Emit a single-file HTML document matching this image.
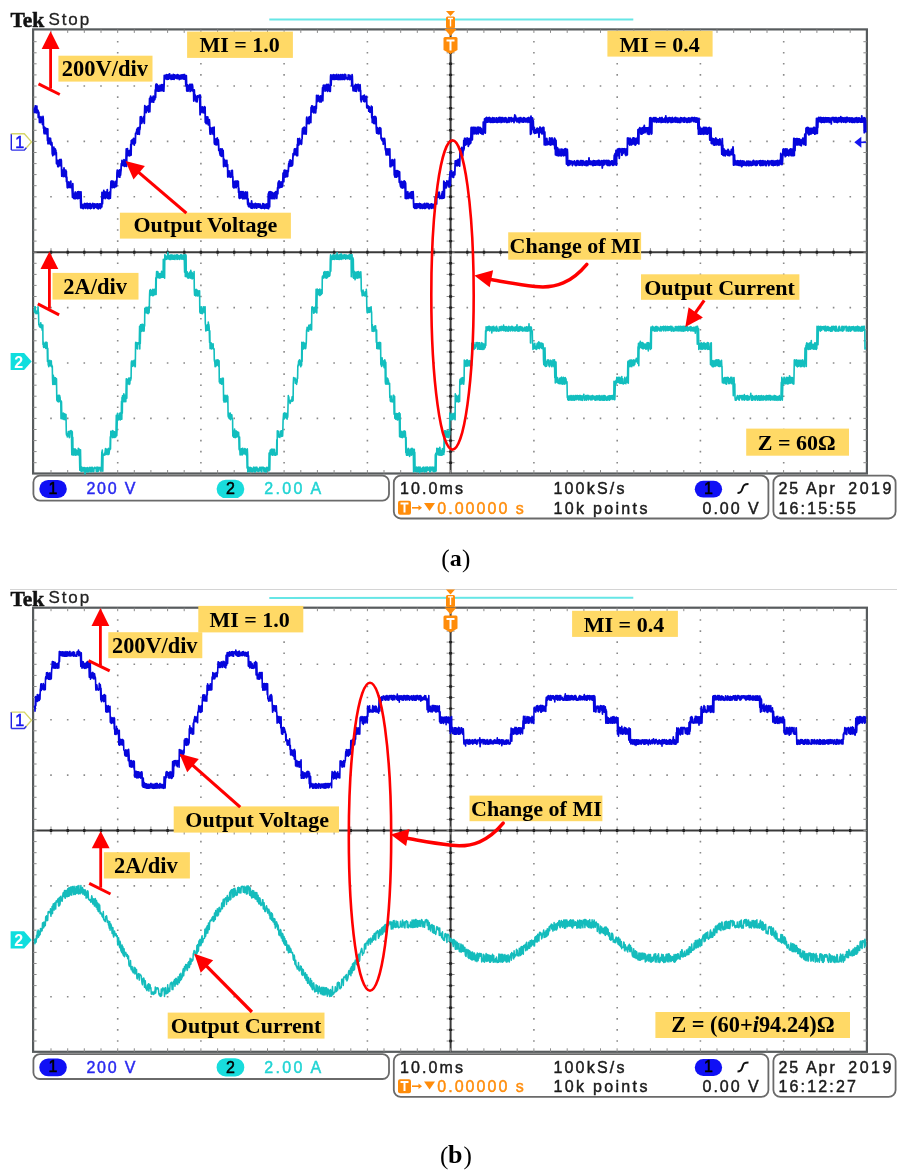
<!DOCTYPE html>
<html><head><meta charset="utf-8"><style>
html,body{margin:0;padding:0;background:#fff;width:903px;height:1173px;overflow:hidden;position:relative}
</style></head><body>
<svg width="903" height="1173" viewBox="0 0 903 1173" style="position:absolute;left:0;top:0;filter:blur(0.35px)">
<rect width="903" height="1173" fill="#fff"/>
<rect x="33.1" y="29.4" width="833.8" height="444.1" fill="none" stroke="#575b5d" stroke-width="2.2"/>
<path d="M116.9 40.9h1.6v1.6h-1.6zM116.9 52h1.6v1.6h-1.6zM116.9 63h1.6v1.6h-1.6zM116.9 74.1h1.6v1.6h-1.6zM116.9 85.2h1.6v1.6h-1.6zM116.9 96.3h1.6v1.6h-1.6zM116.9 107.4h1.6v1.6h-1.6zM116.9 118.4h1.6v1.6h-1.6zM116.9 129.5h1.6v1.6h-1.6zM116.9 140.6h1.6v1.6h-1.6zM116.9 151.7h1.6v1.6h-1.6zM116.9 162.8h1.6v1.6h-1.6zM116.9 173.8h1.6v1.6h-1.6zM116.9 184.9h1.6v1.6h-1.6zM116.9 196h1.6v1.6h-1.6zM116.9 207.1h1.6v1.6h-1.6zM116.9 218.2h1.6v1.6h-1.6zM116.9 229.2h1.6v1.6h-1.6zM116.9 240.3h1.6v1.6h-1.6zM116.9 251.4h1.6v1.6h-1.6zM116.9 262.5h1.6v1.6h-1.6zM116.9 273.6h1.6v1.6h-1.6zM116.9 284.6h1.6v1.6h-1.6zM116.9 295.7h1.6v1.6h-1.6zM116.9 306.8h1.6v1.6h-1.6zM116.9 317.9h1.6v1.6h-1.6zM116.9 329h1.6v1.6h-1.6zM116.9 340h1.6v1.6h-1.6zM116.9 351.1h1.6v1.6h-1.6zM116.9 362.2h1.6v1.6h-1.6zM116.9 373.3h1.6v1.6h-1.6zM116.9 384.4h1.6v1.6h-1.6zM116.9 395.4h1.6v1.6h-1.6zM116.9 406.5h1.6v1.6h-1.6zM116.9 417.6h1.6v1.6h-1.6zM116.9 428.7h1.6v1.6h-1.6zM116.9 439.8h1.6v1.6h-1.6zM116.9 450.8h1.6v1.6h-1.6zM116.9 461.9h1.6v1.6h-1.6zM200.1 40.9h1.6v1.6h-1.6zM200.1 52h1.6v1.6h-1.6zM200.1 63h1.6v1.6h-1.6zM200.1 74.1h1.6v1.6h-1.6zM200.1 85.2h1.6v1.6h-1.6zM200.1 96.3h1.6v1.6h-1.6zM200.1 107.4h1.6v1.6h-1.6zM200.1 118.4h1.6v1.6h-1.6zM200.1 129.5h1.6v1.6h-1.6zM200.1 140.6h1.6v1.6h-1.6zM200.1 151.7h1.6v1.6h-1.6zM200.1 162.8h1.6v1.6h-1.6zM200.1 173.8h1.6v1.6h-1.6zM200.1 184.9h1.6v1.6h-1.6zM200.1 196h1.6v1.6h-1.6zM200.1 207.1h1.6v1.6h-1.6zM200.1 218.2h1.6v1.6h-1.6zM200.1 229.2h1.6v1.6h-1.6zM200.1 240.3h1.6v1.6h-1.6zM200.1 251.4h1.6v1.6h-1.6zM200.1 262.5h1.6v1.6h-1.6zM200.1 273.6h1.6v1.6h-1.6zM200.1 284.6h1.6v1.6h-1.6zM200.1 295.7h1.6v1.6h-1.6zM200.1 306.8h1.6v1.6h-1.6zM200.1 317.9h1.6v1.6h-1.6zM200.1 329h1.6v1.6h-1.6zM200.1 340h1.6v1.6h-1.6zM200.1 351.1h1.6v1.6h-1.6zM200.1 362.2h1.6v1.6h-1.6zM200.1 373.3h1.6v1.6h-1.6zM200.1 384.4h1.6v1.6h-1.6zM200.1 395.4h1.6v1.6h-1.6zM200.1 406.5h1.6v1.6h-1.6zM200.1 417.6h1.6v1.6h-1.6zM200.1 428.7h1.6v1.6h-1.6zM200.1 439.8h1.6v1.6h-1.6zM200.1 450.8h1.6v1.6h-1.6zM200.1 461.9h1.6v1.6h-1.6zM283.3 40.9h1.6v1.6h-1.6zM283.3 52h1.6v1.6h-1.6zM283.3 63h1.6v1.6h-1.6zM283.3 74.1h1.6v1.6h-1.6zM283.3 85.2h1.6v1.6h-1.6zM283.3 96.3h1.6v1.6h-1.6zM283.3 107.4h1.6v1.6h-1.6zM283.3 118.4h1.6v1.6h-1.6zM283.3 129.5h1.6v1.6h-1.6zM283.3 140.6h1.6v1.6h-1.6zM283.3 151.7h1.6v1.6h-1.6zM283.3 162.8h1.6v1.6h-1.6zM283.3 173.8h1.6v1.6h-1.6zM283.3 184.9h1.6v1.6h-1.6zM283.3 196h1.6v1.6h-1.6zM283.3 207.1h1.6v1.6h-1.6zM283.3 218.2h1.6v1.6h-1.6zM283.3 229.2h1.6v1.6h-1.6zM283.3 240.3h1.6v1.6h-1.6zM283.3 251.4h1.6v1.6h-1.6zM283.3 262.5h1.6v1.6h-1.6zM283.3 273.6h1.6v1.6h-1.6zM283.3 284.6h1.6v1.6h-1.6zM283.3 295.7h1.6v1.6h-1.6zM283.3 306.8h1.6v1.6h-1.6zM283.3 317.9h1.6v1.6h-1.6zM283.3 329h1.6v1.6h-1.6zM283.3 340h1.6v1.6h-1.6zM283.3 351.1h1.6v1.6h-1.6zM283.3 362.2h1.6v1.6h-1.6zM283.3 373.3h1.6v1.6h-1.6zM283.3 384.4h1.6v1.6h-1.6zM283.3 395.4h1.6v1.6h-1.6zM283.3 406.5h1.6v1.6h-1.6zM283.3 417.6h1.6v1.6h-1.6zM283.3 428.7h1.6v1.6h-1.6zM283.3 439.8h1.6v1.6h-1.6zM283.3 450.8h1.6v1.6h-1.6zM283.3 461.9h1.6v1.6h-1.6zM366.6 40.9h1.6v1.6h-1.6zM366.6 52h1.6v1.6h-1.6zM366.6 63h1.6v1.6h-1.6zM366.6 74.1h1.6v1.6h-1.6zM366.6 85.2h1.6v1.6h-1.6zM366.6 96.3h1.6v1.6h-1.6zM366.6 107.4h1.6v1.6h-1.6zM366.6 118.4h1.6v1.6h-1.6zM366.6 129.5h1.6v1.6h-1.6zM366.6 140.6h1.6v1.6h-1.6zM366.6 151.7h1.6v1.6h-1.6zM366.6 162.8h1.6v1.6h-1.6zM366.6 173.8h1.6v1.6h-1.6zM366.6 184.9h1.6v1.6h-1.6zM366.6 196h1.6v1.6h-1.6zM366.6 207.1h1.6v1.6h-1.6zM366.6 218.2h1.6v1.6h-1.6zM366.6 229.2h1.6v1.6h-1.6zM366.6 240.3h1.6v1.6h-1.6zM366.6 251.4h1.6v1.6h-1.6zM366.6 262.5h1.6v1.6h-1.6zM366.6 273.6h1.6v1.6h-1.6zM366.6 284.6h1.6v1.6h-1.6zM366.6 295.7h1.6v1.6h-1.6zM366.6 306.8h1.6v1.6h-1.6zM366.6 317.9h1.6v1.6h-1.6zM366.6 329h1.6v1.6h-1.6zM366.6 340h1.6v1.6h-1.6zM366.6 351.1h1.6v1.6h-1.6zM366.6 362.2h1.6v1.6h-1.6zM366.6 373.3h1.6v1.6h-1.6zM366.6 384.4h1.6v1.6h-1.6zM366.6 395.4h1.6v1.6h-1.6zM366.6 406.5h1.6v1.6h-1.6zM366.6 417.6h1.6v1.6h-1.6zM366.6 428.7h1.6v1.6h-1.6zM366.6 439.8h1.6v1.6h-1.6zM366.6 450.8h1.6v1.6h-1.6zM366.6 461.9h1.6v1.6h-1.6zM533.1 40.9h1.6v1.6h-1.6zM533.1 52h1.6v1.6h-1.6zM533.1 63h1.6v1.6h-1.6zM533.1 74.1h1.6v1.6h-1.6zM533.1 85.2h1.6v1.6h-1.6zM533.1 96.3h1.6v1.6h-1.6zM533.1 107.4h1.6v1.6h-1.6zM533.1 118.4h1.6v1.6h-1.6zM533.1 129.5h1.6v1.6h-1.6zM533.1 140.6h1.6v1.6h-1.6zM533.1 151.7h1.6v1.6h-1.6zM533.1 162.8h1.6v1.6h-1.6zM533.1 173.8h1.6v1.6h-1.6zM533.1 184.9h1.6v1.6h-1.6zM533.1 196h1.6v1.6h-1.6zM533.1 207.1h1.6v1.6h-1.6zM533.1 218.2h1.6v1.6h-1.6zM533.1 229.2h1.6v1.6h-1.6zM533.1 240.3h1.6v1.6h-1.6zM533.1 251.4h1.6v1.6h-1.6zM533.1 262.5h1.6v1.6h-1.6zM533.1 273.6h1.6v1.6h-1.6zM533.1 284.6h1.6v1.6h-1.6zM533.1 295.7h1.6v1.6h-1.6zM533.1 306.8h1.6v1.6h-1.6zM533.1 317.9h1.6v1.6h-1.6zM533.1 329h1.6v1.6h-1.6zM533.1 340h1.6v1.6h-1.6zM533.1 351.1h1.6v1.6h-1.6zM533.1 362.2h1.6v1.6h-1.6zM533.1 373.3h1.6v1.6h-1.6zM533.1 384.4h1.6v1.6h-1.6zM533.1 395.4h1.6v1.6h-1.6zM533.1 406.5h1.6v1.6h-1.6zM533.1 417.6h1.6v1.6h-1.6zM533.1 428.7h1.6v1.6h-1.6zM533.1 439.8h1.6v1.6h-1.6zM533.1 450.8h1.6v1.6h-1.6zM533.1 461.9h1.6v1.6h-1.6zM616.4 40.9h1.6v1.6h-1.6zM616.4 52h1.6v1.6h-1.6zM616.4 63h1.6v1.6h-1.6zM616.4 74.1h1.6v1.6h-1.6zM616.4 85.2h1.6v1.6h-1.6zM616.4 96.3h1.6v1.6h-1.6zM616.4 107.4h1.6v1.6h-1.6zM616.4 118.4h1.6v1.6h-1.6zM616.4 129.5h1.6v1.6h-1.6zM616.4 140.6h1.6v1.6h-1.6zM616.4 151.7h1.6v1.6h-1.6zM616.4 162.8h1.6v1.6h-1.6zM616.4 173.8h1.6v1.6h-1.6zM616.4 184.9h1.6v1.6h-1.6zM616.4 196h1.6v1.6h-1.6zM616.4 207.1h1.6v1.6h-1.6zM616.4 218.2h1.6v1.6h-1.6zM616.4 229.2h1.6v1.6h-1.6zM616.4 240.3h1.6v1.6h-1.6zM616.4 251.4h1.6v1.6h-1.6zM616.4 262.5h1.6v1.6h-1.6zM616.4 273.6h1.6v1.6h-1.6zM616.4 284.6h1.6v1.6h-1.6zM616.4 295.7h1.6v1.6h-1.6zM616.4 306.8h1.6v1.6h-1.6zM616.4 317.9h1.6v1.6h-1.6zM616.4 329h1.6v1.6h-1.6zM616.4 340h1.6v1.6h-1.6zM616.4 351.1h1.6v1.6h-1.6zM616.4 362.2h1.6v1.6h-1.6zM616.4 373.3h1.6v1.6h-1.6zM616.4 384.4h1.6v1.6h-1.6zM616.4 395.4h1.6v1.6h-1.6zM616.4 406.5h1.6v1.6h-1.6zM616.4 417.6h1.6v1.6h-1.6zM616.4 428.7h1.6v1.6h-1.6zM616.4 439.8h1.6v1.6h-1.6zM616.4 450.8h1.6v1.6h-1.6zM616.4 461.9h1.6v1.6h-1.6zM699.6 40.9h1.6v1.6h-1.6zM699.6 52h1.6v1.6h-1.6zM699.6 63h1.6v1.6h-1.6zM699.6 74.1h1.6v1.6h-1.6zM699.6 85.2h1.6v1.6h-1.6zM699.6 96.3h1.6v1.6h-1.6zM699.6 107.4h1.6v1.6h-1.6zM699.6 118.4h1.6v1.6h-1.6zM699.6 129.5h1.6v1.6h-1.6zM699.6 140.6h1.6v1.6h-1.6zM699.6 151.7h1.6v1.6h-1.6zM699.6 162.8h1.6v1.6h-1.6zM699.6 173.8h1.6v1.6h-1.6zM699.6 184.9h1.6v1.6h-1.6zM699.6 196h1.6v1.6h-1.6zM699.6 207.1h1.6v1.6h-1.6zM699.6 218.2h1.6v1.6h-1.6zM699.6 229.2h1.6v1.6h-1.6zM699.6 240.3h1.6v1.6h-1.6zM699.6 251.4h1.6v1.6h-1.6zM699.6 262.5h1.6v1.6h-1.6zM699.6 273.6h1.6v1.6h-1.6zM699.6 284.6h1.6v1.6h-1.6zM699.6 295.7h1.6v1.6h-1.6zM699.6 306.8h1.6v1.6h-1.6zM699.6 317.9h1.6v1.6h-1.6zM699.6 329h1.6v1.6h-1.6zM699.6 340h1.6v1.6h-1.6zM699.6 351.1h1.6v1.6h-1.6zM699.6 362.2h1.6v1.6h-1.6zM699.6 373.3h1.6v1.6h-1.6zM699.6 384.4h1.6v1.6h-1.6zM699.6 395.4h1.6v1.6h-1.6zM699.6 406.5h1.6v1.6h-1.6zM699.6 417.6h1.6v1.6h-1.6zM699.6 428.7h1.6v1.6h-1.6zM699.6 439.8h1.6v1.6h-1.6zM699.6 450.8h1.6v1.6h-1.6zM699.6 461.9h1.6v1.6h-1.6zM782.9 40.9h1.6v1.6h-1.6zM782.9 52h1.6v1.6h-1.6zM782.9 63h1.6v1.6h-1.6zM782.9 74.1h1.6v1.6h-1.6zM782.9 85.2h1.6v1.6h-1.6zM782.9 96.3h1.6v1.6h-1.6zM782.9 107.4h1.6v1.6h-1.6zM782.9 118.4h1.6v1.6h-1.6zM782.9 129.5h1.6v1.6h-1.6zM782.9 140.6h1.6v1.6h-1.6zM782.9 151.7h1.6v1.6h-1.6zM782.9 162.8h1.6v1.6h-1.6zM782.9 173.8h1.6v1.6h-1.6zM782.9 184.9h1.6v1.6h-1.6zM782.9 196h1.6v1.6h-1.6zM782.9 207.1h1.6v1.6h-1.6zM782.9 218.2h1.6v1.6h-1.6zM782.9 229.2h1.6v1.6h-1.6zM782.9 240.3h1.6v1.6h-1.6zM782.9 251.4h1.6v1.6h-1.6zM782.9 262.5h1.6v1.6h-1.6zM782.9 273.6h1.6v1.6h-1.6zM782.9 284.6h1.6v1.6h-1.6zM782.9 295.7h1.6v1.6h-1.6zM782.9 306.8h1.6v1.6h-1.6zM782.9 317.9h1.6v1.6h-1.6zM782.9 329h1.6v1.6h-1.6zM782.9 340h1.6v1.6h-1.6zM782.9 351.1h1.6v1.6h-1.6zM782.9 362.2h1.6v1.6h-1.6zM782.9 373.3h1.6v1.6h-1.6zM782.9 384.4h1.6v1.6h-1.6zM782.9 395.4h1.6v1.6h-1.6zM782.9 406.5h1.6v1.6h-1.6zM782.9 417.6h1.6v1.6h-1.6zM782.9 428.7h1.6v1.6h-1.6zM782.9 439.8h1.6v1.6h-1.6zM782.9 450.8h1.6v1.6h-1.6zM782.9 461.9h1.6v1.6h-1.6zM50.2 85.2h1.6v1.6h-1.6zM66.9 85.2h1.6v1.6h-1.6zM83.5 85.2h1.6v1.6h-1.6zM100.2 85.2h1.6v1.6h-1.6zM116.9 85.2h1.6v1.6h-1.6zM133.5 85.2h1.6v1.6h-1.6zM150.1 85.2h1.6v1.6h-1.6zM166.8 85.2h1.6v1.6h-1.6zM183.4 85.2h1.6v1.6h-1.6zM200.1 85.2h1.6v1.6h-1.6zM216.8 85.2h1.6v1.6h-1.6zM233.4 85.2h1.6v1.6h-1.6zM250 85.2h1.6v1.6h-1.6zM266.7 85.2h1.6v1.6h-1.6zM283.3 85.2h1.6v1.6h-1.6zM300 85.2h1.6v1.6h-1.6zM316.6 85.2h1.6v1.6h-1.6zM333.3 85.2h1.6v1.6h-1.6zM349.9 85.2h1.6v1.6h-1.6zM366.6 85.2h1.6v1.6h-1.6zM383.2 85.2h1.6v1.6h-1.6zM399.9 85.2h1.6v1.6h-1.6zM416.5 85.2h1.6v1.6h-1.6zM433.2 85.2h1.6v1.6h-1.6zM449.8 85.2h1.6v1.6h-1.6zM466.5 85.2h1.6v1.6h-1.6zM483.1 85.2h1.6v1.6h-1.6zM499.8 85.2h1.6v1.6h-1.6zM516.5 85.2h1.6v1.6h-1.6zM533.1 85.2h1.6v1.6h-1.6zM549.8 85.2h1.6v1.6h-1.6zM566.4 85.2h1.6v1.6h-1.6zM583.1 85.2h1.6v1.6h-1.6zM599.7 85.2h1.6v1.6h-1.6zM616.4 85.2h1.6v1.6h-1.6zM633 85.2h1.6v1.6h-1.6zM649.6 85.2h1.6v1.6h-1.6zM666.3 85.2h1.6v1.6h-1.6zM683 85.2h1.6v1.6h-1.6zM699.6 85.2h1.6v1.6h-1.6zM716.2 85.2h1.6v1.6h-1.6zM732.9 85.2h1.6v1.6h-1.6zM749.6 85.2h1.6v1.6h-1.6zM766.2 85.2h1.6v1.6h-1.6zM782.9 85.2h1.6v1.6h-1.6zM799.5 85.2h1.6v1.6h-1.6zM816.1 85.2h1.6v1.6h-1.6zM832.8 85.2h1.6v1.6h-1.6zM849.5 85.2h1.6v1.6h-1.6zM50.2 140.6h1.6v1.6h-1.6zM66.9 140.6h1.6v1.6h-1.6zM83.5 140.6h1.6v1.6h-1.6zM100.2 140.6h1.6v1.6h-1.6zM116.9 140.6h1.6v1.6h-1.6zM133.5 140.6h1.6v1.6h-1.6zM150.1 140.6h1.6v1.6h-1.6zM166.8 140.6h1.6v1.6h-1.6zM183.4 140.6h1.6v1.6h-1.6zM200.1 140.6h1.6v1.6h-1.6zM216.8 140.6h1.6v1.6h-1.6zM233.4 140.6h1.6v1.6h-1.6zM250 140.6h1.6v1.6h-1.6zM266.7 140.6h1.6v1.6h-1.6zM283.3 140.6h1.6v1.6h-1.6zM300 140.6h1.6v1.6h-1.6zM316.6 140.6h1.6v1.6h-1.6zM333.3 140.6h1.6v1.6h-1.6zM349.9 140.6h1.6v1.6h-1.6zM366.6 140.6h1.6v1.6h-1.6zM383.2 140.6h1.6v1.6h-1.6zM399.9 140.6h1.6v1.6h-1.6zM416.5 140.6h1.6v1.6h-1.6zM433.2 140.6h1.6v1.6h-1.6zM449.8 140.6h1.6v1.6h-1.6zM466.5 140.6h1.6v1.6h-1.6zM483.1 140.6h1.6v1.6h-1.6zM499.8 140.6h1.6v1.6h-1.6zM516.5 140.6h1.6v1.6h-1.6zM533.1 140.6h1.6v1.6h-1.6zM549.8 140.6h1.6v1.6h-1.6zM566.4 140.6h1.6v1.6h-1.6zM583.1 140.6h1.6v1.6h-1.6zM599.7 140.6h1.6v1.6h-1.6zM616.4 140.6h1.6v1.6h-1.6zM633 140.6h1.6v1.6h-1.6zM649.6 140.6h1.6v1.6h-1.6zM666.3 140.6h1.6v1.6h-1.6zM683 140.6h1.6v1.6h-1.6zM699.6 140.6h1.6v1.6h-1.6zM716.2 140.6h1.6v1.6h-1.6zM732.9 140.6h1.6v1.6h-1.6zM749.6 140.6h1.6v1.6h-1.6zM766.2 140.6h1.6v1.6h-1.6zM782.9 140.6h1.6v1.6h-1.6zM799.5 140.6h1.6v1.6h-1.6zM816.1 140.6h1.6v1.6h-1.6zM832.8 140.6h1.6v1.6h-1.6zM849.5 140.6h1.6v1.6h-1.6zM50.2 196h1.6v1.6h-1.6zM66.9 196h1.6v1.6h-1.6zM83.5 196h1.6v1.6h-1.6zM100.2 196h1.6v1.6h-1.6zM116.9 196h1.6v1.6h-1.6zM133.5 196h1.6v1.6h-1.6zM150.1 196h1.6v1.6h-1.6zM166.8 196h1.6v1.6h-1.6zM183.4 196h1.6v1.6h-1.6zM200.1 196h1.6v1.6h-1.6zM216.8 196h1.6v1.6h-1.6zM233.4 196h1.6v1.6h-1.6zM250 196h1.6v1.6h-1.6zM266.7 196h1.6v1.6h-1.6zM283.3 196h1.6v1.6h-1.6zM300 196h1.6v1.6h-1.6zM316.6 196h1.6v1.6h-1.6zM333.3 196h1.6v1.6h-1.6zM349.9 196h1.6v1.6h-1.6zM366.6 196h1.6v1.6h-1.6zM383.2 196h1.6v1.6h-1.6zM399.9 196h1.6v1.6h-1.6zM416.5 196h1.6v1.6h-1.6zM433.2 196h1.6v1.6h-1.6zM449.8 196h1.6v1.6h-1.6zM466.5 196h1.6v1.6h-1.6zM483.1 196h1.6v1.6h-1.6zM499.8 196h1.6v1.6h-1.6zM516.5 196h1.6v1.6h-1.6zM533.1 196h1.6v1.6h-1.6zM549.8 196h1.6v1.6h-1.6zM566.4 196h1.6v1.6h-1.6zM583.1 196h1.6v1.6h-1.6zM599.7 196h1.6v1.6h-1.6zM616.4 196h1.6v1.6h-1.6zM633 196h1.6v1.6h-1.6zM649.6 196h1.6v1.6h-1.6zM666.3 196h1.6v1.6h-1.6zM683 196h1.6v1.6h-1.6zM699.6 196h1.6v1.6h-1.6zM716.2 196h1.6v1.6h-1.6zM732.9 196h1.6v1.6h-1.6zM749.6 196h1.6v1.6h-1.6zM766.2 196h1.6v1.6h-1.6zM782.9 196h1.6v1.6h-1.6zM799.5 196h1.6v1.6h-1.6zM816.1 196h1.6v1.6h-1.6zM832.8 196h1.6v1.6h-1.6zM849.5 196h1.6v1.6h-1.6zM50.2 306.8h1.6v1.6h-1.6zM66.9 306.8h1.6v1.6h-1.6zM83.5 306.8h1.6v1.6h-1.6zM100.2 306.8h1.6v1.6h-1.6zM116.9 306.8h1.6v1.6h-1.6zM133.5 306.8h1.6v1.6h-1.6zM150.1 306.8h1.6v1.6h-1.6zM166.8 306.8h1.6v1.6h-1.6zM183.4 306.8h1.6v1.6h-1.6zM200.1 306.8h1.6v1.6h-1.6zM216.8 306.8h1.6v1.6h-1.6zM233.4 306.8h1.6v1.6h-1.6zM250 306.8h1.6v1.6h-1.6zM266.7 306.8h1.6v1.6h-1.6zM283.3 306.8h1.6v1.6h-1.6zM300 306.8h1.6v1.6h-1.6zM316.6 306.8h1.6v1.6h-1.6zM333.3 306.8h1.6v1.6h-1.6zM349.9 306.8h1.6v1.6h-1.6zM366.6 306.8h1.6v1.6h-1.6zM383.2 306.8h1.6v1.6h-1.6zM399.9 306.8h1.6v1.6h-1.6zM416.5 306.8h1.6v1.6h-1.6zM433.2 306.8h1.6v1.6h-1.6zM449.8 306.8h1.6v1.6h-1.6zM466.5 306.8h1.6v1.6h-1.6zM483.1 306.8h1.6v1.6h-1.6zM499.8 306.8h1.6v1.6h-1.6zM516.5 306.8h1.6v1.6h-1.6zM533.1 306.8h1.6v1.6h-1.6zM549.8 306.8h1.6v1.6h-1.6zM566.4 306.8h1.6v1.6h-1.6zM583.1 306.8h1.6v1.6h-1.6zM599.7 306.8h1.6v1.6h-1.6zM616.4 306.8h1.6v1.6h-1.6zM633 306.8h1.6v1.6h-1.6zM649.6 306.8h1.6v1.6h-1.6zM666.3 306.8h1.6v1.6h-1.6zM683 306.8h1.6v1.6h-1.6zM699.6 306.8h1.6v1.6h-1.6zM716.2 306.8h1.6v1.6h-1.6zM732.9 306.8h1.6v1.6h-1.6zM749.6 306.8h1.6v1.6h-1.6zM766.2 306.8h1.6v1.6h-1.6zM782.9 306.8h1.6v1.6h-1.6zM799.5 306.8h1.6v1.6h-1.6zM816.1 306.8h1.6v1.6h-1.6zM832.8 306.8h1.6v1.6h-1.6zM849.5 306.8h1.6v1.6h-1.6zM50.2 362.2h1.6v1.6h-1.6zM66.9 362.2h1.6v1.6h-1.6zM83.5 362.2h1.6v1.6h-1.6zM100.2 362.2h1.6v1.6h-1.6zM116.9 362.2h1.6v1.6h-1.6zM133.5 362.2h1.6v1.6h-1.6zM150.1 362.2h1.6v1.6h-1.6zM166.8 362.2h1.6v1.6h-1.6zM183.4 362.2h1.6v1.6h-1.6zM200.1 362.2h1.6v1.6h-1.6zM216.8 362.2h1.6v1.6h-1.6zM233.4 362.2h1.6v1.6h-1.6zM250 362.2h1.6v1.6h-1.6zM266.7 362.2h1.6v1.6h-1.6zM283.3 362.2h1.6v1.6h-1.6zM300 362.2h1.6v1.6h-1.6zM316.6 362.2h1.6v1.6h-1.6zM333.3 362.2h1.6v1.6h-1.6zM349.9 362.2h1.6v1.6h-1.6zM366.6 362.2h1.6v1.6h-1.6zM383.2 362.2h1.6v1.6h-1.6zM399.9 362.2h1.6v1.6h-1.6zM416.5 362.2h1.6v1.6h-1.6zM433.2 362.2h1.6v1.6h-1.6zM449.8 362.2h1.6v1.6h-1.6zM466.5 362.2h1.6v1.6h-1.6zM483.1 362.2h1.6v1.6h-1.6zM499.8 362.2h1.6v1.6h-1.6zM516.5 362.2h1.6v1.6h-1.6zM533.1 362.2h1.6v1.6h-1.6zM549.8 362.2h1.6v1.6h-1.6zM566.4 362.2h1.6v1.6h-1.6zM583.1 362.2h1.6v1.6h-1.6zM599.7 362.2h1.6v1.6h-1.6zM616.4 362.2h1.6v1.6h-1.6zM633 362.2h1.6v1.6h-1.6zM649.6 362.2h1.6v1.6h-1.6zM666.3 362.2h1.6v1.6h-1.6zM683 362.2h1.6v1.6h-1.6zM699.6 362.2h1.6v1.6h-1.6zM716.2 362.2h1.6v1.6h-1.6zM732.9 362.2h1.6v1.6h-1.6zM749.6 362.2h1.6v1.6h-1.6zM766.2 362.2h1.6v1.6h-1.6zM782.9 362.2h1.6v1.6h-1.6zM799.5 362.2h1.6v1.6h-1.6zM816.1 362.2h1.6v1.6h-1.6zM832.8 362.2h1.6v1.6h-1.6zM849.5 362.2h1.6v1.6h-1.6zM50.2 417.6h1.6v1.6h-1.6zM66.9 417.6h1.6v1.6h-1.6zM83.5 417.6h1.6v1.6h-1.6zM100.2 417.6h1.6v1.6h-1.6zM116.9 417.6h1.6v1.6h-1.6zM133.5 417.6h1.6v1.6h-1.6zM150.1 417.6h1.6v1.6h-1.6zM166.8 417.6h1.6v1.6h-1.6zM183.4 417.6h1.6v1.6h-1.6zM200.1 417.6h1.6v1.6h-1.6zM216.8 417.6h1.6v1.6h-1.6zM233.4 417.6h1.6v1.6h-1.6zM250 417.6h1.6v1.6h-1.6zM266.7 417.6h1.6v1.6h-1.6zM283.3 417.6h1.6v1.6h-1.6zM300 417.6h1.6v1.6h-1.6zM316.6 417.6h1.6v1.6h-1.6zM333.3 417.6h1.6v1.6h-1.6zM349.9 417.6h1.6v1.6h-1.6zM366.6 417.6h1.6v1.6h-1.6zM383.2 417.6h1.6v1.6h-1.6zM399.9 417.6h1.6v1.6h-1.6zM416.5 417.6h1.6v1.6h-1.6zM433.2 417.6h1.6v1.6h-1.6zM449.8 417.6h1.6v1.6h-1.6zM466.5 417.6h1.6v1.6h-1.6zM483.1 417.6h1.6v1.6h-1.6zM499.8 417.6h1.6v1.6h-1.6zM516.5 417.6h1.6v1.6h-1.6zM533.1 417.6h1.6v1.6h-1.6zM549.8 417.6h1.6v1.6h-1.6zM566.4 417.6h1.6v1.6h-1.6zM583.1 417.6h1.6v1.6h-1.6zM599.7 417.6h1.6v1.6h-1.6zM616.4 417.6h1.6v1.6h-1.6zM633 417.6h1.6v1.6h-1.6zM649.6 417.6h1.6v1.6h-1.6zM666.3 417.6h1.6v1.6h-1.6zM683 417.6h1.6v1.6h-1.6zM699.6 417.6h1.6v1.6h-1.6zM716.2 417.6h1.6v1.6h-1.6zM732.9 417.6h1.6v1.6h-1.6zM749.6 417.6h1.6v1.6h-1.6zM766.2 417.6h1.6v1.6h-1.6zM782.9 417.6h1.6v1.6h-1.6zM799.5 417.6h1.6v1.6h-1.6zM816.1 417.6h1.6v1.6h-1.6zM832.8 417.6h1.6v1.6h-1.6zM849.5 417.6h1.6v1.6h-1.6z" fill="#8a8a8a"/>
<line x1="450.6" y1="29.4" x2="450.6" y2="473.5" stroke="#3a3a3a" stroke-width="2"/>
<line x1="33.1" y1="252.2" x2="866.9" y2="252.2" stroke="#3a3a3a" stroke-width="2"/>
<path d="M51 248.2v8M51 29.4v3.5M51 473.5v-3.5M67.7 248.2v8M67.7 29.4v3.5M67.7 473.5v-3.5M84.3 248.2v8M84.3 29.4v3.5M84.3 473.5v-3.5M101 248.2v8M101 29.4v3.5M101 473.5v-3.5M117.7 248.2v8M117.7 29.4v3.5M117.7 473.5v-3.5M134.3 248.2v8M134.3 29.4v3.5M134.3 473.5v-3.5M150.9 248.2v8M150.9 29.4v3.5M150.9 473.5v-3.5M167.6 248.2v8M167.6 29.4v3.5M167.6 473.5v-3.5M184.2 248.2v8M184.2 29.4v3.5M184.2 473.5v-3.5M200.9 248.2v8M200.9 29.4v3.5M200.9 473.5v-3.5M217.6 248.2v8M217.6 29.4v3.5M217.6 473.5v-3.5M234.2 248.2v8M234.2 29.4v3.5M234.2 473.5v-3.5M250.8 248.2v8M250.8 29.4v3.5M250.8 473.5v-3.5M267.5 248.2v8M267.5 29.4v3.5M267.5 473.5v-3.5M284.1 248.2v8M284.1 29.4v3.5M284.1 473.5v-3.5M300.8 248.2v8M300.8 29.4v3.5M300.8 473.5v-3.5M317.4 248.2v8M317.4 29.4v3.5M317.4 473.5v-3.5M334.1 248.2v8M334.1 29.4v3.5M334.1 473.5v-3.5M350.8 248.2v8M350.8 29.4v3.5M350.8 473.5v-3.5M367.4 248.2v8M367.4 29.4v3.5M367.4 473.5v-3.5M384 248.2v8M384 29.4v3.5M384 473.5v-3.5M400.7 248.2v8M400.7 29.4v3.5M400.7 473.5v-3.5M417.3 248.2v8M417.3 29.4v3.5M417.3 473.5v-3.5M434 248.2v8M434 29.4v3.5M434 473.5v-3.5M450.6 248.2v8M450.6 29.4v3.5M450.6 473.5v-3.5M467.3 248.2v8M467.3 29.4v3.5M467.3 473.5v-3.5M483.9 248.2v8M483.9 29.4v3.5M483.9 473.5v-3.5M500.6 248.2v8M500.6 29.4v3.5M500.6 473.5v-3.5M517.2 248.2v8M517.2 29.4v3.5M517.2 473.5v-3.5M533.9 248.2v8M533.9 29.4v3.5M533.9 473.5v-3.5M550.5 248.2v8M550.5 29.4v3.5M550.5 473.5v-3.5M567.2 248.2v8M567.2 29.4v3.5M567.2 473.5v-3.5M583.9 248.2v8M583.9 29.4v3.5M583.9 473.5v-3.5M600.5 248.2v8M600.5 29.4v3.5M600.5 473.5v-3.5M617.1 248.2v8M617.1 29.4v3.5M617.1 473.5v-3.5M633.8 248.2v8M633.8 29.4v3.5M633.8 473.5v-3.5M650.4 248.2v8M650.4 29.4v3.5M650.4 473.5v-3.5M667.1 248.2v8M667.1 29.4v3.5M667.1 473.5v-3.5M683.8 248.2v8M683.8 29.4v3.5M683.8 473.5v-3.5M700.4 248.2v8M700.4 29.4v3.5M700.4 473.5v-3.5M717 248.2v8M717 29.4v3.5M717 473.5v-3.5M733.7 248.2v8M733.7 29.4v3.5M733.7 473.5v-3.5M750.4 248.2v8M750.4 29.4v3.5M750.4 473.5v-3.5M767 248.2v8M767 29.4v3.5M767 473.5v-3.5M783.6 248.2v8M783.6 29.4v3.5M783.6 473.5v-3.5M800.3 248.2v8M800.3 29.4v3.5M800.3 473.5v-3.5M816.9 248.2v8M816.9 29.4v3.5M816.9 473.5v-3.5M833.6 248.2v8M833.6 29.4v3.5M833.6 473.5v-3.5M850.2 248.2v8M850.2 29.4v3.5M850.2 473.5v-3.5M446.6 41.7h8M33.1 41.7h3.5M866.9 41.7h-3.5M446.6 52.8h8M33.1 52.8h3.5M866.9 52.8h-3.5M446.6 63.8h8M33.1 63.8h3.5M866.9 63.8h-3.5M446.6 74.9h8M33.1 74.9h3.5M866.9 74.9h-3.5M446.6 86h8M33.1 86h3.5M866.9 86h-3.5M446.6 97.1h8M33.1 97.1h3.5M866.9 97.1h-3.5M446.6 108.2h8M33.1 108.2h3.5M866.9 108.2h-3.5M446.6 119.2h8M33.1 119.2h3.5M866.9 119.2h-3.5M446.6 130.3h8M33.1 130.3h3.5M866.9 130.3h-3.5M446.6 141.4h8M33.1 141.4h3.5M866.9 141.4h-3.5M446.6 152.5h8M33.1 152.5h3.5M866.9 152.5h-3.5M446.6 163.6h8M33.1 163.6h3.5M866.9 163.6h-3.5M446.6 174.6h8M33.1 174.6h3.5M866.9 174.6h-3.5M446.6 185.7h8M33.1 185.7h3.5M866.9 185.7h-3.5M446.6 196.8h8M33.1 196.8h3.5M866.9 196.8h-3.5M446.6 207.9h8M33.1 207.9h3.5M866.9 207.9h-3.5M446.6 219h8M33.1 219h3.5M866.9 219h-3.5M446.6 230h8M33.1 230h3.5M866.9 230h-3.5M446.6 241.1h8M33.1 241.1h3.5M866.9 241.1h-3.5M446.6 252.2h8M33.1 252.2h3.5M866.9 252.2h-3.5M446.6 263.3h8M33.1 263.3h3.5M866.9 263.3h-3.5M446.6 274.4h8M33.1 274.4h3.5M866.9 274.4h-3.5M446.6 285.4h8M33.1 285.4h3.5M866.9 285.4h-3.5M446.6 296.5h8M33.1 296.5h3.5M866.9 296.5h-3.5M446.6 307.6h8M33.1 307.6h3.5M866.9 307.6h-3.5M446.6 318.7h8M33.1 318.7h3.5M866.9 318.7h-3.5M446.6 329.8h8M33.1 329.8h3.5M866.9 329.8h-3.5M446.6 340.8h8M33.1 340.8h3.5M866.9 340.8h-3.5M446.6 351.9h8M33.1 351.9h3.5M866.9 351.9h-3.5M446.6 363h8M33.1 363h3.5M866.9 363h-3.5M446.6 374.1h8M33.1 374.1h3.5M866.9 374.1h-3.5M446.6 385.2h8M33.1 385.2h3.5M866.9 385.2h-3.5M446.6 396.2h8M33.1 396.2h3.5M866.9 396.2h-3.5M446.6 407.3h8M33.1 407.3h3.5M866.9 407.3h-3.5M446.6 418.4h8M33.1 418.4h3.5M866.9 418.4h-3.5M446.6 429.5h8M33.1 429.5h3.5M866.9 429.5h-3.5M446.6 440.6h8M33.1 440.6h3.5M866.9 440.6h-3.5M446.6 451.6h8M33.1 451.6h3.5M866.9 451.6h-3.5M446.6 462.7h8M33.1 462.7h3.5M866.9 462.7h-3.5" stroke="#8a8a8a" stroke-width="1" fill="none"/>
<path d="M49.8 250.7h2.4v3h-2.4zM66.5 250.7h2.4v3h-2.4zM83.1 250.7h2.4v3h-2.4zM99.8 250.7h2.4v3h-2.4zM116.5 250.7h2.4v3h-2.4zM133.1 250.7h2.4v3h-2.4zM149.8 250.7h2.4v3h-2.4zM166.4 250.7h2.4v3h-2.4zM183.1 250.7h2.4v3h-2.4zM199.7 250.7h2.4v3h-2.4zM216.4 250.7h2.4v3h-2.4zM233 250.7h2.4v3h-2.4zM249.7 250.7h2.4v3h-2.4zM266.3 250.7h2.4v3h-2.4zM282.9 250.7h2.4v3h-2.4zM299.6 250.7h2.4v3h-2.4zM316.2 250.7h2.4v3h-2.4zM332.9 250.7h2.4v3h-2.4zM349.6 250.7h2.4v3h-2.4zM366.2 250.7h2.4v3h-2.4zM382.8 250.7h2.4v3h-2.4zM399.5 250.7h2.4v3h-2.4zM416.1 250.7h2.4v3h-2.4zM432.8 250.7h2.4v3h-2.4zM449.4 250.7h2.4v3h-2.4zM466.1 250.7h2.4v3h-2.4zM482.8 250.7h2.4v3h-2.4zM499.4 250.7h2.4v3h-2.4zM516 250.7h2.4v3h-2.4zM532.7 250.7h2.4v3h-2.4zM549.3 250.7h2.4v3h-2.4zM566 250.7h2.4v3h-2.4zM582.6 250.7h2.4v3h-2.4zM599.3 250.7h2.4v3h-2.4zM615.9 250.7h2.4v3h-2.4zM632.6 250.7h2.4v3h-2.4zM649.2 250.7h2.4v3h-2.4zM665.9 250.7h2.4v3h-2.4zM682.5 250.7h2.4v3h-2.4zM699.2 250.7h2.4v3h-2.4zM715.8 250.7h2.4v3h-2.4zM732.5 250.7h2.4v3h-2.4zM749.1 250.7h2.4v3h-2.4zM765.8 250.7h2.4v3h-2.4zM782.4 250.7h2.4v3h-2.4zM799.1 250.7h2.4v3h-2.4zM815.7 250.7h2.4v3h-2.4zM832.4 250.7h2.4v3h-2.4zM849 250.7h2.4v3h-2.4zM449.1 40.5h3v2.4h-3zM449.1 51.6h3v2.4h-3zM449.1 62.6h3v2.4h-3zM449.1 73.7h3v2.4h-3zM449.1 84.8h3v2.4h-3zM449.1 95.9h3v2.4h-3zM449.1 107h3v2.4h-3zM449.1 118h3v2.4h-3zM449.1 129.1h3v2.4h-3zM449.1 140.2h3v2.4h-3zM449.1 151.3h3v2.4h-3zM449.1 162.4h3v2.4h-3zM449.1 173.4h3v2.4h-3zM449.1 184.5h3v2.4h-3zM449.1 195.6h3v2.4h-3zM449.1 206.7h3v2.4h-3zM449.1 217.8h3v2.4h-3zM449.1 228.8h3v2.4h-3zM449.1 239.9h3v2.4h-3zM449.1 251h3v2.4h-3zM449.1 262.1h3v2.4h-3zM449.1 273.2h3v2.4h-3zM449.1 284.2h3v2.4h-3zM449.1 295.3h3v2.4h-3zM449.1 306.4h3v2.4h-3zM449.1 317.5h3v2.4h-3zM449.1 328.6h3v2.4h-3zM449.1 339.6h3v2.4h-3zM449.1 350.7h3v2.4h-3zM449.1 361.8h3v2.4h-3zM449.1 372.9h3v2.4h-3zM449.1 384h3v2.4h-3zM449.1 395h3v2.4h-3zM449.1 406.1h3v2.4h-3zM449.1 417.2h3v2.4h-3zM449.1 428.3h3v2.4h-3zM449.1 439.4h3v2.4h-3zM449.1 450.4h3v2.4h-3zM449.1 461.5h3v2.4h-3z" fill="#222"/>
<text x="10.4" y="27.2" font-family="'Liberation Serif', serif" font-size="21.5" font-weight="bold" fill="#111" stroke="#111" stroke-width="0.5">Tek</text>
<text x="48.6" y="25" font-family="'Liberation Sans', sans-serif" font-size="17" font-weight="normal" fill="#222" textLength="40.5" lengthAdjust="spacing" stroke="#222" stroke-width="0.3">Stop</text>
<line x1="269.3" y1="19.5" x2="633.3" y2="19.4" stroke="#66e6e6" stroke-width="2"/>
<path d="M446 11h9l-4.5 5z" fill="#ff8c0a"/>
<rect x="446" y="16.5" width="9" height="12" rx="1.5" fill="#ff8c0a"/>
<path d="M448 18.5h5M450.5 18.5v8" stroke="#fff" stroke-width="1.4" fill="none"/>
<path d="M444.5 29h12l-6 7z" fill="#ff8c0a"/>
<path d="M443.5 38.5q0-1.5 1.5-1.5h11q1.5 0 1.5 1.5v11.5l-7 4l-7-4z" fill="#ff8c0a"/>
<path d="M446.5 40.5h8M450.5 40.5v10" stroke="#fff" stroke-width="2" fill="none"/>
<path d="M11.3 150.1V133.7" stroke="#2020e0" stroke-width="1.4" fill="none"/>
<path d="M11.3 133.7h13l7.2 8.2l-7.2 8.2" stroke="#d6d66a" stroke-width="1.4" fill="none"/>
<path d="M11.3 150.1h13l2-2.3" stroke="#3030e8" stroke-width="1.4" fill="none"/>
<text x="15.2" y="147.9" font-family="'Liberation Sans', sans-serif" font-size="16" font-weight="normal" fill="#1515f0" stroke="#1515f0" stroke-width="0.6">1</text>
<path d="M10.6 352.9h13.5l7.6 8.6l-7.6 8.6h-13.5z" fill="#10dede"/>
<text x="14.3" y="367.7" font-family="'Liberation Sans', sans-serif" font-size="16" font-weight="bold" fill="#fff">2</text>
<path d="M854.3 142.3l7-5.5v11z" fill="#1515f0"/>
<path d="M860 142.3h6" stroke="#1515f0" stroke-width="1.6"/>
<polyline points="34.3,107.4 34.5,112.4 34.8,111.6 35,111.1 35.3,105.8 35.5,105.8 35.8,112.3 36,111.9 36.3,112.8 36.5,107.7 36.8,106.1 37,111.8 37.3,112 37.5,112 37.8,111.6 38,110.3 38.3,117.4 38.5,117.5 38.8,112.1 39,116.8 39.3,117.7 39.5,122.4 39.8,117.8 40,117.4 40.3,117.5 40.5,122.5 40.8,120 41,116.7 41.3,120.6 41.5,117.6 41.8,121.2 42,118.5 42.3,122.9 42.5,124.5 42.8,121.2 43,116.5 43.3,119.5 43.5,128.3 43.8,127.2 44,132.5 44.3,133.7 44.5,127.2 44.8,128.7 45,133.5 45.3,128 45.5,132.2 45.8,128.5 46,133.5 46.3,132.7 46.5,131.4 46.8,128.7 47,134.2 47.3,133.9 47.5,140.5 47.8,128.9 48,143.7 48.3,142.8 48.5,139.2 48.8,138.2 49,142.5 49.3,143.7 49.5,139.1 49.8,141.9 50,138.2 50.3,142.9 50.5,138.4 50.8,144.7 51,144.5 51.3,144.8 51.5,143.5 51.8,142.7 52,144.4 52.3,153.9 52.5,148.7 52.8,155.7 53,153.8 53.3,154 53.5,148.4 53.8,147.2 54,154.7 54.3,153.2 54.5,148.7 54.8,149.2 55,148.8 55.3,149.1 55.5,150.7 55.8,150.4 56,154.9 56.3,152.6 56.5,163.6 56.8,162.1 57,161.7 57.3,164.5 57.5,160.4 57.8,166.5 58,165.5 58.3,165.1 58.5,166.5 58.8,164.4 59,165 59.3,160 59.5,159.6 59.8,161.6 60,160.5 60.3,165.6 60.5,160.4 60.8,161.1 61,159.5 61.3,160.6 61.5,166.5 61.8,176.1 62,172.5 62.3,170.8 62.5,170.2 62.8,170.9 63,172.3 63.3,176.5 63.5,171.1 63.8,171 64,168 64.3,172.8 64.5,176.3 64.8,172.5 65,175.8 65.3,170.9 65.5,170.2 65.8,170.2 66,177.2 66.3,171.3 66.5,181.5 66.8,177.1 67,182 67.3,187.4 67.5,187.7 67.8,182.4 68,185.9 68.3,187.1 68.5,185.5 68.8,181.9 69,187.4 69.3,182.7 69.5,187 69.8,187.4 70,186.6 70.3,186 70.5,187.5 70.8,181.2 71,186.5 71.3,186.1 71.5,187.2 71.8,186.9 72,186.7 72.3,192.2 72.5,197.3 72.8,183.7 73,192.3 73.3,197.4 73.5,194.1 73.8,198.4 74,197.7 74.3,197.3 74.5,194.5 74.8,198.6 75,193 75.3,192 75.5,192.5 75.8,198.7 76,194.5 76.3,193.7 76.5,198.2 76.8,197.3 77,193.5 77.3,193.1 77.5,191.8 77.8,198.7 78,193.4 78.3,191.9 78.5,191.8 78.8,191.7 79,198.2 79.3,195.8 79.5,196.3 79.8,197.3 80,191.9 80.3,192.7 80.5,198.8 80.8,207.8 81,191.8 81.3,204.9 81.5,207.5 81.8,207.6 82,204.2 82.3,208.2 82.5,207.7 82.8,208.3 83,205.1 83.3,208.2 83.5,208.5 83.8,207.7 84,205.6 84.3,203.6 84.5,203.7 84.8,204.9 85,203.7 85.3,204.2 85.5,208.1 85.8,208.3 86,207.9 86.3,203.7 86.5,205.8 86.8,206.7 87,206.5 87.3,203.5 87.5,203.7 87.8,208.5 88,207.8 88.3,208 88.5,204.2 88.8,207.3 89,207.6 89.3,203.6 89.5,207.3 89.8,208.2 90,207.5 90.3,203.7 90.5,208.5 90.8,208.2 91,207.2 91.3,208.1 91.5,206.5 91.8,204.4 92,204.4 92.3,204.2 92.5,203.8 92.8,203.5 93,203.8 93.3,206.9 93.5,208.4 93.8,205 94,204.2 94.3,208.3 94.5,203.8 94.8,205.8 95,206.6 95.3,204.8 95.5,207 95.8,204.2 96,207.3 96.3,207.2 96.5,207.1 96.8,207.8 97,204 97.3,208 97.5,203.9 97.8,204.1 98,204.2 98.3,208.9 98.5,204.7 98.8,208 99,207.5 99.3,203.9 99.5,204.6 99.8,206.4 100,205.2 100.3,208.5 100.5,204 100.8,207.9 101,204 101.3,204.9 101.5,204.7 101.8,206.9 102,192.3 102.3,204 102.5,203.6 102.8,192.7 103,198.6 103.3,198.5 103.5,193.4 103.8,190.5 104,192.8 104.3,197.1 104.5,196.1 104.8,192 105,197.9 105.3,198.5 105.5,194.1 105.8,192.1 106,197.1 106.3,192.4 106.5,197.6 106.8,194.4 107,192.6 107.3,189.6 107.5,193 107.8,198.2 108,197.4 108.3,192.9 108.5,198.7 108.8,197.6 109,192.8 109.3,198.7 109.5,194.5 109.8,192.6 110,191.7 110.3,198.2 110.5,193.7 110.8,186.2 111,181.5 111.3,182.7 111.5,182.3 111.8,185.3 112,181 112.3,186 112.5,187.7 112.8,187.2 113,182 113.3,187.2 113.5,181.4 113.8,186.3 114,183.1 114.3,183.5 114.5,187.5 114.8,186.8 115,183.1 115.3,186.7 115.5,181.5 115.8,185.8 116,186.7 116.3,182.4 116.5,186.1 116.8,181.7 117,172.9 117.3,170.2 117.5,176.6 117.8,175 118,176.7 118.3,176.8 118.5,176.7 118.8,170.9 119,170.4 119.3,176 119.5,170 119.8,177.2 120,170.4 120.3,171 120.5,175.3 120.8,171.6 121,170.4 121.3,163.7 121.5,164.1 121.8,165.3 122,160.3 122.3,165 122.5,163.9 122.8,165.3 123,162.3 123.3,165.1 123.5,165.7 123.8,165.1 124,159.6 124.3,160.2 124.5,166.3 124.8,163.7 125,166.1 125.3,162 125.5,165.3 125.8,164.7 126,159.9 126.3,149 126.5,166.3 126.8,155.5 127,155.4 127.3,153.8 127.5,148.7 127.8,153.8 128.1,155.7 128.3,151.8 128.6,151.9 128.8,151.6 129.1,154 129.3,150.7 129.6,155.8 129.8,150.3 130.1,155.5 130.3,153.8 130.6,155 130.8,144.3 131.1,155 131.3,140.6 131.6,143.2 131.8,144.5 132.1,142.3 132.3,139.7 132.6,141.9 132.8,139.9 133.1,140.2 133.3,143.2 133.6,138.4 133.8,143.5 134.1,144.7 134.3,145 134.6,139.7 134.8,138.4 135.1,141.6 135.3,143 135.6,133.4 135.8,134.2 136.1,133.1 136.3,132 136.6,133.1 136.8,129.5 137.1,129.1 137.3,131.8 137.6,128.1 137.8,134.1 138.1,129 138.3,132.8 138.6,127.6 138.8,129.9 139.1,127.5 139.3,134.3 139.6,127.5 139.8,129.9 140.1,127.3 140.3,116.9 140.6,122.1 140.8,123.3 141.1,116.7 141.3,117.2 141.6,123.4 141.8,123.1 142.1,122 142.3,121.3 142.6,118.5 142.8,119 143.1,121.5 143.3,121.4 143.6,116.7 143.8,117.5 144.1,117.1 144.3,123.3 144.6,111.4 144.8,105.7 145.1,108.4 145.3,111 145.6,109.3 145.8,110.6 146.1,112.6 146.3,106.7 146.6,107.4 146.8,108.7 147.1,110.3 147.3,108.2 147.6,110.7 147.8,107.6 148.1,105.9 148.3,110.2 148.6,112.1 148.8,111.3 149.1,109.7 149.3,111.1 149.6,98.4 149.8,111.6 150.1,101.2 150.3,99.9 150.6,96.2 150.8,97.8 151.1,97.8 151.3,101.9 151.6,100.8 151.8,100 152.1,101.8 152.3,101.8 152.6,97.1 152.8,101.2 153.1,101 153.3,96.1 153.6,102.1 153.8,96.4 154.1,100.2 154.3,100 154.6,96.6 154.8,99.7 155.1,95.7 155.3,89.9 155.6,97.4 155.8,85.3 156.1,84.2 156.3,91.2 156.6,89.3 156.8,84.2 157.1,90.1 157.3,84.6 157.6,90.3 157.8,91.1 158.1,85.7 158.3,86 158.6,90.7 158.8,88.6 159.1,91.2 159.3,89.7 159.6,89.8 159.8,89.3 160.1,85.1 160.3,90.8 160.6,89.8 160.8,86.3 161.1,86.9 161.3,85.7 161.6,90.5 161.8,84.6 162.1,85.7 162.3,87.4 162.6,90.5 162.8,86 163.1,84.7 163.3,88.8 163.6,84.6 163.8,91.2 164.1,84.2 164.3,75.3 164.6,77.1 164.8,77.5 165.1,78.9 165.3,75.7 165.6,78.7 165.8,75.9 166.1,77.5 166.3,74.7 166.6,78.5 166.8,79.1 167.1,79.4 167.3,75.9 167.6,74.9 167.8,76.4 168.1,76.5 168.3,74.7 168.6,79.2 168.8,77.9 169.1,75.5 169.3,75.3 169.6,73.8 169.8,77.8 170.1,75.2 170.3,78.2 170.6,78.7 170.8,77.8 171.1,76.2 171.3,79.4 171.6,75.1 171.8,77.1 172.1,79.2 172.3,75.7 172.6,78.4 172.8,79.2 173.1,78.7 173.3,74.5 173.6,74.7 173.8,77.9 174.1,79.3 174.3,78.9 174.6,74.8 174.8,78.3 175.1,75.1 175.3,77.8 175.6,75.9 175.8,76.1 176.1,76 176.3,75.2 176.6,78.3 176.8,76.3 177.1,75.3 177.3,78.7 177.6,74.6 177.8,78.5 178.1,74.8 178.3,77.7 178.6,75.7 178.8,77.8 179.1,75.3 179.3,79.5 179.6,79.1 179.8,76.1 180.1,79.1 180.3,75.7 180.6,78.5 180.8,78.6 181.1,75 181.3,76.4 181.6,75.9 181.8,78.8 182.1,75.1 182.3,75.1 182.6,78.7 182.8,75.4 183.1,74.8 183.3,75.2 183.6,75.7 183.8,79 184.1,74.7 184.3,75.2 184.6,74.6 184.8,79 185.1,75.6 185.3,79.1 185.6,79.4 185.8,84.4 186.1,86.3 186.3,75.6 186.6,85.3 186.8,90.9 187.1,89.8 187.3,85.1 187.6,85 187.8,86.2 188.1,91.2 188.3,88.5 188.6,88.5 188.8,89 189.1,86.2 189.3,85.4 189.6,89.2 189.8,84.4 190.1,91.4 190.3,91.1 190.6,88.8 190.8,84.3 191.1,84.4 191.3,84.4 191.6,84.5 191.8,90.4 192.1,90.8 192.3,84.3 192.6,86 192.8,88.4 193.1,90.2 193.3,91 193.6,91.1 193.8,101 194.1,95.2 194.3,90 194.6,97 194.8,99.5 195.1,94.9 195.3,96.1 195.6,96.6 195.8,99.8 196.1,101.6 196.3,99.7 196.6,101.3 196.8,97 197.1,101.8 197.3,95.8 197.6,97.6 197.8,95.9 198.1,96.1 198.3,96.4 198.6,96.1 198.8,96.8 199.1,96.1 199.3,95.2 199.6,100.1 199.8,100.8 200.1,114.7 200.3,95.1 200.6,107.4 200.8,112.7 201.1,111.2 201.3,107.4 201.6,110.7 201.8,111.8 202.1,107.8 202.3,106.8 202.6,108.4 202.8,107.1 203.1,112.6 203.3,107.5 203.6,111.6 203.8,110.8 204.1,112.8 204.3,112 204.6,106.6 204.8,112.1 205.1,107.3 205.3,122.3 205.6,119.4 205.8,122.4 206.1,123.5 206.3,116.8 206.6,123.5 206.8,118.1 207.1,123 207.3,123.4 207.6,116.9 207.8,117.1 208.1,123.2 208.3,124.9 208.6,123 208.8,123.3 209.1,123.1 209.3,119.6 209.6,123.1 209.8,129.4 210.1,134 210.3,133.5 210.6,127.6 210.8,134.2 211.1,128.2 211.3,132.6 211.6,132.2 211.8,132 212.1,128.3 212.3,130 212.6,127.7 212.8,133.1 213.1,134.3 213.3,128.1 213.6,128.6 213.8,128.7 214.1,127.2 214.3,142.6 214.6,144.2 214.8,143.9 215.1,139.5 215.3,139.3 215.6,144.7 215.8,144.6 216.1,138.8 216.3,143.7 216.6,144.9 216.8,144.5 217.1,138.2 217.3,137.9 217.6,142.6 217.8,140.3 218.1,144.8 218.3,139.8 218.6,144.6 218.8,150.4 219.1,150.1 219.3,149.2 219.6,149.9 219.8,153.1 220.1,154.4 220.3,155.4 220.6,148.8 220.8,155.6 221.1,149.5 221.3,149.1 221.6,156.3 221.8,155.2 222.1,148.8 222.3,155.8 222.6,155.4 222.8,154.7 223.1,150.4 223.3,154.8 223.6,166.6 223.8,166.5 224.1,159.6 224.3,159.5 224.6,163.7 224.8,161.9 225.1,160.4 225.3,163.6 225.6,166.2 225.8,164.9 226.1,166.4 226.3,160.8 226.6,160.9 226.8,160.3 227.1,166.4 227.3,166.4 227.6,164.7 227.8,176.9 228.1,176.7 228.3,171.3 228.6,173 228.8,173.9 229.1,171 229.3,176.4 229.6,176.7 229.8,172.9 230.1,175.3 230.3,177.1 230.6,177 230.8,177.2 231.1,175.9 231.3,170.6 231.6,172.1 231.8,170.8 232.1,175.6 232.3,170.4 232.6,177.3 232.8,176.6 233.1,187 233.3,182.3 233.6,186.1 233.8,187.8 234.1,187.7 234.3,187.6 234.6,181.4 234.8,183.5 235.1,187.2 235.3,185.3 235.6,181.2 235.8,182.8 236.1,187.7 236.3,187.2 236.6,181.4 236.8,184.2 237.1,181 237.3,181.4 237.6,183.5 237.8,186.2 238.1,181.7 238.3,181.5 238.6,192.6 238.8,188.1 239.1,197.6 239.3,191.8 239.6,198.4 239.8,197.3 240.1,191.7 240.3,198 240.6,197.9 240.8,193.3 241.1,191.9 241.3,197.8 241.6,193.2 241.8,191.7 242.1,193.8 242.3,194.7 242.6,195.9 242.8,198.8 243.1,191.7 243.3,195.9 243.6,192.8 243.8,198.2 244.1,198.5 244.3,196.9 244.6,193.7 244.8,198.7 245.1,192.1 245.3,192.1 245.6,192.8 245.8,192 246.1,197.7 246.3,198.6 246.6,193.3 246.8,194.1 247.1,198.3 247.3,192.1 247.6,203 247.8,204.7 248.1,198.8 248.3,205.1 248.6,206.5 248.8,204.8 249.1,205.8 249.3,203.5 249.6,203.5 249.8,203.5 250.1,207.1 250.3,205.1 250.6,207.5 250.8,205.4 251.1,207.4 251.3,208.2 251.6,201 251.8,203.8 252.1,203.5 252.3,208.3 252.6,204.1 252.8,205 253.1,206.7 253.3,204.9 253.6,204.3 253.8,204 254.1,208 254.3,205.3 254.6,207.9 254.8,204.9 255.1,207.5 255.3,203.5 255.6,204.9 255.8,203.7 256.1,204.7 256.3,207.9 256.6,205.1 256.8,208.2 257.1,203.9 257.3,206.6 257.6,205.4 257.8,204.8 258.1,207 258.3,204 258.6,205 258.8,205.2 259.1,204.1 259.3,207.4 259.6,207.4 259.8,204.1 260.1,204.4 260.3,204.3 260.6,207.2 260.8,208.1 261.1,207.5 261.3,208.1 261.6,208.3 261.8,207.5 262.1,205.8 262.3,208.2 262.6,204.8 262.8,203.6 263.1,207.6 263.3,205.5 263.6,208 263.8,203.9 264.1,207.7 264.3,207.1 264.6,208.5 264.8,206.6 265.1,207.8 265.3,207.3 265.6,204.4 265.8,205.1 266.1,208.2 266.3,207.3 266.6,207.3 266.8,203.9 267.1,204.2 267.3,204.5 267.6,208.3 267.8,204.7 268.1,208.5 268.3,194 268.6,208.6 268.8,192.9 269.1,192 269.3,194 269.6,206.8 269.8,192 270.1,191.7 270.3,198.1 270.6,198.4 270.8,191.8 271.1,194.2 271.3,198.5 271.6,196.7 271.8,192.1 272.1,192.7 272.3,197.4 272.6,198.5 272.8,195.2 273.1,193.6 273.3,198.5 273.6,197.5 273.8,197.7 274.1,193 274.3,192.9 274.6,193.1 274.8,198.7 275.1,192.3 275.3,194.3 275.6,191.9 275.8,191.7 276.1,196.9 276.3,193.1 276.6,191.7 276.8,198.4 277.1,191.9 277.3,193.2 277.6,187.7 277.8,193.6 278.1,182.8 278.3,187 278.6,181.6 278.8,182.7 279.1,181 279.3,182.6 279.6,187.8 279.8,185.8 280.1,182.5 280.3,186.8 280.6,187 280.8,187 281.1,181.9 281.3,182.1 281.6,187 281.8,185.4 282.1,186.9 282.3,186.7 282.6,185.8 282.8,181.3 283.1,173.1 283.3,175.3 283.6,177.3 283.8,181.7 284.1,170.4 284.3,177.1 284.6,170.2 284.8,172.3 285.1,176.5 285.3,177 285.6,176.9 285.8,170.3 286.1,174.6 286.3,174.6 286.6,176.5 286.8,171.2 287.1,170.7 287.3,176.6 287.6,176.5 287.8,172.4 288.1,171.3 288.3,171.5 288.6,165.5 288.8,163.6 289.1,165.1 289.3,161.3 289.6,165.6 289.8,166.4 290.1,159.8 290.3,165.5 290.6,160.1 290.8,165.5 291.1,160.7 291.3,166 291.6,165.3 291.8,164.4 292.1,165.4 292.3,165.6 292.6,164.4 292.8,159.6 293.1,153.7 293.3,156 293.6,155.3 293.8,154.8 294.1,153.5 294.3,149.8 294.6,148.8 294.8,149.2 295.1,154.2 295.3,154.5 295.6,154.4 295.8,153.5 296.1,148.7 296.3,152.7 296.6,155.7 296.8,149.7 297.1,155.6 297.3,144.4 297.6,155.6 297.8,138.7 298.1,144.4 298.3,143.8 298.6,139.4 298.8,145.1 299.1,144 299.3,139 299.6,138.5 299.8,142.6 300.1,142.6 300.3,141.3 300.6,140.5 300.8,143.8 301.1,143.5 301.3,144.3 301.6,143.7 301.8,139.6 302.1,138.4 302.3,131.5 302.6,128.4 302.8,131.6 303.1,133.7 303.3,128 303.6,128 303.8,127.5 304.1,133.9 304.3,127.2 304.6,133.6 304.8,131.9 305.1,128.4 305.3,132.6 305.6,127.7 305.8,133.3 306.1,134.1 306.3,131.7 306.6,118.6 306.8,117.1 307.1,121.6 307.3,122.8 307.6,121.4 307.8,123.5 308.1,123.1 308.3,123 308.6,122.8 308.8,117.6 309.1,123.6 309.3,116.6 309.6,119.1 309.8,121.9 310.1,116.9 310.3,116.6 310.6,120.8 310.8,122.7 311.1,107.5 311.3,112.7 311.6,107.4 311.8,105.8 312.1,107 312.3,111.3 312.6,106.1 312.8,111.5 313.1,107.5 313.3,111.9 313.6,112.7 313.8,112.5 314.1,110.9 314.3,106.9 314.6,111.1 314.8,112.6 315.1,111.7 315.3,106.5 315.6,112.8 315.8,111.1 316.1,105.8 316.3,108.4 316.6,95.3 316.8,96.6 317.1,100.1 317.3,101.7 317.6,99.1 317.8,101.3 318.1,95.4 318.3,100.3 318.6,99.1 318.8,97 319.1,100.8 319.3,96.8 319.6,101.8 319.8,100.3 320.1,101.3 320.3,95.8 320.6,96.2 320.8,100.6 321.1,102 321.3,99.8 321.6,101.1 321.8,99.5 322.1,95.3 322.3,95.2 322.6,87.7 322.8,100.7 323.1,89.9 323.3,85.5 323.6,89.7 323.8,85.1 324.1,85.4 324.3,85.8 324.6,89.7 324.8,85.4 325.1,91.1 325.3,87.1 325.6,86.2 325.8,88.7 326.1,84.8 326.3,90.4 326.6,88.4 326.8,84.4 327.1,86.4 327.3,85 327.6,91.3 327.8,89.1 328.1,88.2 328.3,84.4 328.6,90.4 328.8,85.2 329.1,86.1 329.3,89.1 329.6,90.5 329.8,91.3 330.1,87.2 330.3,91.3 330.6,76.6 330.8,74.9 331.1,85.2 331.3,79.3 331.6,76.9 331.8,75.4 332.1,75.4 332.3,79.4 332.6,77.5 332.8,76.2 333.1,78.1 333.3,74.6 333.6,79.3 333.8,78.3 334.1,74.8 334.3,78.2 334.6,79.1 334.8,79.4 335.1,77.5 335.3,75.1 335.6,79 335.8,78.2 336.1,79.2 336.3,78.8 336.6,74.6 336.8,74.5 337.1,79.1 337.3,79.3 337.6,78.6 337.8,76 338.1,79 338.3,78.5 338.6,79.5 338.8,74.7 339.1,75.7 339.3,79.2 339.6,79.3 339.8,78.2 340.1,79.5 340.3,79.4 340.6,75.3 340.8,74.6 341.1,77.9 341.3,75 341.6,75.1 341.8,79.4 342.1,78.6 342.3,78.4 342.6,74.6 342.8,79.3 343.1,74.9 343.3,79 343.6,76 343.8,76.5 344.1,79.5 344.3,74.8 344.6,74.5 344.8,79.4 345.1,75.2 345.3,78.6 345.6,74.6 345.8,75.8 346.1,78.4 346.3,78 346.6,77.6 346.8,78.2 347.1,78.2 347.3,79.4 347.6,77.8 347.8,79.3 348.1,78.1 348.3,74.8 348.6,75.4 348.8,78.5 349.1,75.3 349.3,78 349.6,79.5 349.8,75.1 350.1,76.6 350.3,75.8 350.6,79.3 350.8,78.3 351.1,78.9 351.3,79 351.6,76.4 351.8,85.8 352.1,74.7 352.3,76.4 352.6,85.1 352.8,84.8 353.1,90.6 353.3,90.7 353.6,86.9 353.8,89.3 354.1,88.4 354.3,90 354.6,90.4 354.8,85.3 355.1,91.1 355.3,89.5 355.6,84.4 355.8,84.8 356.1,89.8 356.3,91.3 356.6,89.1 356.8,86.9 357.1,86.5 357.3,84.6 357.6,85.7 357.8,84.7 358.1,85.4 358.3,84.3 358.6,90.8 358.8,90.6 359.1,88.9 359.3,86.5 359.6,90.9 359.8,85.1 360.1,84.8 360.3,90.2 360.6,90.6 360.8,100 361.1,99.6 361.3,101.8 361.6,96.5 361.8,97 362.1,97.6 362.3,99.3 362.6,96.1 362.8,96.6 363.1,97 363.3,95.8 363.6,96.4 363.8,101.3 364.1,96 364.3,95.1 364.6,101.2 364.8,101.7 365.1,96.5 365.3,99.2 365.6,101.2 365.8,101.4 366.1,100.2 366.3,101.5 366.6,96.4 366.8,107.5 367.1,106.7 367.3,107 367.6,107.9 367.8,105.7 368.1,107.1 368.3,106.2 368.6,106.3 368.8,111.2 369.1,106.6 369.3,108.1 369.6,108 369.8,112 370.1,108 370.3,112 370.6,112 370.8,110.7 371.1,111.6 371.3,106.2 371.6,111.5 371.8,117.7 372.1,107 372.3,122.4 372.6,119 372.8,121.6 373.1,120.5 373.3,116.8 373.6,123.3 373.8,117.3 374.1,118 374.3,117.2 374.6,116.5 374.8,123.5 375.1,123.2 375.3,117.9 375.6,116.7 375.8,122.5 376.1,117.8 376.3,128.1 376.6,132.5 376.8,133.1 377.1,129.4 377.3,127.7 377.6,133.3 377.8,133.6 378.1,132.5 378.3,133.9 378.6,128.3 378.8,128.8 379.1,129.3 379.3,133.7 379.6,133.7 379.8,127.6 380.1,131.9 380.3,128.6 380.6,131.5 380.8,128.5 381.1,138.8 381.3,138.9 381.6,138.9 381.8,139.3 382.1,140.5 382.3,138.3 382.6,140.7 382.8,141.1 383.1,138.7 383.3,144.3 383.6,139.4 383.8,141 384.1,140.6 384.3,138.3 384.6,138.8 384.8,140 385.1,144.1 385.3,148.9 385.6,150.4 385.8,150.3 386.1,154.2 386.3,154.9 386.6,151.6 386.8,149 387.1,154.8 387.3,153.4 387.6,149.4 387.8,151.3 388.1,149 388.3,149.1 388.6,154.8 388.8,154.4 389.1,154.7 389.3,150.2 389.6,155.3 389.8,148.9 390.1,166.5 390.3,165.4 390.6,165.8 390.8,166.6 391.1,165.7 391.3,165.6 391.6,160.5 391.8,161.6 392.1,159.7 392.3,165.7 392.6,160.7 392.8,160.2 393.1,164.6 393.3,161.5 393.6,164.2 393.8,164.5 394.1,165.2 394.3,175.1 394.6,159.5 394.8,176.8 395.1,177.1 395.3,175.4 395.6,171.1 395.8,175.4 396.1,172.4 396.3,170.6 396.6,177.1 396.8,171 397.1,172.3 397.3,171.2 397.6,170.8 397.8,171.1 398.1,176.1 398.3,175.7 398.6,176.1 398.8,171.4 399.1,176.5 399.3,182.3 399.6,172 399.8,182.2 400.1,182.9 400.3,184.8 400.6,186.6 400.8,185.2 401.1,187.5 401.3,186.9 401.6,181.3 401.8,181.8 402.1,185.6 402.3,188 402.6,186.1 402.8,186.5 403.1,182 403.3,183.3 403.6,187.6 403.8,183.2 404.1,181 404.3,182.2 404.6,187 404.8,188 405.1,181.7 405.3,198.3 405.6,182.9 405.8,191.8 406.1,193.8 406.3,198.5 406.6,191.8 406.8,192.1 407.1,196.1 407.3,198 407.6,192 407.8,191.7 408.1,198.5 408.3,196.5 408.6,193.3 408.8,197.1 409.1,197.3 409.3,197.1 409.6,197.7 409.8,196.9 410.1,197.5 410.3,192.4 410.6,193.4 410.8,195.7 411.1,198.2 411.3,193.4 411.6,192 411.8,198.4 412.1,193.6 412.3,191.9 412.6,194.5 412.8,192.8 413.1,191.7 413.3,194.6 413.6,203.9 413.8,207.4 414.1,205.1 414.3,207.5 414.6,204.2 414.8,208.3 415.1,207.8 415.3,207 415.6,204 415.8,207.8 416.1,208.4 416.3,206 416.6,204 416.8,208.1 417.1,203.8 417.3,207.9 417.6,204.9 417.8,206.6 418.1,204 418.3,204.8 418.6,204.1 418.8,204.5 419.1,207.7 419.3,204.4 419.6,203.5 419.8,207.8 420.1,204.1 420.3,208.4 420.6,203.9 420.8,207.9 421.1,204.1 421.3,205.7 421.6,207.9 421.8,207.9 422.1,208.1 422.3,208.4 422.6,205.2 422.8,205.5 423.1,204.1 423.3,207.5 423.6,208 423.8,205.2 424.1,207 424.3,208.4 424.6,203.7 424.8,203.5 425.1,205.2 425.3,208.4 425.6,204.3 425.8,204.9 426.1,207.1 426.3,207.5 426.6,204.9 426.8,203.5 427.1,207.7 427.3,203.7 427.6,203.8 427.8,205.4 428.1,203.7 428.3,206.7 428.6,204.2 428.8,208.5 429.1,208.1 429.3,208.5 429.6,207.9 429.8,208.5 430.1,205.3 430.3,204.4 430.6,204.9 430.8,204.2 431.1,207.1 431.3,203.8 431.6,203.8 431.8,208.3 432.1,206.5 432.3,205.4 432.6,207.7 432.8,204.4 433.1,206.5 433.3,204.9 433.6,205.7 433.8,208 434.1,207.4 434.3,208.5 434.6,203.6 434.8,204.9 435.1,204.7 435.3,196.9 435.6,197.6 435.8,196.1 436.1,194.7 436.3,198.3 436.6,203.9 436.8,194.9 437.1,195.1 437.3,191.7 437.6,197.4 437.8,194.2 438.1,196.3 438.3,192.8 438.6,197 438.8,196.2 439.1,192.1 439.3,192.6 439.6,196.8 439.8,198.6 440.1,196.7 440.3,197.8 440.6,196.5 440.8,198.1 441.1,198 441.3,197.8 441.6,198.4 441.8,194 442.1,198.4 442.3,191.7 442.6,198.3 442.8,198 443.1,192.6 443.3,196 443.6,198.2 443.8,181.2 444.1,181.6 444.3,197.6 444.6,182.9 444.8,182.7 445.1,187.2 445.3,188 445.6,183 445.8,183.9 446.1,187.8 446.3,187.6 446.6,186.6 446.8,181 447.1,181.3 447.3,184 447.6,181.3 447.8,181.5 448.1,182.9 448.3,181.4 448.6,185.9 448.8,185 449.1,187.2 449.3,181.5 449.6,177 449.8,182.3 450.1,171.8 450.3,185.4 450.6,174.4 450.8,171 451.1,172 451.3,175.6 451.6,170.9 451.8,176.3 452.1,176.6 452.3,174.9 452.6,175.1 452.8,172.6 453.1,177.3 453.3,176.8 453.6,177.2 453.8,172.2 454.1,171.8 454.3,172.3 454.6,171.7 454.8,174.8 455.1,164.8 455.3,160.8 455.6,161.5 455.8,161.9 456.1,163.7 456.3,160.6 456.6,165 456.8,160.6 457.1,165.9 457.3,161.5 457.6,164.7 457.8,161.6 458.1,159.5 458.3,161.1 458.6,165.1 458.8,159.7 459.1,161.2 459.3,160.4 459.6,166.1 459.8,161.5 460.1,150.2 460.3,150.9 460.6,148.8 460.8,155.6 461.1,149.4 461.3,154 461.6,149.2 461.8,147.4 462.1,149.4 462.3,154.1 462.6,148.9 462.8,155.7 463.1,149.3 463.3,149 463.6,150.6 463.8,140.3 464.1,149 464.3,143.2 464.6,138.4 464.8,144.5 465.1,138.3 465.3,145.1 465.6,145 465.8,140.6 466.1,144.7 466.3,142.3 466.6,139.1 466.8,143.6 467.1,138 467.3,143.6 467.6,144 467.8,143.2 468.1,139.1 468.3,146.3 468.6,144.7 468.8,142.3 469.1,138.5 469.3,143.5 469.6,144.3 469.8,139.8 470.1,142.4 470.3,140.3 470.6,140.7 470.8,143.1 471.1,128 471.3,127.4 471.6,128 471.8,138.1 472.1,130.6 472.3,139.8 472.6,131.7 472.8,127.5 473.1,129.2 473.3,132.4 473.6,127.3 473.8,127.4 474.1,133.8 474.3,132.6 474.6,133.7 474.8,131.9 475.1,127.4 475.3,129 475.6,128.4 475.8,132.7 476.1,133.6 476.3,129.4 476.6,133.9 476.8,132.1 477.1,127.3 477.3,129.7 477.6,128.6 477.8,129.2 478.1,127.2 478.3,133.8 478.6,128.5 478.8,127.3 479.1,132.2 479.3,127.7 479.6,128.5 479.8,132.4 480.1,127.5 480.3,128.2 480.6,129.6 480.8,133.1 481.1,128.5 481.3,128.6 481.6,133.8 481.8,133.8 482.1,133.3 482.3,131.6 482.6,132.3 482.8,133.3 483.1,134.3 483.3,122.2 483.6,122.1 483.8,128.4 484.1,132.6 484.3,127.6 484.6,118.8 484.8,118.9 485.1,122 485.3,133.1 485.6,118.2 485.8,118.2 486.1,121.3 486.3,122.4 486.6,117.5 486.8,121.6 487.1,121.2 487.3,118 487.6,122.2 487.8,119.1 488.1,121.2 488.3,118 488.6,121.9 488.8,117.6 489.1,118.2 489.3,118.5 489.6,117.5 489.8,117.9 490.1,122.1 490.3,118.2 490.6,122.3 490.8,118.7 491.1,122.3 491.3,119 491.6,121.5 491.8,118.4 492.1,121.6 492.3,122.3 492.6,117.7 492.8,121.6 493.1,118.6 493.3,120.4 493.6,121.1 493.8,122.3 494.1,117.9 494.3,122.2 494.6,121.4 494.8,120.3 495.1,119.7 495.3,121 495.6,121.9 495.8,120.6 496.1,118 496.3,122.1 496.6,121.6 496.8,118 497.1,122.4 497.3,121.5 497.6,122.4 497.8,120.8 498.1,118.8 498.3,118.6 498.6,118.6 498.8,117.7 499.1,122 499.3,121.8 499.6,119 499.8,117.5 500.1,118.9 500.3,121.7 500.6,118.2 500.8,117.8 501.1,122.5 501.3,120.9 501.6,118.7 501.8,117.7 502.1,122.2 502.3,118.3 502.6,121.2 502.8,117.7 503.1,119.8 503.3,121.1 503.6,118.4 503.8,121.7 504.1,122 504.3,122 504.6,121.5 504.8,118 505.1,119.1 505.3,118.2 505.6,117.7 505.8,117.7 506.1,118.1 506.3,122.3 506.6,121.8 506.8,120.9 507.1,120.5 507.3,122.3 507.6,122 507.8,121.3 508.1,118.6 508.3,121.4 508.6,117.6 508.8,121.6 509.1,122.2 509.3,121.7 509.6,118.1 509.8,118 510.1,117.6 510.3,118 510.6,119.2 510.8,118.5 511.1,118.2 511.3,121.8 511.6,117.7 511.8,121.1 512,120.7 512.3,121.1 512.5,121 512.8,118.8 513,119.1 513.3,118.4 513.5,120.8 513.8,119.3 514,122.5 514.3,120.7 514.5,118.2 514.8,114.8 515,118.6 515.3,117.7 515.5,115.9 515.8,118 516,120.8 516.3,119 516.5,118.2 516.8,118.2 517,121.9 517.3,121.2 517.5,121.7 517.8,119.2 518,118.7 518.3,120.9 518.5,118.2 518.8,121.9 519,122.5 519.3,121.3 519.5,118.1 519.8,122.5 520,117.6 520.3,120.7 520.5,118.5 520.8,117.6 521,118.1 521.3,121.1 521.5,118.6 521.8,121.9 522,119.7 522.3,121.8 522.5,118.5 522.8,122.2 523,120.8 523.3,121.3 523.5,120.3 523.8,117.6 524,122 524.3,119 524.5,118.1 524.8,118.8 525,118.3 525.3,119.7 525.5,121.4 525.8,120.9 526,122.1 526.3,118.7 526.5,120.5 526.8,121.1 527,119.1 527.3,118.2 527.5,119 527.8,118.2 528,122.4 528.3,118.4 528.5,117.6 528.8,117.5 529,118.1 529.3,118.3 529.5,120.9 529.8,122.3 530,119 530.3,122 530.5,134.3 530.8,117.7 531,116.1 531.3,133.5 531.5,118.7 531.8,122.2 532,120.1 532.3,128.6 532.5,118 532.8,129.3 533,121.7 533.3,120.9 533.5,128.8 533.8,132.3 534,132.3 534.3,127.3 534.5,133.4 534.8,132.7 535,132.6 535.3,129.9 535.5,133.1 535.8,132.6 536,133 536.3,132.8 536.5,129.9 536.8,128.4 537,129.8 537.3,128.1 537.5,128.3 537.8,129 538,132.5 538.3,133.1 538.5,129.1 538.8,132.7 539,137.2 539.3,129.4 539.5,131.5 539.8,127.2 540,127.2 540.3,127.3 540.5,128.7 540.8,132.6 541,127.9 541.3,129.2 541.5,129.5 541.8,133.2 542,133.9 542.3,129 542.5,128.8 542.8,127.7 543,127.5 543.3,133.7 543.5,127.4 543.8,127.5 544,132.4 544.3,144.8 544.5,144.7 544.8,132 545,139.6 545.3,144.2 545.5,144.5 545.8,145 546,138.9 546.3,144.5 546.5,138.5 546.8,138.4 547,139.8 547.3,143.9 547.5,144.6 547.8,142.5 548,143.9 548.3,143.9 548.5,144.3 548.8,142.1 549,141.1 549.3,143 549.5,138.3 549.8,137.9 550,143.5 550.3,145 550.5,144.9 550.8,138.8 551,142 551.3,138.3 551.5,144.6 551.8,143.8 552,137.9 552.3,141.8 552.5,144 552.8,143.9 553,144 553.3,140.3 553.5,144.6 553.8,140.6 554,139.8 554.3,138.9 554.5,138.2 554.8,148.7 555,138.8 555.3,143.9 555.5,154.8 555.8,150.1 556,140.5 556.3,154.6 556.5,153.5 556.8,155.4 557,154 557.3,154.4 557.5,147.7 557.8,154.2 558,155.7 558.3,155.8 558.5,154.5 558.8,150 559,149.2 559.3,155.4 559.5,153.1 559.8,155 560,155.6 560.3,155.6 560.5,155.6 560.8,154.2 561,149.1 561.3,154.1 561.5,155.8 561.8,154.7 562,149.1 562.3,153.4 562.5,151 562.8,149.8 563,153.6 563.3,155.2 563.5,155.7 563.8,155.1 564,150.1 564.3,149.3 564.5,155.2 564.8,148.9 565,155.4 565.3,152.9 565.5,150.9 565.8,148.7 566,149.6 566.3,154.7 566.5,164.1 566.8,155.6 567,153.2 567.3,149.5 567.5,152.6 567.8,165.4 568,161.3 568.3,164.9 568.5,161.1 568.8,161.7 569,165.3 569.3,160.7 569.5,160.7 569.8,164.1 570,164.7 570.3,161.9 570.5,162.5 570.8,161.8 571,161 571.3,161.1 571.5,162.3 571.8,163.8 572,161.4 572.3,165.2 572.5,165.5 572.8,161.7 573,164.4 573.3,162.2 573.5,163.6 573.8,161.5 574,163.2 574.3,161.4 574.5,160.9 574.8,162 575,164.7 575.3,165.2 575.5,162.1 575.8,162.4 576,165.5 576.3,165.2 576.5,165.1 576.8,161.3 577,160.6 577.3,160.9 577.5,164.2 577.8,164.7 578,160.7 578.3,163.5 578.5,164.6 578.8,164.3 579,165.1 579.3,162.1 579.5,164.2 579.8,165 580,161.2 580.3,165 580.5,160.7 580.8,162.1 581,164.8 581.3,164.9 581.5,160.6 581.8,164 582,164.3 582.3,165.4 582.5,164.6 582.8,163.4 583,160.7 583.3,164.2 583.5,164.6 583.8,164.8 584,164.7 584.3,165 584.5,164.6 584.8,164.2 585,161.3 585.3,161.4 585.5,163.9 585.8,161.1 586,165.4 586.3,160.9 586.5,164.9 586.8,165.5 587,161.8 587.3,163.9 587.5,161.2 587.8,165.4 588,164.7 588.3,164.4 588.5,161.2 588.8,160.6 589,157.9 589.3,161.8 589.5,164.3 589.8,163.4 590,161.2 590.3,161.1 590.5,161.4 590.8,164.7 591,161.1 591.3,163.8 591.5,164.7 591.8,164 592,164.4 592.3,161.5 592.5,161.2 592.8,165.3 593,165.5 593.3,161.4 593.5,160.7 593.8,165.2 594,163.6 594.3,165 594.5,160.8 594.8,165.1 595,160.8 595.3,164 595.5,164.4 595.8,165.1 596,161.3 596.3,164.4 596.5,162.9 596.8,161.2 597,161 597.3,164.8 597.5,161.4 597.8,164.8 598,164.8 598.3,160.3 598.5,161.1 598.8,162.4 599,160.5 599.3,165.3 599.5,160.6 599.8,164 600,165.2 600.3,165 600.5,162.8 600.8,161.4 601,161.2 601.3,162.4 601.5,164.7 601.8,160.6 602,163.3 602.3,168 602.5,165.1 602.8,163.7 603,160.8 603.3,165.3 603.5,161.9 603.8,160.5 604,164 604.3,164.6 604.5,161 604.8,160.7 605,161.8 605.3,160.6 605.5,160.8 605.8,162.3 606,160.8 606.3,164.5 606.5,164.1 606.8,160.5 607,161.3 607.3,161.2 607.5,165.3 607.8,163.5 608,161.6 608.3,160.5 608.5,160.8 608.8,165.4 609,160.7 609.3,161.4 609.5,164.2 609.8,164.8 610,165.5 610.3,161.8 610.5,161.6 610.8,162.9 611,161.7 611.3,164.3 611.5,161 611.8,164.5 612,161.6 612.3,160.9 612.5,162.2 612.8,165.3 613,161.5 613.3,165.3 613.5,161.5 613.8,161.5 614,162.2 614.3,155.2 614.5,155.5 614.8,164.7 615,153.8 615.3,153.4 615.5,164.4 615.8,161 616,150.5 616.3,165 616.5,165.1 616.8,153.3 617,154.9 617.3,154.5 617.5,149.1 617.8,155.6 618,154.8 618.3,150.2 618.5,149 618.8,155.3 619,148.7 619.3,158.3 619.5,151.8 619.8,149 620,148.7 620.3,151.9 620.5,149.1 620.8,149.9 621,149.6 621.3,151.1 621.5,150.4 621.8,155.1 622,148.7 622.3,154.7 622.5,149.7 622.8,150.4 623,148.8 623.3,149.6 623.5,153 623.8,148.8 624,149.8 624.3,148.8 624.5,148.7 624.8,150.4 625,149.3 625.3,154.5 625.5,149.2 625.8,150.2 626,155.5 626.3,150.2 626.5,149 626.8,150.8 627,154.9 627.3,154.8 627.5,138.1 627.8,138 628,143.9 628.3,138.4 628.5,138.6 628.8,143.2 629,138.2 629.3,143.4 629.5,143.5 629.8,145.1 630,143.5 630.3,139.6 630.5,138.5 630.8,142.8 631,143 631.3,144.5 631.5,144.9 631.8,141.3 632,140.4 632.3,139.6 632.5,144 632.8,138.2 633,139.5 633.3,140.2 633.5,138 633.8,143.8 634,137.9 634.3,139.8 634.5,142.8 634.8,139.1 635,144.7 635.3,145.1 635.5,144.9 635.8,139 636,138.3 636.3,138.8 636.5,143.8 636.8,138.4 637,143.4 637.3,142.8 637.5,139.4 637.8,139.1 638,129.6 638.3,133.1 638.5,129.3 638.8,143.9 639,129.7 639.3,128.6 639.5,128.6 639.8,127.7 640,128 640.3,132.4 640.5,128.6 640.8,133 641,134 641.3,133.8 641.5,128.1 641.8,134.1 642,130.3 642.3,133.7 642.5,132.9 642.8,127.7 643,127.8 643.3,127.5 643.5,133 643.8,127.4 644,129.2 644.3,125.4 644.5,129.3 644.8,132.1 645,132.7 645.3,129.7 645.5,129.5 645.8,127.9 646,130 646.3,127.8 646.5,129.6 646.8,131.8 647,131.9 647.3,127.9 647.5,133.6 647.8,133.6 648,133.9 648.3,134.2 648.5,127.6 648.8,128.2 649,127.9 649.3,134.3 649.5,130.6 649.8,117.9 650,131.9 650.3,132.1 650.5,128 650.8,117.7 651,122.3 651.3,134.1 651.5,122.4 651.8,133.5 652,121.7 652.3,118.3 652.5,121.6 652.8,121.1 653,121.2 653.3,118.7 653.5,118 653.8,117.6 654,121.7 654.3,121.8 654.5,118.5 654.8,117.8 655,120.6 655.3,118.1 655.5,118.6 655.8,117.6 656,121.3 656.3,122.3 656.5,121.7 656.8,122.1 657,118.7 657.3,121.9 657.5,119.8 657.8,120 658,118.9 658.3,121.2 658.5,121.6 658.8,121.3 659,122.2 659.3,118.3 659.5,121.5 659.8,117.6 660,118.8 660.3,118 660.5,118.8 660.8,120.3 661,122.5 661.3,121.6 661.5,121.7 661.8,117.8 662,117.5 662.3,118.9 662.5,122.1 662.8,118.6 663,121.3 663.3,121.2 663.5,121.9 663.8,122.1 664,120.9 664.3,121.5 664.5,119.6 664.8,118.2 665,118 665.3,122.3 665.5,121.5 665.8,115.8 666,121 666.3,118.4 666.5,117.9 666.8,118.6 667,118 667.3,122.5 667.5,121.7 667.8,121.9 668,119.6 668.3,122.3 668.5,118.1 668.8,117.9 669,117.8 669.3,121.5 669.5,121.6 669.8,117.6 670,119.1 670.3,120.8 670.5,121.8 670.8,118.1 671,122.4 671.3,122.1 671.5,121.5 671.8,122.3 672,117.9 672.3,117.5 672.5,118.3 672.8,122.1 673,119.8 673.3,121 673.5,121.9 673.8,119 674,118.4 674.3,118.8 674.5,120.5 674.8,118.3 675,117.6 675.3,122.1 675.5,117.6 675.8,121.6 676,117.7 676.3,118.8 676.5,121.7 676.8,118.3 677,122.2 677.3,118.5 677.5,122.3 677.8,119.3 678,118.2 678.3,121.9 678.5,122.2 678.8,122.2 679,121.4 679.3,122.5 679.5,119.1 679.8,120.6 680,118.3 680.3,122.3 680.5,117.7 680.8,122.4 681,118.3 681.3,119.2 681.5,117.8 681.8,118.6 682,120.9 682.3,118.9 682.5,119.3 682.8,120.5 683,118.2 683.3,122.1 683.5,120 683.8,119 684,117.8 684.3,118.1 684.5,117.6 684.8,122.1 685,119.8 685.3,118.6 685.5,118.5 685.8,118.9 686,118.3 686.3,119.6 686.5,118.6 686.8,122.4 687,121.7 687.3,122.4 687.5,120.9 687.8,119.2 688,118.4 688.3,117.9 688.5,121.9 688.8,121.5 689,118.1 689.3,122.3 689.5,118.2 689.8,120.9 690,119.1 690.3,121.9 690.5,118.7 690.8,121.9 691,121.8 691.3,117.7 691.5,117.7 691.8,117.8 692,117.9 692.3,117.7 692.5,120.7 692.8,117.6 693,118.7 693.3,119.7 693.5,121.7 693.8,117.8 694,119.1 694.3,117.7 694.5,121 694.8,117.7 695,119.6 695.3,122.2 695.5,121.8 695.8,119.8 696,121.7 696.3,117.8 696.5,121.3 696.8,122.1 697,118.3 697.3,121.9 697.5,118.2 697.8,119 698,129.1 698.3,119.2 698.5,134.2 698.8,133 699,118.3 699.3,131.7 699.5,129.8 699.8,129.3 700,127.2 700.3,134.2 700.5,128.6 700.8,132.3 701,134.2 701.3,132.8 701.5,132.3 701.8,128.4 702,131.3 702.3,129.9 702.5,133.5 702.8,133.8 703,133.4 703.3,134.2 703.5,127.5 703.8,133.5 704,133.6 704.3,132.7 704.5,133.9 704.8,127.4 705,127.4 705.3,133.8 705.5,127.9 705.8,131.7 706,127.6 706.3,132.8 706.5,127.6 706.8,134 707,133.9 707.3,133.3 707.5,134.1 707.8,132.5 708,128.4 708.3,128 708.5,131.3 708.8,133.1 709,130.2 709.3,127.4 709.5,127.7 709.8,140 710,131.4 710.3,130.6 710.5,132.4 710.8,132.8 711,128.2 711.3,143.3 711.5,142.9 711.8,143.6 712,139.8 712.3,139.7 712.5,138.5 712.8,139.8 713,142.8 713.3,138.8 713.5,144.7 713.8,141.6 714,145 714.3,140.1 714.5,139.1 714.8,145.1 715,141.2 715.3,140.8 715.5,144.6 715.8,138 716,139.6 716.3,138.8 716.5,144.8 716.8,142.7 717,139.3 717.3,139.6 717.5,143 717.8,139.9 718,143.2 718.3,144.8 718.5,139.8 718.8,144.5 719,145 719.3,140.8 719.5,144.9 719.8,138.8 720,142.7 720.3,139.9 720.5,144.3 720.8,144.2 721,145 721.3,143.4 721.5,143.1 721.8,154.2 722,149.9 722.3,138.6 722.5,144.9 722.8,145 723,155.2 723.3,155.1 723.5,148.8 723.8,155.5 724,149 724.3,153.3 724.5,150.5 724.8,155.3 725,153.1 725.3,155.8 725.5,154.9 725.8,150.3 726,154 726.3,153.9 726.5,154.2 726.8,152.6 727,151.1 727.3,153.8 727.5,153.6 727.8,155.4 728,149.4 728.3,149.8 728.5,154.2 728.8,153.5 729,155.6 729.3,155.6 729.5,151.4 729.8,155.6 730,154.7 730.3,154 730.5,154.1 730.8,153.2 731,154.1 731.3,150.1 731.5,149.3 731.8,154.2 732,154.7 732.3,149.1 732.5,149.4 732.8,151.4 733,146.8 733.3,150.5 733.5,165.1 733.8,165.2 734,162.6 734.3,155.7 734.5,155 734.8,163.9 735,164.7 735.3,163.4 735.5,160.7 735.8,163.5 736,164.7 736.3,164.9 736.5,164.6 736.8,161.2 737,161.4 737.3,161 737.5,160.7 737.8,165 738,164.5 738.3,165.2 738.5,163.7 738.8,160.9 739,161 739.3,165.1 739.5,165.4 739.8,162.3 740,161.4 740.3,161.5 740.5,160.7 740.8,165.5 741,161.3 741.3,162.3 741.5,161.4 741.8,166.6 742,165.3 742.3,160.8 742.5,162.1 742.8,161.9 743,165.4 743.3,161.1 743.5,164 743.8,165 744,161.2 744.3,161.8 744.5,161.5 744.8,164.3 745,165.3 745.3,162.3 745.5,165 745.8,164.4 746,163.5 746.3,165.1 746.5,165.5 746.8,161.1 747,161.1 747.3,161.7 747.5,164 747.8,161.4 748,164.1 748.3,165.5 748.5,165.5 748.8,161.1 749,165.5 749.3,165.5 749.5,165.2 749.8,164.2 750,161.8 750.3,161.5 750.5,162.1 750.8,163.9 751,165.5 751.3,164.5 751.5,165.4 751.8,165.1 752,165.1 752.3,161.4 752.5,161.1 752.8,165.1 753,160.9 753.3,164.8 753.5,160.5 753.8,160.8 754,162.3 754.3,162.2 754.5,164.7 754.8,164.4 755,161.3 755.3,164.3 755.5,165.4 755.8,165.4 756,161.2 756.3,161 756.5,165.3 756.8,163.4 757,164.3 757.3,165 757.5,161.2 757.8,161.5 758,162.4 758.3,162.1 758.5,163.1 758.8,161.1 759,161 759.3,160.9 759.5,161.2 759.8,165.1 760,161.4 760.3,162 760.5,160.6 760.8,165.5 761,160.9 761.3,161.9 761.5,161.5 761.8,160.9 762,161.1 762.3,165.4 762.5,161.1 762.8,164.6 763,160.6 763.3,161.6 763.5,164.8 763.8,165.2 764,162 764.3,161.8 764.5,164.1 764.8,164 765,160.9 765.3,161.5 765.5,164.5 765.8,165.5 766,163.4 766.3,165.5 766.5,164.9 766.8,161.9 767,161.5 767.3,162.9 767.5,161.6 767.8,160.7 768,161 768.3,163.8 768.5,163.6 768.8,165.5 769,165.1 769.3,161.2 769.5,164.6 769.8,164.6 770,161.5 770.3,161.7 770.5,161.1 770.8,161.3 771,160.8 771.3,160.9 771.5,160.8 771.8,165 772,164.8 772.3,165.1 772.5,161.5 772.8,162.9 773,160.6 773.3,165.5 773.5,165.4 773.8,165.4 774,164.6 774.3,165.1 774.5,161.3 774.8,165 775,160.9 775.3,165.2 775.5,161.8 775.8,164.5 776,161.7 776.3,161 776.5,161.6 776.8,162.2 777,163.7 777.3,165.5 777.5,160.5 777.8,162.1 778,164.3 778.3,161.5 778.5,161.7 778.8,163.9 779,165.3 779.3,160.5 779.5,163.4 779.8,161.4 780,161.5 780.3,160.9 780.5,163.7 780.8,153.3 781,164.3 781.3,163.9 781.5,161.7 781.8,155.2 782,164.6 782.3,162.9 782.5,161.4 782.8,155.1 783,149.3 783.3,154.4 783.5,148.8 783.8,149.5 784,154 784.3,149.9 784.5,155 784.8,149.2 785,149.3 785.3,156.6 785.5,149 785.8,151.7 786,152 786.3,155.5 786.5,155.3 786.8,154.2 787,148.9 787.3,154.2 787.5,150.5 787.8,155 788,151 788.3,152.7 788.5,151.6 788.8,155.8 789,154.4 789.3,149.6 789.5,150.7 789.8,154.6 790,153.4 790.3,150.9 790.5,149 790.8,155 791,155.5 791.3,153.5 791.5,149.1 791.8,149.2 792,155.6 792.3,155.5 792.5,154.5 792.8,155.6 793,153.3 793.3,148.7 793.5,149.6 793.8,138.5 794,155.5 794.3,155.4 794.5,138.6 794.8,143.5 795,150.6 795.3,138.9 795.5,141.1 795.8,143.9 796,139.1 796.3,138.6 796.5,138.9 796.8,144.9 797,142.7 797.3,144.8 797.5,138.7 797.8,144.9 798,144.1 798.3,144.3 798.5,138.9 798.8,140 799,144.3 799.3,144.9 799.5,138.8 799.8,143.6 800,143.7 800.3,145 800.5,142.9 800.8,144.8 801,139.8 801.3,145.8 801.5,142.5 801.8,144.1 802,140.6 802.3,143.6 802.5,139.7 802.8,138.2 803,139.9 803.3,141.9 803.5,138.4 803.8,143.1 804,144.5 804.3,143.8 804.5,144.5 804.8,134.2 805,143.8 805.3,142.6 805.5,138.5 805.8,145.1 806,128.5 806.3,128 806.5,129.5 806.8,128.3 807,132.4 807.3,127.3 807.5,127.8 807.8,127.7 808,133.6 808.3,134 808.5,127.6 808.8,128.2 809,134.9 809.3,133.5 809.5,133.1 809.8,133.9 810,128.7 810.3,132.4 810.5,133.8 810.8,128.4 811,134 811.3,128.4 811.5,133.6 811.8,128.6 812,132.4 812.3,128.5 812.5,129.8 812.8,132.2 813,129.3 813.3,133.2 813.5,128.3 813.8,127.3 814,127.9 814.3,130.2 814.5,127.7 814.8,134.1 815,132.2 815.3,133 815.5,133.8 815.8,131.5 816,127.8 816.3,128.6 816.5,118.4 816.8,133.4 817,130.5 817.3,133.4 817.5,122.2 817.8,127.4 818,121.5 818.3,117.7 818.5,118.6 818.8,118.3 819,117.5 819.3,118.4 819.5,121.7 819.8,118.4 820,121.4 820.3,117.5 820.5,120.7 820.8,117.8 821,122.1 821.3,117.6 821.5,122.5 821.8,121.9 822,122 822.3,118 822.5,120.8 822.8,122.2 823,122.2 823.3,118.9 823.5,117.7 823.8,122 824,121.6 824.3,122.4 824.5,121.3 824.8,117.9 825,118.4 825.3,122 825.5,117.7 825.8,117.9 826,118.7 826.3,119.7 826.5,117.9 826.8,122 827,121.7 827.3,117.8 827.5,119.2 827.8,121.8 828,118 828.3,118.3 828.5,120.8 828.8,117.8 829,118 829.3,122.4 829.5,122.2 829.8,118.1 830,120.6 830.3,121.3 830.5,122.2 830.8,118.2 831,118.3 831.3,123.9 831.5,118.4 831.8,120.8 832,117.7 832.3,118.1 832.5,118.9 832.8,118.3 833,117.5 833.3,117.6 833.5,117.9 833.8,121.2 834,117.6 834.3,122.1 834.5,118.8 834.8,119.3 835,118.3 835.3,121.9 835.5,117.7 835.8,117.8 836,122 836.3,117.6 836.5,117.9 836.8,121 837,122.4 837.3,120.4 837.5,122.5 837.8,121.8 838,118.5 838.3,117.8 838.5,121.5 838.8,121.8 839,117.9 839.3,121.7 839.5,119.9 839.8,118.5 840,117.6 840.3,117.7 840.5,120.8 840.8,116.7 841,121.8 841.3,122.2 841.5,121.6 841.8,118.6 842,117.9 842.3,117.6 842.5,121 842.8,121 843,121.5 843.3,117.8 843.5,122.1 843.8,119.2 844,121.9 844.3,121.8 844.5,118.4 844.8,121.6 845,117.6 845.3,118.1 845.5,122.2 845.8,122.4 846,117.9 846.3,117.7 846.5,117.5 846.8,118.5 847,121.9 847.3,117.5 847.5,118.3 847.8,121.2 848,121 848.3,120 848.5,118.3 848.8,119 849,118 849.3,118.4 849.5,122.2 849.8,118.8 850,118 850.3,121.1 850.5,118.2 850.8,119.5 851,121.7 851.3,122 851.5,119.1 851.8,117.8 852,122.3 852.3,122.2 852.5,122.3 852.8,118.1 853,118.6 853.3,122.1 853.5,118.7 853.8,118.6 854,122.3 854.3,121.8 854.5,121.1 854.8,122.4 855,118.3 855.3,117.9 855.5,118.2 855.8,118.9 856,118.4 856.3,121.8 856.5,121.9 856.8,117.7 857,121.4 857.3,122.4 857.5,121.4 857.8,121.9 858,120.6 858.3,118.1 858.5,122.1 858.8,117.8 859,118.2 859.3,118 859.5,118.3 859.8,121.2 860,121.5 860.3,122.1 860.5,121.8 860.8,122 861,121.9 861.3,118.2 861.5,122 861.8,115.8 862,120.2 862.3,122.2 862.5,118.5 862.8,118.4 863,118.5 863.3,121.9 863.5,118.4 863.8,120.4 864,117.6 864.3,132.7 864.5,132 864.8,118 865,118.2 865.3,122 865.5,118.9 865.8,132.4" fill="none" stroke="#0505dc" stroke-width="1.8" stroke-linejoin="round"/>
<polyline points="34.3,309.1 34.5,312 34.8,306.7 35,312.8 35.3,306.9 35.5,312.5 35.8,310.3 36,313.7 36.3,313.3 36.5,313.3 36.8,311.6 37,313 37.3,312.7 37.5,313.5 37.8,312.6 38,306.9 38.3,312.1 38.5,312.2 38.8,324.8 39,324.4 39.3,326.1 39.5,324.9 39.8,324.5 40,327.1 40.3,326.9 40.5,325.8 40.8,322.7 41,327.7 41.3,326 41.5,324.6 41.8,325.5 42,328.8 42.3,330.4 42.5,329.7 42.8,325 43,344.5 43.3,342.1 43.5,346.6 43.8,347.4 44,344.2 44.3,343.9 44.5,346.6 44.8,347.2 45,345.1 45.3,342.2 45.5,343.1 45.8,348.5 46,346.7 46.3,342.4 46.5,347.2 46.8,346.1 47,342.6 47.3,348.6 47.5,361.5 47.8,348.4 48,360.5 48.3,365.2 48.5,365.1 48.8,366.7 49,361.9 49.3,360.6 49.5,364.8 49.8,360.2 50,362 50.3,365.6 50.5,364.4 50.8,364.7 51,361.1 51.3,360.9 51.5,366.6 51.8,365.1 52,366.2 52.3,366.3 52.5,378.4 52.8,384.5 53,383.5 53.3,375.2 53.5,377.7 53.8,379.2 54,384.1 54.3,383.4 54.5,377.5 54.8,383.6 55,384.4 55.3,381.6 55.5,377.9 55.8,383.9 56,380.2 56.3,382.4 56.5,378.9 56.8,400.3 57,396.3 57.3,396.9 57.5,401.5 57.8,396.2 58,395.6 58.3,395.3 58.5,395.3 58.8,401.9 59,401.1 59.3,401.1 59.5,395.3 59.8,396.3 60,396.6 60.3,400.9 60.5,401.7 60.8,401.3 61,418.6 61.3,401 61.5,402.1 61.8,417.8 62,416.7 62.3,419 62.5,418.4 62.8,413.3 63,418.2 63.3,413.4 63.5,413.1 63.8,419.5 64,414.4 64.3,418.1 64.5,419.2 64.8,413.7 65,419.6 65.3,417.2 65.5,415.2 65.8,415.4 66,414.6 66.3,432.8 66.5,434.9 66.8,435.4 67,433.3 67.3,437 67.5,434.2 67.8,435.7 68,436.1 68.3,431.6 68.5,432.6 68.8,431.8 69,431.5 69.3,437.6 69.5,433.5 69.8,431.9 70,431.1 70.3,431.1 70.5,431.4 70.8,432.8 71,430.6 71.3,437.5 71.5,437.3 71.8,454.7 72,431.3 72.3,432.5 72.5,454.5 72.8,437.2 73,455.1 73.3,454.5 73.5,455 73.8,454.5 74,448.9 74.3,452.9 74.5,452.6 74.8,455 75,449.9 75.3,449.1 75.5,455.1 75.8,450.4 76,450.2 76.3,454.3 76.5,450 76.8,455 77,454.2 77.3,451 77.5,451 77.8,452.9 78,454.5 78.3,448.3 78.5,453.5 78.8,455.2 79,448.9 79.3,449.8 79.5,454.9 79.8,470.3 80,454.9 80.3,451.2 80.5,449.7 80.8,467.2 81,471.1 81.3,469.2 81.5,471.5 81.8,467.1 82,467.9 82.3,468.3 82.5,470.2 82.8,468.9 83,471.1 83.3,467.8 83.5,467.7 83.8,470.5 84,470.4 84.3,467.5 84.5,471.2 84.8,468 85,474.3 85.3,471.3 85.5,471 85.8,467.7 86,471.1 86.3,470.3 86.5,470.2 86.8,471.4 87,471.8 87.3,467.5 87.5,471.6 87.8,471.8 88,471.5 88.3,468.4 88.5,470.9 88.8,471.7 89,467.9 89.3,468.2 89.5,468.1 89.8,467.2 90,467.4 90.3,471.3 90.5,470.2 90.8,471.8 91,467.7 91.3,467.6 91.5,467.7 91.8,471.6 92,467.2 92.3,467.2 92.5,467.8 92.8,471 93,468.1 93.3,468.8 93.5,471.8 93.8,471.3 94,469.2 94.3,467.6 94.5,467.5 94.8,467.2 95,467.2 95.3,468.1 95.5,467.8 95.8,468 96,468.1 96.3,471.5 96.5,468.6 96.8,471.2 97,467.1 97.3,468 97.5,471.7 97.8,468.8 98,467.3 98.3,470.6 98.5,471.1 98.8,467.7 99,467.5 99.3,467.6 99.5,468.8 99.8,468.4 100,467.7 100.3,467.5 100.5,470.7 100.8,467.4 101,471.1 101.3,467.1 101.5,467.1 101.8,452.1 102,453 102.3,450 102.5,467.1 102.8,471.2 103,455.3 103.3,454.9 103.5,454.4 103.8,455.1 104,454.3 104.3,455 104.5,453 104.8,455.1 105,453.1 105.3,450.2 105.5,448.5 105.8,448.8 106,449.1 106.3,454.4 106.5,454.3 106.8,453.3 107,449.4 107.3,453.6 107.5,452.6 107.8,450.3 108,454.7 108.3,448.7 108.5,448.4 108.8,453.4 109,454.1 109.3,451.4 109.5,450.4 109.8,448.4 110,449.6 110.3,436.7 110.5,449.1 110.8,431.2 111,432.7 111.3,432.2 111.5,431.3 111.8,432 112,436 112.3,436.9 112.5,437.6 112.8,430.6 113,436 113.3,437.4 113.5,431.3 113.8,433.2 114,432.7 114.3,431.8 114.5,436.4 114.8,437.5 115,432.9 115.3,432.5 115.5,431.9 115.8,436.9 116,432.6 116.3,415.4 116.5,435.3 116.8,435.7 117,430.8 117.3,418.8 117.5,413.2 117.8,419.5 118,415.4 118.3,419.9 118.5,418.5 118.8,418.7 119,419.4 119.3,419.4 119.5,413.3 119.8,413.3 120,417.6 120.3,419.9 120.5,413.1 120.8,414.6 121,419.1 121.3,415.5 121.5,401.3 121.8,419.3 122,397.6 122.3,413.3 122.5,395.8 122.8,402.1 123,401.9 123.3,395.5 123.5,396.1 123.8,393.8 124,400.7 124.3,397.8 124.5,401.6 124.8,395.4 125,395.6 125.3,396 125.5,397.6 125.8,401.7 126,394.1 126.3,378.8 126.5,383.3 126.8,398.2 127,379.4 127.3,382.9 127.5,383.9 127.8,379.2 128.1,382.9 128.3,383.3 128.6,379.9 128.8,378 129.1,384.4 129.3,384.2 129.6,378.3 129.8,384 130.1,378.2 130.3,377.8 130.6,380.4 130.8,379.4 131.1,378 131.3,362.8 131.6,361.1 131.8,366.7 132.1,365.3 132.3,365.5 132.6,361 132.8,366.1 133.1,363.9 133.3,364.9 133.6,362.3 133.8,361.3 134.1,360.2 134.3,365.8 134.6,361.6 134.8,365.7 135.1,366.7 135.3,366.4 135.6,342.9 135.8,342.3 136.1,344.2 136.3,342.9 136.6,348.5 136.8,342.8 137.1,345.9 137.3,343 137.6,348.9 137.8,342.7 138.1,343.4 138.3,342.7 138.6,343.7 138.8,344 139.1,342.4 139.3,342.4 139.6,326.3 139.8,348.9 140.1,330.5 140.3,343.6 140.6,324.8 140.8,330.7 141.1,331.4 141.3,324.5 141.6,330.6 141.8,331.3 142.1,326.9 142.3,324.4 142.6,330.6 142.8,330.6 143.1,324.6 143.3,325.1 143.6,325.7 143.8,331.3 144.1,331 144.3,325 144.6,325.9 144.8,308.2 145.1,308.9 145.3,311 145.6,312.7 145.8,309.2 146.1,307.2 146.3,311.3 146.6,308.8 146.8,312.9 147.1,307.5 147.3,312.1 147.6,313.2 147.8,308.6 148.1,313.7 148.3,307 148.6,309.9 148.8,307.2 149.1,312.7 149.3,307.2 149.6,294 149.8,290.6 150.1,291.5 150.3,289.6 150.6,295 150.8,295.4 151.1,293.8 151.3,290.3 151.6,294.7 151.8,293.2 152.1,293.8 152.3,295.1 152.6,295.7 152.8,289.2 153.1,295.7 153.3,289.7 153.6,295.2 153.8,294.1 154.1,291.1 154.3,289.2 154.6,294.8 154.8,290.4 155.1,292.9 155.3,290.2 155.6,294.5 155.8,277.7 156.1,294.4 156.3,278.1 156.6,271.6 156.8,276.9 157.1,277.7 157.3,276.7 157.6,271.5 157.8,271.8 158.1,272.8 158.3,277.7 158.6,276.8 158.8,276.5 159.1,277.7 159.3,273.6 159.6,277.5 159.8,278.1 160.1,275.6 160.3,273.8 160.6,277.7 160.8,276.4 161.1,277.4 161.3,273.3 161.6,271.4 161.8,277.1 162.1,275.8 162.3,271.7 162.6,271.9 162.8,277.1 163.1,275.2 163.3,259.4 163.6,277.2 163.8,271.7 164.1,276.4 164.3,272.4 164.6,278.2 164.8,254.7 165.1,255.4 165.3,255.2 165.6,259.2 165.8,259.5 166.1,259.2 166.3,256.9 166.6,259.3 166.8,258.2 167.1,255.8 167.3,258.7 167.6,257.5 167.8,252.4 168.1,256 168.3,258.9 168.6,254.9 168.8,255.2 169.1,255.7 169.3,256 169.6,259.5 169.8,258.3 170.1,258.8 170.3,255.4 170.6,259 170.8,259.5 171.1,254.8 171.3,259.1 171.6,256.7 171.8,255.7 172.1,255.2 172.3,255.3 172.6,259.2 172.8,255.3 173.1,256.3 173.3,255.9 173.6,259.1 173.8,255.8 174.1,255.5 174.3,255.1 174.6,257.6 174.8,259.5 175.1,259.3 175.3,255.7 175.6,255.5 175.8,255.5 176.1,255.1 176.3,255.2 176.6,255 176.8,259.1 177.1,259.3 177.3,254.9 177.6,259.1 177.8,255.5 178.1,256.1 178.3,255.4 178.6,258.2 178.8,258.9 179.1,259 179.3,255.8 179.6,259.4 179.8,258.9 180.1,259 180.3,257.2 180.6,254.9 180.8,255.3 181.1,255.6 181.3,257.2 181.6,254.8 181.8,259.2 182.1,256.1 182.3,259 182.6,259 182.8,259 183.1,259.3 183.3,255 183.6,255.1 183.8,258.3 184.1,256.4 184.3,258.7 184.6,272.3 184.8,254.7 185.1,254.9 185.3,276.6 185.6,258.5 185.8,254.9 186.1,255.7 186.3,276.1 186.6,272.6 186.8,271.6 187.1,277.2 187.3,271.7 187.6,275.5 187.8,276.5 188.1,278.3 188.3,276.4 188.6,276.3 188.8,273.6 189.1,276.2 189.3,272.9 189.6,277.8 189.8,272 190.1,278 190.3,278.1 190.6,276.6 190.8,270.4 191.1,277.8 191.3,277.5 191.6,278.1 191.8,272.4 192.1,278.9 192.3,272.9 192.6,276.1 192.8,275.1 193.1,276.8 193.3,278.1 193.6,273.9 193.8,277.6 194.1,271.5 194.3,289.6 194.6,295.3 194.8,293.5 195.1,289.7 195.3,290.6 195.6,294.8 195.8,295.9 196.1,289.3 196.3,294.7 196.6,293.2 196.8,295.5 197.1,290 197.3,290.8 197.6,295.9 197.8,295.3 198.1,290.8 198.3,291 198.6,295.7 198.8,291.6 199.1,295.3 199.3,295.6 199.6,290.8 199.8,311.5 200.1,312.9 200.3,308.7 200.6,312.8 200.8,313.3 201.1,313.2 201.3,306.7 201.6,312.1 201.8,313.3 202.1,313.6 202.3,311.3 202.6,313.5 202.8,308.7 203.1,308.9 203.3,306.9 203.6,309.1 203.8,307.2 204.1,307 204.3,312.4 204.6,312.2 204.8,309 205.1,306.8 205.3,323.1 205.6,325.4 205.8,331 206.1,325.6 206.3,325.8 206.6,327.4 206.8,330.5 207.1,329.8 207.3,324.8 207.6,328.5 207.8,327.5 208.1,330.3 208.3,322.1 208.6,325 208.8,324.4 209.1,326.7 209.3,331.1 209.6,342.5 209.8,330.8 210.1,348.7 210.3,343.6 210.6,348 210.8,347 211.1,342.7 211.3,347.2 211.6,348.9 211.8,343.9 212.1,344.2 212.3,348.5 212.6,345.9 212.8,347 213.1,343.7 213.3,348.2 213.6,348.9 213.8,348.4 214.1,349 214.3,359.9 214.6,361.5 214.8,362.2 215.1,366.7 215.3,365.3 215.6,365.1 215.8,366.4 216.1,360.1 216.3,360.5 216.6,361.9 216.8,360.1 217.1,365.1 217.3,359.9 217.6,360.7 217.8,361.6 218.1,361.4 218.3,360.1 218.6,366.2 218.8,366.5 219.1,360.9 219.3,381.9 219.6,378.6 219.8,379 220.1,383.5 220.3,382.7 220.6,378.8 220.8,379.8 221.1,383.2 221.3,379.6 221.6,383.5 221.8,384.2 222.1,378.3 222.3,378.4 222.6,381.8 222.8,378.4 223.1,379.6 223.3,378.2 223.6,400.7 223.8,400.5 224.1,402.1 224.3,395.6 224.6,396.5 224.8,396.8 225.1,395.4 225.3,398 225.6,401.9 225.8,396.8 226.1,401 226.3,397.9 226.6,395.7 226.8,401.1 227.1,395.2 227.3,402.1 227.6,400.4 227.8,396.4 228.1,415.2 228.3,416.9 228.6,412.9 228.8,414 229.1,418.4 229.3,413.5 229.6,414.6 229.8,417.2 230.1,419.1 230.3,413.1 230.6,419.7 230.8,417.8 231.1,414.8 231.3,418.5 231.6,417.3 231.8,414.9 232.1,418.3 232.3,418.4 232.6,419.8 232.8,436.1 233.1,435.3 233.3,435.7 233.6,437.1 233.8,430.9 234.1,437.3 234.3,437.1 234.6,429.1 234.8,436.2 235.1,437.6 235.3,436.1 235.6,437.4 235.8,435 236.1,430.8 236.3,436.4 236.6,435.3 236.8,437 237.1,435.7 237.3,431.9 237.6,436.5 237.8,436.1 238.1,433.8 238.3,436.2 238.6,432.2 238.8,435.8 239.1,449 239.3,449.8 239.6,437 239.8,449.2 240.1,455 240.3,449.1 240.6,449.8 240.8,454.6 241.1,453.5 241.3,448.9 241.6,454.6 241.8,453.3 242.1,448.5 242.3,455 242.6,450.2 242.8,448.3 243.1,450.4 243.3,453.3 243.6,453.7 243.8,449.5 244.1,454 244.3,451.6 244.6,449.6 244.8,448.6 245.1,453.6 245.3,448.7 245.6,454.3 245.8,449.5 246.1,449.9 246.3,455.3 246.6,453.8 246.8,453.4 247.1,468.1 247.3,448.8 247.6,454.5 247.8,471.9 248.1,469.8 248.3,467.5 248.6,467.2 248.8,471.2 249.1,468.2 249.3,468.2 249.6,471.4 249.8,471.6 250.1,467.2 250.3,468.9 250.6,470.9 250.8,468.8 251.1,467.7 251.3,468 251.6,471.4 251.8,470.1 252.1,471.9 252.3,468.7 252.6,469.9 252.8,470.8 253.1,471.3 253.3,467.7 253.6,467.2 253.8,467.1 254.1,467.4 254.3,471.1 254.6,468.2 254.8,471.9 255.1,467.6 255.3,471.9 255.6,467.2 255.8,470.3 256.1,468.6 256.3,470.2 256.6,467.5 256.8,467.1 257.1,471.3 257.3,468.3 257.6,468.2 257.8,470 258.1,470.8 258.3,471 258.6,471.5 258.8,469 259.1,471.2 259.3,468.8 259.6,467.8 259.8,467.3 260.1,467.2 260.3,467.8 260.6,468.7 260.8,471 261.1,470.7 261.3,467.2 261.6,471.9 261.8,471.8 262.1,467.4 262.3,467.5 262.6,468.2 262.8,467.9 263.1,467.2 263.3,467.6 263.6,468.1 263.8,471.1 264.1,471.3 264.3,467.9 264.6,471.6 264.8,470.2 265.1,471.8 265.3,470.8 265.6,471.9 265.8,468.1 266.1,471.4 266.3,471.7 266.6,471.9 266.8,467.4 267.1,469.2 267.3,467.5 267.6,467.6 267.8,468.8 268.1,469.1 268.3,467.3 268.6,469 268.8,471 269.1,453.1 269.3,469.4 269.6,455.8 269.8,470 270.1,450.7 270.3,450.2 270.6,454.6 270.8,450.5 271.1,454.5 271.3,449.3 271.6,450.9 271.8,454.1 272.1,449.1 272.3,455.3 272.6,454.3 272.8,450.4 273.1,449.5 273.3,454.9 273.6,449.2 273.8,452.7 274.1,453 274.3,449.3 274.6,450.3 274.8,455.2 275.1,454.5 275.3,452.7 275.6,455.2 275.8,454.2 276.1,454.8 276.3,454.4 276.6,453.6 276.8,439.7 277.1,454.6 277.3,430.9 277.6,431.1 277.8,437.2 278.1,431 278.3,431.7 278.6,435 278.8,436.6 279.1,436.8 279.3,435.2 279.6,435.7 279.8,437.5 280.1,435.9 280.3,431.3 280.6,433.7 280.8,433.5 281.1,434.6 281.3,430.8 281.6,436.4 281.8,430.8 282.1,435 282.3,436 282.6,436.1 282.8,431.9 283.1,419.8 283.3,417.8 283.6,413.6 283.8,416.1 284.1,419 284.3,412.9 284.6,413.9 284.8,414.5 285.1,414.1 285.3,417.3 285.6,413.5 285.8,413.1 286.1,418.3 286.3,413.5 286.6,418.2 286.8,418.5 287.1,419.1 287.3,413.4 287.6,417.3 287.8,415.7 288.1,402 288.3,395.5 288.6,399.9 288.8,396.9 289.1,400.5 289.3,401.5 289.6,402 289.8,401.9 290.1,403.5 290.3,401 290.6,401.9 290.8,400.4 291.1,401.4 291.3,399.9 291.6,401.1 291.8,401 292.1,396.9 292.3,399.4 292.6,401.2 292.8,396.3 293.1,400.6 293.3,384 293.6,377.6 293.8,379.1 294.1,380.1 294.3,379 294.6,378.2 294.8,378.5 295.1,378.1 295.3,383.3 295.6,382.4 295.8,379.4 296.1,382.4 296.3,383.5 296.6,384.3 296.8,379.6 297.1,382.3 297.3,377.8 297.6,378.6 297.8,366.6 298.1,364.8 298.3,365.7 298.6,361.4 298.8,362 299.1,360.2 299.3,363.8 299.6,359.8 299.8,364.5 300.1,365 300.3,364 300.6,366.1 300.8,366.7 301.1,364.1 301.3,360.2 301.6,365.2 301.8,342.4 302.1,361.4 302.3,344.5 302.6,343.8 302.8,344.1 303.1,343.9 303.3,342.4 303.6,348.9 303.8,348.7 304.1,344.4 304.3,343.4 304.6,343 304.8,345.6 305.1,348 305.3,344.9 305.6,348.6 305.8,348 306.1,344.2 306.3,342.5 306.6,330 306.8,331.1 307.1,327.4 307.3,330.5 307.6,327.7 307.8,330.3 308.1,331 308.3,327.4 308.6,331.2 308.8,325.5 309.1,325.1 309.3,328.5 309.6,328.6 309.8,329.5 310.1,325.4 310.3,329.6 310.6,324.5 310.8,327.3 311.1,325 311.3,324.4 311.6,329.9 311.8,307.6 312.1,306.8 312.3,308.6 312.6,307 312.8,308.5 313.1,308.4 313.3,308 313.6,313.1 313.8,308.1 314.1,307.5 314.3,312.8 314.6,311 314.8,307.3 315.1,307.7 315.3,307 315.6,311.9 315.8,309.1 316.1,289.3 316.3,307.2 316.6,294.6 316.8,313 317.1,295.1 317.3,289.1 317.6,290.1 317.8,290.3 318.1,293.4 318.3,294.4 318.6,289.7 318.8,290.2 319.1,291.4 319.3,295 319.6,295.4 319.8,289 320.1,295.4 320.3,290.5 320.6,291.8 320.8,291 321.1,290.2 321.3,294.4 321.6,290.6 321.8,289.6 322.1,293.5 322.3,277.2 322.6,276 322.8,276.8 323.1,278.2 323.3,278 323.6,276.6 323.8,272.3 324.1,275.3 324.3,276.1 324.6,271.9 324.8,271.5 325.1,278 325.3,277.6 325.6,277.5 325.8,276.8 326.1,276.2 326.3,271.8 326.6,278.2 326.8,276.7 327.1,271.9 327.3,271.7 327.6,277.5 327.8,272.5 328.1,271.6 328.3,275 328.6,274.3 328.8,276.3 329.1,275.6 329.3,276.2 329.6,272.3 329.8,275.7 330.1,272.2 330.3,259.3 330.6,254.7 330.8,271.3 331.1,259.2 331.3,259 331.6,257.6 331.8,258.4 332.1,256 332.3,255.8 332.6,259.4 332.8,255.6 333.1,254.9 333.3,254.7 333.6,258.9 333.8,259.2 334.1,255.9 334.3,255.5 334.6,259.4 334.8,255.4 335.1,255 335.3,255.8 335.6,258.8 335.8,255.5 336.1,255.1 336.3,259.3 336.6,255.4 336.8,259.3 337.1,252.9 337.3,259.3 337.6,256.3 337.8,254.8 338.1,259.2 338.3,255.1 338.6,257.9 338.8,259.2 339.1,258.4 339.3,259.5 339.6,254.7 339.8,255.4 340.1,255.2 340.3,259.1 340.6,255.1 340.8,255.8 341.1,253.9 341.3,255.6 341.6,255.1 341.8,259.4 342.1,255.1 342.3,258.5 342.6,258.2 342.8,257.7 343.1,255.4 343.3,255 343.6,258.7 343.8,258.5 344.1,255 344.3,258.1 344.6,254.9 344.8,256.9 345.1,254.9 345.3,257.4 345.6,259.1 345.8,258.4 346.1,258.6 346.3,256.2 346.6,255 346.8,256 347.1,255.5 347.3,258.7 347.6,255.8 347.8,256.9 348.1,258.3 348.3,255.8 348.6,255.3 348.8,255.1 349.1,255.6 349.3,259.1 349.6,254.7 349.8,258.7 350.1,254.8 350.3,258.9 350.6,255.1 350.8,256.2 351.1,255.9 351.3,276.7 351.6,254.8 351.8,259.1 352.1,254.7 352.3,270.2 352.6,272.1 352.8,257.6 353.1,277.6 353.3,258.9 353.6,276.9 353.8,278.3 354.1,277.7 354.3,271.4 354.6,272.3 354.8,277.7 355.1,279.8 355.3,272.5 355.6,272.8 355.8,272.3 356.1,277.9 356.3,275.8 356.6,278 356.8,272.2 357.1,272 357.3,273.6 357.6,271.9 357.8,278.2 358.1,272.1 358.3,273.3 358.6,271.5 358.8,277.1 359.1,277.7 359.3,274.1 359.6,275.6 359.8,272.5 360.1,273.5 360.3,277.5 360.6,277.1 360.8,271.8 361.1,278 361.3,289.8 361.6,291.8 361.8,290.7 362.1,294.8 362.3,295.8 362.6,291.4 362.8,295.7 363.1,290.1 363.3,294.4 363.6,294.7 363.8,291.7 364.1,295.3 364.3,295.2 364.6,295.8 364.8,295.9 365.1,295 365.3,295.9 365.6,291.5 365.8,295.9 366.1,295.6 366.3,289.3 366.6,293.3 366.8,307.2 367.1,312.3 367.3,312.8 367.6,308.8 367.8,312.7 368.1,308.2 368.3,312.2 368.6,312.3 368.8,307.9 369.1,307.6 369.3,309 369.6,311.9 369.8,312.3 370.1,310.9 370.3,307.5 370.6,307.6 370.8,308.8 371.1,306.8 371.3,310.7 371.6,312.5 371.8,325.3 372.1,331.3 372.3,324.5 372.6,331.1 372.8,330.6 373.1,330.4 373.3,329.9 373.6,327 373.8,331.4 374.1,326.6 374.3,330.9 374.6,326 374.8,328.5 375.1,330.2 375.3,330.8 375.6,325.9 375.8,331 376.1,331.4 376.3,342.3 376.6,330.1 376.8,348.5 377.1,343.2 377.3,343.6 377.6,348.8 377.8,345.9 378.1,347.5 378.3,342.5 378.6,343.4 378.8,348.6 379.1,348.9 379.3,344.1 379.6,344.2 379.8,342.3 380.1,343.7 380.3,347 380.6,342.7 380.8,364.1 381.1,365.1 381.3,360.5 381.6,366.4 381.8,366.2 382.1,357.8 382.3,360.7 382.6,360.2 382.8,361.2 383.1,360.6 383.3,363.7 383.6,365.9 383.8,361.3 384.1,367.7 384.3,364.9 384.6,361.7 384.8,359.9 385.1,361.1 385.3,381.7 385.6,384 385.8,362.2 386.1,384.3 386.3,379.7 386.6,378.2 386.8,383.9 387.1,383 387.3,378.1 387.6,383.6 387.8,378.6 388.1,384.3 388.3,380 388.6,381.8 388.8,383.8 389.1,384 389.3,383.8 389.6,383.4 389.8,397.5 390.1,395.8 390.3,400.4 390.6,401.4 390.8,401.1 391.1,401.2 391.3,396.1 391.6,401.4 391.8,399.7 392.1,401.9 392.3,400.2 392.6,399.7 392.8,401.8 393.1,400.5 393.3,395.2 393.6,400.9 393.8,395.4 394.1,414.3 394.3,396.2 394.6,396.6 394.8,418.2 395.1,413.3 395.3,415.4 395.6,418.9 395.8,419.1 396.1,418.5 396.3,414.9 396.6,413.5 396.8,413.9 397.1,414.3 397.3,419.9 397.6,413.7 397.8,419.9 398.1,419.2 398.3,417.6 398.6,413.3 398.8,415.3 399.1,413.7 399.3,412.9 399.6,436.8 399.8,436.6 400.1,413.7 400.3,437 400.6,435.9 400.8,436.4 401.1,437.3 401.3,437.2 401.6,437 401.8,431.3 402.1,435.7 402.3,437.6 402.6,432.3 402.8,435 403.1,437 403.3,431.9 403.6,432.7 403.8,436.9 404.1,430.9 404.3,436 404.6,436.8 404.8,432.9 405.1,431.4 405.3,431.9 405.6,436.5 405.8,452.6 406.1,437.5 406.3,453.9 406.6,455.2 406.8,449.5 407.1,449.8 407.3,450 407.6,455.3 407.8,451 408.1,448.4 408.3,450 408.6,454.9 408.8,448.9 409.1,452.6 409.3,453.5 409.6,456.4 409.8,454.2 410.1,450.2 410.3,449.8 410.6,451.2 410.8,453.7 411.1,448.6 411.3,455.3 411.6,455 411.8,453.9 412.1,448.4 412.3,450.8 412.6,448.7 412.8,454.4 413.1,453.5 413.3,449.2 413.6,471.9 413.8,471.8 414.1,471.2 414.3,449.4 414.6,467.1 414.8,452.3 415.1,470.4 415.3,467.7 415.6,471.5 415.8,468.1 416.1,468.3 416.3,471.7 416.6,467.1 416.8,471.7 417.1,467.6 417.3,468.2 417.6,471.3 417.8,471.7 418.1,471.6 418.3,467.1 418.6,471.3 418.8,471.7 419.1,468 419.3,467.3 419.6,470.4 419.8,472.6 420.1,467.1 420.3,471.3 420.6,470 420.8,469.3 421.1,470.1 421.3,468.6 421.6,468.5 421.8,471.7 422.1,471.6 422.3,470.6 422.6,467.5 422.8,471.3 423.1,467.6 423.3,469.3 423.6,470.8 423.8,467.1 424.1,471 424.3,471.9 424.6,471.5 424.8,471.1 425.1,471.1 425.3,468.4 425.6,467.3 425.8,467.7 426.1,467.1 426.3,471.9 426.6,471.3 426.8,467.7 427.1,467.7 427.3,467.1 427.6,470.3 427.8,467.8 428.1,470.5 428.3,469.2 428.6,468.1 428.8,468.5 429.1,467.4 429.3,467.1 429.6,468.3 429.8,471.9 430.1,470.3 430.3,471.6 430.6,471.6 430.8,467.1 431.1,467.2 431.3,470.2 431.6,467.9 431.8,470 432.1,468.7 432.3,467.2 432.6,467.3 432.8,467.1 433.1,471.5 433.3,471.3 433.6,470.7 433.8,467.6 434.1,470.6 434.3,471.6 434.6,467.3 434.8,467.2 435.1,471.5 435.3,454.7 435.6,454.6 435.8,453.2 436.1,470.9 436.3,452.9 436.6,455 436.8,448.4 437.1,450.5 437.3,449.8 437.6,448.6 437.8,453 438.1,450.5 438.3,454.9 438.6,454.8 438.8,448.5 439.1,448.8 439.3,449.8 439.6,455.1 439.8,447.2 440.1,449.7 440.3,450.1 440.6,455.3 440.8,453.8 441.1,453 441.3,455.3 441.6,453.5 441.8,450.3 442.1,455.1 442.3,448.9 442.6,453.6 442.8,454.3 443.1,454.1 443.3,448.4 443.6,454.2 443.8,454.5 444.1,437.3 444.3,452.2 444.6,430.9 444.8,436.3 445.1,435.7 445.3,436.8 445.6,430.8 445.8,433.2 446.1,432.3 446.3,431.5 446.6,432.1 446.8,437.2 447.1,433 447.3,430.8 447.6,432.8 447.8,432 448.1,437.4 448.3,431.9 448.6,431.1 448.8,437.4 449.1,435.3 449.3,432.3 449.6,434.9 449.8,413 450.1,417.6 450.3,418.3 450.6,419.8 450.8,415.6 451.1,419.7 451.3,416.1 451.6,414.3 451.8,419.7 452.1,413.5 452.3,418.2 452.6,419.5 452.8,414.6 453.1,418.7 453.3,415.1 453.6,418.8 453.8,413.6 454.1,413.9 454.3,418.8 454.6,413.1 454.8,418.5 455.1,419.7 455.3,393.9 455.6,402 455.8,400.1 456.1,395.2 456.3,401.7 456.6,397.2 456.8,395.8 457.1,399.4 457.3,396.3 457.6,398.1 457.8,401.7 458.1,400.7 458.3,402 458.6,401.8 458.8,395.4 459.1,399.8 459.3,399.8 459.6,401.5 459.8,381.4 460.1,379.2 460.3,379.7 460.6,384.1 460.8,379.8 461.1,378.8 461.3,378.1 461.6,379.4 461.8,384 462.1,382.9 462.3,378.4 462.6,377.7 462.8,379.7 463.1,377.8 463.3,379 463.6,384.3 463.8,382.8 464.1,380.1 464.3,360.1 464.6,366.6 464.8,366.4 465.1,360.9 465.3,366.2 465.6,365.7 465.8,361.6 466.1,360.7 466.3,365.5 466.6,360.1 466.8,366.3 467.1,359.9 467.3,360 467.6,364.7 467.8,365.9 468.1,362.1 468.3,365.6 468.6,361.1 468.8,364.1 469.1,360.5 469.3,365.4 469.6,360.8 469.8,364.6 470.1,366 470.3,361.1 470.6,361.1 470.8,365.2 471.1,366.1 471.3,361.2 471.6,365.4 471.8,343.2 472.1,344.5 472.3,347.2 472.6,349 472.8,343.3 473.1,344.2 473.3,344.9 473.6,348.7 473.8,342.6 474.1,349.5 474.3,345.8 474.6,344.9 474.8,347.2 475.1,348.2 475.3,347.9 475.6,344.8 475.8,347 476.1,342.6 476.3,343.9 476.6,343.1 476.8,344.8 477.1,345.1 477.3,342.5 477.6,349.1 477.8,343.3 478.1,347.2 478.3,342.7 478.6,348.6 478.8,344.8 479.1,349.3 479.3,342.7 479.6,342.8 479.8,343.1 480.1,349.3 480.3,349.2 480.6,349.3 480.8,348.3 481.1,347.5 481.3,349.2 481.6,343 481.8,342.7 482.1,349.4 482.3,349.4 482.6,343.8 482.8,344 483.1,343.6 483.3,348.8 483.6,349 483.8,349.3 484.1,348.7 484.3,346.8 484.6,344.8 484.8,343.9 485.1,347.6 485.3,343.4 485.6,330.8 485.8,345.6 486.1,326.8 486.3,330.8 486.6,331 486.8,330.7 487.1,330.4 487.3,329.2 487.6,326.7 487.8,326.8 488.1,330.2 488.3,327 488.6,326.4 488.8,328.9 489.1,327.3 489.3,326.3 489.6,331 489.8,329.4 490.1,330.1 490.3,326.7 490.6,327.4 490.8,327.6 491.1,330 491.3,329 491.6,330.5 491.8,333 492.1,326.5 492.3,330.8 492.6,327.4 492.8,329.3 493.1,330.8 493.3,326.9 493.6,331 493.8,326.3 494.1,330.2 494.3,330.1 494.6,327.7 494.8,330.8 495.1,329.2 495.3,328.2 495.6,329.9 495.8,330 496.1,326.5 496.3,331.1 496.6,326.3 496.8,330.8 497.1,327.8 497.3,328.5 497.6,329.9 497.8,330.4 498.1,330.2 498.3,331.1 498.6,330.2 498.8,330.8 499.1,330.9 499.3,326.8 499.6,328.3 499.8,327.6 500.1,327.5 500.3,330.5 500.6,326.8 500.8,326.6 501.1,330.6 501.3,327.4 501.6,326.4 501.8,328.4 502.1,326.9 502.3,327.4 502.6,330.1 502.8,330.2 503.1,329.4 503.3,327.1 503.6,325 503.8,330.8 504.1,326.9 504.3,326.6 504.6,330.3 504.8,329.2 505.1,330.6 505.3,327.1 505.6,329.7 505.8,331.1 506.1,326.6 506.3,327.4 506.6,326.9 506.8,326.8 507.1,330.5 507.3,330.8 507.6,328 507.8,327.9 508.1,327.2 508.3,331.1 508.6,327.1 508.8,326.3 509.1,326.8 509.3,327.1 509.6,328.4 509.8,330 510.1,330.7 510.3,329.8 510.6,330.9 510.8,326.8 511.1,326.6 511.3,330.1 511.6,326.7 511.8,326.3 512,327.6 512.3,326.5 512.5,327.2 512.8,330.9 513,328.4 513.3,329.8 513.5,327.6 513.8,330.1 514,327.1 514.3,329.9 514.5,327.5 514.8,327.6 515,331.1 515.3,330.7 515.5,330.4 515.8,326.8 516,330.2 516.3,327.2 516.5,326.6 516.8,326.6 517,324.8 517.3,330.9 517.5,327.5 517.8,330.1 518,328 518.3,331.1 518.5,330.8 518.8,328.5 519,326.6 519.3,327.5 519.5,330.9 519.8,326.8 520,327.1 520.3,326.6 520.5,327.4 520.8,326.7 521,329.9 521.3,330.6 521.5,329.4 521.8,327.3 522,327.1 522.3,329.9 522.5,327.3 522.8,331.1 523,329.8 523.3,329.3 523.5,328.8 523.8,330.1 524,329.7 524.3,330.8 524.5,327.4 524.8,327.8 525,327.4 525.3,330.9 525.5,330.2 525.8,330.8 526,327.3 526.3,326.8 526.5,330.9 526.8,330.8 527,331.1 527.3,327.1 527.5,330.6 527.8,330.7 528,331.1 528.3,328.4 528.5,326.5 528.8,328.4 529,323.8 529.3,330.1 529.5,330.6 529.8,330.4 530,330.1 530.3,327.1 530.5,342.9 530.8,327 531,327.4 531.3,327.2 531.5,330.1 531.8,329.9 532,331.1 532.3,331.1 532.5,343.8 532.8,343.1 533,349.4 533.3,347.4 533.5,348.3 533.8,348.5 534,344.2 534.3,346.6 534.5,347.4 534.8,343.2 535,348.5 535.3,348.8 535.5,347.1 535.8,347.4 536,346.3 536.3,346.6 536.5,349.4 536.8,348.8 537,343.9 537.3,344.3 537.5,343.1 537.8,344.7 538,348 538.3,346.4 538.5,348.1 538.8,341.9 539,347.9 539.3,344.1 539.5,348.6 539.8,342.7 540,342.9 540.3,347.3 540.5,344 540.8,344.2 541,343.5 541.3,347.6 541.5,343 541.8,348.5 542,344.3 542.3,343.5 542.5,348.6 542.8,347.6 543,343.8 543.3,347.1 543.5,360 543.8,364.8 544,348.6 544.3,362.9 544.5,361.5 544.8,365.7 545,347.8 545.3,361.1 545.5,366.4 545.8,365.5 546,365 546.3,362.1 546.5,366.1 546.8,365.8 547,365 547.3,360.1 547.5,360.1 547.8,362.4 548,360 548.3,360.3 548.5,360 548.8,364.6 549,366 549.3,362.4 549.5,366.6 549.8,365.7 550,365.6 550.3,360.2 550.5,361.7 550.8,360.8 551,360.6 551.3,361.5 551.5,361.1 551.8,366.7 552,366.4 552.3,362.3 552.5,364.7 552.8,364.3 553,359.9 553.3,365.4 553.5,360.9 553.8,366.2 554,366.7 554.3,366.6 554.5,359.9 554.8,377.8 555,361.6 555.3,383 555.5,380.2 555.8,378.4 556,362 556.3,378.4 556.5,377.8 556.8,377.2 557,382.4 557.3,378 557.5,377.6 557.8,382.7 558,379.7 558.3,383.5 558.5,383.2 558.8,382.2 559,383.3 559.3,383 559.5,378.4 559.8,381.7 560,383.9 560.3,383.3 560.5,378.1 560.8,381.6 561,379.3 561.3,377.7 561.5,377.2 561.8,383.9 562,379 562.3,378.8 562.5,383.8 562.8,384.1 563,378.7 563.3,377.2 563.5,378.9 563.8,383.1 564,378.1 564.3,383.9 564.5,378 564.8,384.1 565,378.2 565.3,377.6 565.5,381.8 565.8,382.2 566,378.9 566.3,383.3 566.5,382.5 566.8,383.5 567,381.9 567.3,397.5 567.5,396.5 567.8,399.6 568,399.4 568.3,396.1 568.5,400.2 568.8,396.2 569,400.1 569.3,399.8 569.5,396.3 569.8,395.9 570,395.5 570.3,395.9 570.5,400 570.8,396.9 571,396.4 571.3,400.3 571.5,396.5 571.8,395.6 572,399.8 572.3,398.6 572.5,398.8 572.8,400.1 573,398.4 573.3,395.9 573.5,399.5 573.8,395.6 574,400 574.3,399 574.5,400.3 574.8,396.2 575,399.9 575.3,397 575.5,395.6 575.8,395.5 576,395.7 576.3,396.9 576.5,399.6 576.8,397.4 577,395.5 577.3,395.8 577.5,395.6 577.8,395.7 578,399.1 578.3,395.8 578.5,399.9 578.8,396.3 579,396.1 579.3,395.6 579.5,399.6 579.8,395.6 580,397.4 580.3,395.5 580.5,399.8 580.8,399.5 581,400.1 581.3,399.2 581.5,400 581.8,395.9 582,399.8 582.3,400.3 582.5,400.2 582.8,396 583,398.3 583.3,397.6 583.5,396.4 583.8,394.2 584,396.1 584.3,397.2 584.5,400.2 584.8,397.5 585,399.2 585.3,397.3 585.5,396.6 585.8,395.5 586,398.9 586.3,400.2 586.5,396.3 586.8,395.6 587,395.9 587.3,395.5 587.5,398.9 587.8,399 588,395.6 588.3,399.9 588.5,400 588.8,395.5 589,399.5 589.3,396.5 589.5,396.4 589.8,397.4 590,396.3 590.3,396.1 590.5,397.9 590.8,400 591,397.3 591.3,396.1 591.5,396.4 591.8,399.8 592,399.9 592.3,395.5 592.5,395.8 592.8,395.6 593,396.1 593.3,399 593.5,397.2 593.8,396.4 594,397.5 594.3,397.2 594.5,399.5 594.8,396.3 595,400.1 595.3,397.2 595.5,400.1 595.8,396.3 596,399.6 596.3,395.9 596.5,396.3 596.8,400 597,399.9 597.3,396 597.5,395.9 597.8,399.8 598,396.8 598.3,396.6 598.5,399.3 598.8,396.5 599,395.6 599.3,400.3 599.5,400.1 599.8,395.6 600,396.2 600.3,399 600.5,399.4 600.8,400.1 601,396.6 601.3,399.2 601.5,399.3 601.8,399.1 602,395.6 602.3,400.2 602.5,396.9 602.8,399.8 603,397.4 603.3,396.2 603.5,400.2 603.8,395.5 604,399 604.3,396.9 604.5,400.3 604.8,395.6 605,396.6 605.3,395.9 605.5,396.4 605.8,399 606,399.4 606.3,400.3 606.5,398.3 606.8,400.3 607,399.6 607.3,396.6 607.5,399.2 607.8,396.6 608,399.9 608.3,396.1 608.5,399 608.8,396.6 609,396 609.3,395.7 609.5,400.3 609.8,399.5 610,396.3 610.3,397.4 610.5,395.8 610.8,399.1 611,399.4 611.3,395.9 611.5,398.1 611.8,396 612,395.5 612.3,395.5 612.5,396.2 612.8,399.4 613,395.6 613.3,395.8 613.5,396.1 613.8,398.6 614,381.2 614.3,399.2 614.5,399.8 614.8,399.6 615,395.5 615.3,383.7 615.5,381 615.8,381.7 616,384.1 616.3,380.1 616.5,382.9 616.8,377.4 617,377.4 617.3,382.4 617.5,379.6 617.8,378.8 618,378 618.3,382.3 618.5,377.2 618.8,378 619,382.6 619.3,382.3 619.5,378.1 619.8,377.2 620,383.4 620.3,378.2 620.5,381.9 620.8,383.2 621,378 621.3,382.5 621.5,379.1 621.8,376.5 622,383.4 622.3,381.8 622.5,382.1 622.8,378.9 623,383.8 623.3,383.9 623.5,382.5 623.8,383.3 624,382.9 624.3,383.2 624.5,383.3 624.8,377.2 625,383.1 625.3,380.1 625.5,379.2 625.8,383.8 626,382.3 626.3,379.9 626.5,378.9 626.8,377.1 627,377.5 627.3,382.2 627.5,382.5 627.8,362.5 628,361.2 628.3,383.2 628.5,366.5 628.8,365.9 629,360.8 629.3,364.3 629.5,360.3 629.8,360.4 630,366.6 630.3,360.1 630.5,366 630.8,361.4 631,360.9 631.3,360.3 631.5,360 631.8,366.6 632,360.4 632.3,364.8 632.5,365.3 632.8,364.7 633,360.8 633.3,360.5 633.5,359.9 633.8,365.7 634,362.3 634.3,362.4 634.5,364.7 634.8,364.1 635,360.1 635.3,361.5 635.5,361.9 635.8,361.5 636,360.5 636.3,358.4 636.5,361.8 636.8,360.2 637,360.3 637.3,360.6 637.5,360 637.8,363.4 638,346.9 638.3,348.1 638.5,343.2 638.8,365.7 639,347.5 639.3,348.9 639.5,344 639.8,342.8 640,343.3 640.3,341.3 640.5,346.5 640.8,347.4 641,346.6 641.3,342.6 641.5,342.7 641.8,347.7 642,348.3 642.3,344.3 642.5,342.5 642.8,343.5 643,349 643.3,343.4 643.5,343.4 643.8,348.4 644,344.1 644.3,345.5 644.5,345.1 644.8,347.7 645,348.1 645.3,344.1 645.5,345.4 645.8,349.1 646,348 646.3,345.3 646.5,344.4 646.8,349 647,342.7 647.3,348.3 647.5,347.9 647.8,348.8 648,342.6 648.3,350.9 648.5,343.2 648.8,342.8 649,347.9 649.3,343.6 649.5,344.2 649.8,343.5 650,345.5 650.3,349.4 650.5,343.3 650.8,329.9 651,327 651.3,348.6 651.5,329.4 651.8,327.1 652,327.6 652.3,329.7 652.5,326.4 652.8,330.5 653,326.6 653.3,330.5 653.5,330.5 653.8,330.2 654,327.9 654.3,330.9 654.5,329.9 654.8,331.1 655,327 655.3,329.4 655.5,330.9 655.8,326.6 656,327.1 656.3,326.6 656.5,327.4 656.8,326.5 657,331.1 657.3,327.7 657.5,330.8 657.8,330.5 658,327 658.3,328.9 658.5,329.4 658.8,328.2 659,328.1 659.3,329.7 659.5,330.3 659.8,330.8 660,330.7 660.3,330.1 660.5,326.5 660.8,327.8 661,331 661.3,330.9 661.5,330.5 661.8,330.4 662,326.8 662.3,327.6 662.5,329.5 662.8,326.8 663,326.5 663.3,329.6 663.5,326.4 663.8,330.9 664,329.1 664.3,327.2 664.5,327.2 664.8,326.5 665,329.8 665.3,328.5 665.5,326.4 665.8,330.9 666,330 666.3,329.9 666.5,327.8 666.8,329.2 667,327.1 667.3,326.4 667.5,330.4 667.8,326.7 668,330.3 668.3,326.7 668.5,330.5 668.8,326.7 669,326.9 669.3,330.1 669.5,326.7 669.8,328.8 670,326.8 670.3,326.3 670.5,329.4 670.8,327.9 671,330.6 671.3,331 671.5,331.1 671.8,326.4 672,330.1 672.3,329.5 672.5,327.6 672.8,327.4 673,327.4 673.3,331.1 673.5,330.8 673.8,330.4 674,331 674.3,330.8 674.5,329.2 674.8,328.2 675,330.4 675.3,326.5 675.5,330 675.8,327 676,330.8 676.3,330.4 676.5,329.5 676.8,326.5 677,327 677.3,326.7 677.5,330.4 677.8,327 678,331 678.3,330.7 678.5,330.2 678.8,326.3 679,330.7 679.3,330.8 679.5,330.5 679.8,327.5 680,327.4 680.3,326.3 680.5,330.7 680.8,328.1 681,330.9 681.3,326.6 681.5,326.5 681.8,327.5 682,331 682.3,326.6 682.5,330.9 682.8,330.9 683,330.6 683.3,326.4 683.5,331.1 683.8,327.1 684,326.8 684.3,326.6 684.5,330.8 684.8,326.3 685,330.9 685.3,330.4 685.5,330.4 685.8,326.5 686,326.7 686.3,328.2 686.5,330.3 686.8,329.4 687,327.5 687.3,326.5 687.5,329.9 687.8,330.9 688,330.9 688.3,329.5 688.5,327.5 688.8,330.3 689,327.4 689.3,328.3 689.5,330 689.8,328.1 690,327.2 690.3,326.7 690.5,330.6 690.8,330.8 691,327.1 691.3,329.1 691.5,327.1 691.8,329.1 692,330.6 692.3,327.9 692.5,330.5 692.8,329.2 693,331 693.3,329.8 693.5,327.4 693.8,327.7 694,331 694.3,328.4 694.5,327.4 694.8,329.9 695,328.3 695.3,333.2 695.5,329.6 695.8,330.4 696,326.6 696.3,326.8 696.5,329.9 696.8,330.8 697,326.4 697.3,344.2 697.5,326.3 697.8,330.7 698,330.6 698.3,343.7 698.5,328.5 698.8,349.5 699,348.5 699.3,343.6 699.5,347.1 699.8,348.5 700,343.2 700.3,343.4 700.5,343.7 700.8,343.5 701,349.5 701.3,342.8 701.5,345.3 701.8,343.1 702,343.9 702.3,343.7 702.5,349.3 702.8,343.6 703,344.7 703.3,343.4 703.5,348.8 703.8,344.5 704,342.6 704.3,347.1 704.5,349 704.8,343.7 705,343.9 705.3,349.2 705.5,343.5 705.8,348.1 706,344 706.3,348.8 706.5,348.8 706.8,344.1 707,344.2 707.3,342.5 707.5,348.8 707.8,349.4 708,348 708.3,342.9 708.5,348.8 708.8,349.2 709,348.4 709.3,347.3 709.5,349.5 709.8,348.5 710,347.6 710.3,343.3 710.5,364.6 710.8,361 711,360 711.3,342.9 711.5,365.6 711.8,365.3 712,363.7 712.3,366.5 712.5,366.6 712.8,366.4 713,360.5 713.3,366.8 713.5,365.3 713.8,364.6 714,361.4 714.3,361 714.5,365.4 714.8,364.6 715,366.4 715.3,360.3 715.5,360.8 715.8,361 716,365.7 716.3,359.8 716.5,365.5 716.8,360.9 717,365.4 717.3,364.3 717.5,361.5 717.8,359.9 718,364.7 718.3,366.1 718.5,363.9 718.8,359.9 719,365.3 719.3,366.5 719.5,360.7 719.8,366.5 720,365.6 720.3,365 720.5,362.3 720.8,364.1 721,361.1 721.3,366.4 721.5,360.3 721.8,366 722,366.4 722.3,381.5 722.5,382.8 722.8,381.8 723,382.5 723.3,378.1 723.5,379.5 723.8,378.2 724,383.4 724.3,382 724.5,379.2 724.8,377.6 725,382 725.3,377.8 725.5,381.8 725.8,383.8 726,377.5 726.3,382.4 726.5,384.1 726.8,377.9 727,379.4 727.3,377.3 727.5,377.7 727.8,381.6 728,378.9 728.3,377.6 728.5,383.4 728.8,378.9 729,383.7 729.3,383.4 729.5,379.6 729.8,378.6 730,382 730.3,382.7 730.5,381.9 730.8,377.3 731,379.4 731.3,383.7 731.5,382.9 731.8,377.3 732,383.5 732.3,381.9 732.5,382.1 732.8,381.2 733,383.8 733.3,395.7 733.5,377.8 733.8,383.1 734,377.5 734.3,382.9 734.5,384.1 734.8,383.9 735,397.1 735.3,400.3 735.5,400.2 735.8,399.6 736,400.3 736.3,399.9 736.5,399.2 736.8,397 737,397.3 737.3,396.1 737.5,395.5 737.8,395.8 738,396.1 738.3,399.4 738.5,399.4 738.8,397.4 739,399.4 739.3,400.1 739.5,395.5 739.8,396 740,396.9 740.3,397.5 740.5,395.9 740.8,395.8 741,395.5 741.3,398.6 741.5,396.7 741.8,396.3 742,399.9 742.3,396.1 742.5,395.5 742.8,396.7 743,399.7 743.3,396.6 743.5,396.1 743.8,398.7 744,397.2 744.3,394.6 744.5,400.3 744.8,395.6 745,395.6 745.3,398.3 745.5,396 745.8,396.7 746,399 746.3,399.6 746.5,395.8 746.8,399.4 747,397.4 747.3,400.1 747.5,395.6 747.8,395.9 748,396.7 748.3,396.1 748.5,398.3 748.8,400 749,397.2 749.3,398.5 749.5,399.4 749.8,396.6 750,396.6 750.3,396.2 750.5,395.5 750.8,393.4 751,396.5 751.3,395.5 751.5,400.3 751.8,400 752,398.5 752.3,395.5 752.5,400.3 752.8,397.6 753,396.9 753.3,396.7 753.5,396.7 753.8,396.4 754,396.8 754.3,399.8 754.5,399.5 754.8,396.7 755,396.1 755.3,400.1 755.5,399.6 755.8,399.1 756,397.4 756.3,395.6 756.5,395.7 756.8,396 757,396.5 757.3,399.2 757.5,400.3 757.8,400 758,396.3 758.3,399.3 758.5,395.8 758.8,395.7 759,399 759.3,400.1 759.5,396 759.8,399.7 760,400.2 760.3,400.2 760.5,396.7 760.8,395.8 761,399.5 761.3,400 761.5,395.6 761.8,396.5 762,396.4 762.3,400 762.5,396.7 762.8,397.7 763,399.7 763.3,395.7 763.5,399.9 763.8,400 764,398.8 764.3,399.4 764.5,396.4 764.8,396.3 765,396.1 765.3,398.9 765.5,397 765.8,399.8 766,400.3 766.3,395.8 766.5,395.5 766.8,398.1 767,399.7 767.3,395.7 767.5,399.8 767.8,398.7 768,399.7 768.3,395.7 768.5,395.5 768.8,399.9 769,397.5 769.3,395.5 769.5,398.8 769.8,395.6 770,399.5 770.3,395.6 770.5,400.3 770.8,395.7 771,398.8 771.3,399.8 771.5,399.1 771.8,396.3 772,396.8 772.3,396.3 772.5,397.1 772.8,400 773,400 773.3,398.7 773.5,396.6 773.8,399.8 774,395.5 774.3,399.5 774.5,395.5 774.8,400.2 775,398.5 775.3,399.2 775.5,395.8 775.8,399.9 776,396 776.3,400.3 776.5,396.4 776.8,398.3 777,399.5 777.3,399.6 777.5,396.5 777.8,399.8 778,400.3 778.3,396.7 778.5,400 778.8,396.9 779,399 779.3,395.6 779.5,399.6 779.8,399.9 780,398.3 780.3,400.3 780.5,399 780.8,399.3 781,397.5 781.3,382.4 781.5,395.6 781.8,377.4 782,378.7 782.3,400.2 782.5,395.7 782.8,383.9 783,379.4 783.3,381.2 783.5,382.7 783.8,383.9 784,377.4 784.3,381.5 784.5,378.5 784.8,377.6 785,382 785.3,383.7 785.5,383.2 785.8,379.8 786,383.8 786.3,378.7 786.5,383.4 786.8,377.4 787,382.6 787.3,382.8 787.5,383.9 787.8,379.2 788,377.5 788.3,379 788.5,383.8 788.8,381.7 789,379.2 789.3,383.2 789.5,375.7 789.8,377.7 790,377.6 790.3,377.9 790.5,383.1 790.8,377.4 791,379.9 791.3,379.2 791.5,382.4 791.8,382.9 792,382.5 792.3,377.5 792.5,379.5 792.8,383.8 793,383.3 793.3,383.2 793.5,377.8 793.8,384.1 794,377.2 794.3,360.1 794.5,359.9 794.8,361.8 795,364.8 795.3,364.6 795.5,360.3 795.8,361.2 796,365.8 796.3,364.4 796.5,359.8 796.8,360.3 797,366.4 797.3,366.4 797.5,366.8 797.8,365.2 798,360.3 798.3,360.3 798.5,366.3 798.8,365.3 799,363.6 799.3,365.3 799.5,360.4 799.8,362.2 800,361 800.3,366.6 800.5,360.2 800.8,365.5 801,363 801.3,366.4 801.5,366.3 801.8,360.2 802,366.5 802.3,361 802.5,360.6 802.8,359.9 803,365.8 803.3,365.8 803.5,366 803.8,361.4 804,366.7 804.3,366.5 804.5,366.7 804.8,360.1 805,348 805.3,349 805.5,349.5 805.8,348.9 806,345.4 806.3,366.5 806.5,343.7 806.8,342.7 807,344.4 807.3,343.4 807.5,348.4 807.8,344.5 808,349.3 808.3,344.1 808.5,348.6 808.8,349.4 809,348.7 809.3,343.1 809.5,346.9 809.8,348.8 810,348.4 810.3,349.3 810.5,342.6 810.8,345.1 811,345 811.3,340.5 811.5,348.6 811.8,344.5 812,344.6 812.3,347.9 812.5,344.4 812.8,344.5 813,348.9 813.3,348.2 813.5,344.2 813.8,348.4 814,349.3 814.3,347.8 814.5,346.7 814.8,342.9 815,347.7 815.3,344 815.5,349 815.8,349.2 816,342.8 816.3,349.4 816.5,342.6 816.8,348.6 817,326.4 817.3,342.7 817.5,327.7 817.8,329.9 818,344.7 818.3,330.3 818.5,326.3 818.8,330 819,328.2 819.3,327 819.5,326.7 819.8,330 820,328.7 820.3,331.1 820.5,330.6 820.8,326.4 821,330 821.3,330.3 821.5,326.9 821.8,330.2 822,328 822.3,327.9 822.5,326.8 822.8,327.1 823,327.8 823.3,326.5 823.5,329.3 823.8,327.2 824,329.5 824.3,326.6 824.5,330.5 824.8,327 825,330.9 825.3,326.3 825.5,329.5 825.8,326.3 826,327 826.3,331 826.5,329.1 826.8,330 827,330.3 827.3,330.2 827.5,326.9 827.8,326.5 828,330.1 828.3,330.6 828.5,327.1 828.8,327.1 829,327.5 829.3,327.7 829.5,330.2 829.8,330.3 830,327.5 830.3,331.1 830.5,330.2 830.8,329.3 831,330.8 831.3,331.1 831.5,326.9 831.8,326.6 832,326.4 832.3,327 832.5,331 832.8,327 833,328.9 833.3,328 833.5,326.4 833.8,326.5 834,329.2 834.3,329.9 834.5,330.3 834.8,326.8 835,330.9 835.3,326.4 835.5,331.1 835.8,330.4 836,326.5 836.3,326.4 836.5,328.1 836.8,330.9 837,329.7 837.3,329.9 837.5,330 837.8,331 838,330.7 838.3,331.1 838.5,327.9 838.8,328.1 839,326.5 839.3,326.3 839.5,327.1 839.8,330.8 840,330.5 840.3,330.5 840.5,330.5 840.8,329.9 841,330.3 841.3,330.5 841.5,327.1 841.8,330.1 842,326.4 842.3,331.1 842.5,328.9 842.8,327.4 843,326.5 843.3,326.6 843.5,330.6 843.8,329.6 844,330 844.3,327.5 844.5,327.7 844.8,327.2 845,326.4 845.3,327.1 845.5,326.8 845.8,327.8 846,327.9 846.3,330.9 846.5,326.3 846.8,328.3 847,330.3 847.3,329.4 847.5,327.2 847.8,331 848,330.9 848.3,330.7 848.5,330.9 848.8,331.1 849,326.5 849.3,326.6 849.5,327.7 849.8,328.3 850,327.1 850.3,327.4 850.5,331.1 850.8,329.3 851,330.2 851.3,326.9 851.5,329.6 851.8,330.4 852,329.4 852.3,327.1 852.5,326.8 852.8,327.2 853,327.2 853.3,326.5 853.5,329.7 853.8,329.7 854,330.5 854.3,331 854.5,330.8 854.8,330.5 855,326.7 855.3,330.9 855.5,330 855.8,327.1 856,331 856.3,327 856.5,329.7 856.8,330.6 857,330.9 857.3,326.4 857.5,330.7 857.8,326.4 858,327.7 858.3,327.4 858.5,331 858.8,330.5 859,326.9 859.3,329.7 859.5,327.4 859.8,327.3 860,330.9 860.3,330.2 860.5,329.2 860.8,329.8 861,331.1 861.3,327.2 861.5,326.5 861.8,326.8 862,328.8 862.3,331.1 862.5,330.5 862.8,327.8 863,326.3 863.3,330.1 863.5,326.7 863.8,328 864,327.5 864.3,326.3 864.5,331 864.8,330.2 865,349.1 865.3,347.7 865.5,347.5 865.8,347.2" fill="none" stroke="#12bebe" stroke-width="1.6" stroke-linejoin="round"/>
<rect x="33.4" y="475.7" width="355.6" height="24.9" rx="6.5" fill="#fff" stroke="#6a6a6a" stroke-width="1.8"/>
<rect x="39.3" y="480" width="27.5" height="17.9" rx="8.9" fill="#1010f5"/>
<text x="48.6" y="493.9" font-family="'Liberation Sans', sans-serif" font-size="16" font-weight="normal" fill="#000" stroke="#000" stroke-width="0.5">1</text>
<text x="86.4" y="494.3" font-family="'Liberation Sans', sans-serif" font-size="16" font-weight="normal" fill="#2a2af0" textLength="49" lengthAdjust="spacing" stroke="#2a2af0" stroke-width="0.45">200 V</text>
<rect x="216.6" y="479.8" width="27.7" height="18.3" rx="9.2" fill="#18dcdc"/>
<text x="226" y="494.1" font-family="'Liberation Sans', sans-serif" font-size="16" font-weight="normal" fill="#000" stroke="#000" stroke-width="0.5">2</text>
<text x="264.2" y="494.3" font-family="'Liberation Sans', sans-serif" font-size="16" font-weight="normal" fill="#22d4d4" textLength="57" lengthAdjust="spacing" stroke="#22d4d4" stroke-width="0.45">2.00 A</text>
<rect x="393.8" y="475.7" width="374.6" height="42.8" rx="7" fill="#fff" stroke="#6a6a6a" stroke-width="1.8"/>
<text x="400" y="494.3" font-family="'Liberation Sans', sans-serif" font-size="16" font-weight="normal" fill="#1a1a1a" textLength="63" lengthAdjust="spacing" stroke="#1a1a1a" stroke-width="0.45">10.0ms</text>
<text x="553.4" y="494.3" font-family="'Liberation Sans', sans-serif" font-size="16" font-weight="normal" fill="#1a1a1a" textLength="71" lengthAdjust="spacing" stroke="#1a1a1a" stroke-width="0.45">100kS/s</text>
<rect x="694.8" y="480.7" width="27.3" height="16.9" rx="8.5" fill="#1010f5"/>
<text x="704.1" y="493.6" font-family="'Liberation Sans', sans-serif" font-size="16" font-weight="normal" fill="#000" stroke="#000" stroke-width="0.5">1</text>
<path d="M737.5 493c3 0 4-1 5-4.5s2-4.5 6-4.5" fill="none" stroke="#111" stroke-width="2"/>
<rect x="398" y="500.8" width="13" height="14" rx="2" fill="#ff8c0a"/>
<path d="M400.5 503.5h8M404.5 503.5v9" stroke="#fff" stroke-width="2" fill="none"/>
<path d="M412 507.8h8" stroke="#ff8c0a" stroke-width="1.6"/>
<path d="M418.5 505l3.5 2.8l-3.5 2.8z" fill="#ff8c0a"/>
<path d="M424 503h11l-5.5 8z" fill="#ff8c0a"/>
<text x="437.3" y="514" font-family="'Liberation Sans', sans-serif" font-size="16" font-weight="normal" fill="#ff8c0a" textLength="86.5" lengthAdjust="spacing" stroke="#ff8c0a" stroke-width="0.45">0.00000 s</text>
<text x="553.4" y="514" font-family="'Liberation Sans', sans-serif" font-size="16" font-weight="normal" fill="#1a1a1a" textLength="94" lengthAdjust="spacing" stroke="#1a1a1a" stroke-width="0.45">10k points</text>
<text x="702.6" y="514" font-family="'Liberation Sans', sans-serif" font-size="16" font-weight="normal" fill="#1a1a1a" textLength="56" lengthAdjust="spacing" stroke="#1a1a1a" stroke-width="0.45">0.00 V</text>
<rect x="773.4" y="475.7" width="122.2" height="42.8" rx="7" fill="#fff" stroke="#6a6a6a" stroke-width="1.8"/>
<text x="778.4" y="494.3" font-family="'Liberation Sans', sans-serif" font-size="16" font-weight="normal" fill="#1a1a1a" textLength="56.5" lengthAdjust="spacing" stroke="#1a1a1a" stroke-width="0.45">25 Apr</text>
<text x="848.3" y="494.3" font-family="'Liberation Sans', sans-serif" font-size="16" font-weight="normal" fill="#1a1a1a" textLength="43" lengthAdjust="spacing" stroke="#1a1a1a" stroke-width="0.45">2019</text>
<text x="778.4" y="514" font-family="'Liberation Sans', sans-serif" font-size="16" font-weight="normal" fill="#1a1a1a" textLength="77.5" lengthAdjust="spacing" stroke="#1a1a1a" stroke-width="0.45">16:15:55</text>
<rect x="187.1" y="31.6" width="105.8" height="26.3" fill="#ffd966"/>
<text x="199.4" y="52.4" font-family="'Liberation Serif', serif" font-weight="bold" font-size="22" fill="#000">MI = 1.0</text>
<rect x="607.4" y="30.8" width="105.2" height="25.8" fill="#ffd966"/>
<text x="619.4" y="52" font-family="'Liberation Serif', serif" font-weight="bold" font-size="22" fill="#000">MI = 0.4</text>
<rect x="58.4" y="55.7" width="94.1" height="25.9" fill="#ffd966"/>
<text x="61.8" y="76.2" font-family="'Liberation Serif', serif" font-weight="bold" font-size="22.5" fill="#000">200V/div</text>
<line x1="50.6" y1="47" x2="50.6" y2="88.6" stroke="#ff0000" stroke-width="2.8"/>
<path d="M50.6 31.2L59.5 49L41.7 49Z" fill="#ff0000"/>
<line x1="38.5" y1="83.9" x2="59.8" y2="94.5" stroke="#ff0000" stroke-width="3"/>
<rect x="119.9" y="212.7" width="171" height="25.9" fill="#ffd966"/>
<text x="133.5" y="232.4" font-family="'Liberation Serif', serif" font-weight="bold" font-size="22" fill="#000">Output Voltage</text>
<line x1="186.4" y1="213.1" x2="136.1" y2="170.1" stroke="#ff0000" stroke-width="3.2"/>
<path d="M125.5 161L144.9 166L133.5 179.4Z" fill="#ff0000"/>
<rect x="508.2" y="232.3" width="132.9" height="27.4" fill="#ffd966"/>
<text x="509.6" y="252.8" font-family="'Liberation Serif', serif" font-weight="bold" font-size="22" fill="#000">Change of MI</text>
<path d="M586.8 264.3C572 282 556 289 535 286.5S500 281 489 279.3" fill="none" stroke="#ff0000" stroke-width="3.5" stroke-linecap="round"/>
<path d="M474.3 275.6L493.1 270.2L489.7 287.3Z" fill="#ff0000"/>
<ellipse cx="452.5" cy="295" rx="21.2" ry="154.6" fill="none" stroke="#ff0000" stroke-width="2.6"/>
<rect x="52.5" y="272.9" width="86" height="26.7" fill="#ffd966"/>
<text x="63.2" y="293.8" font-family="'Liberation Serif', serif" font-weight="bold" font-size="22.5" fill="#000">2A/div</text>
<line x1="49.4" y1="267" x2="49.4" y2="308.6" stroke="#ff0000" stroke-width="2.8"/>
<path d="M49.4 251.5L58.3 269L40.5 269Z" fill="#ff0000"/>
<line x1="37.8" y1="303.9" x2="59.1" y2="314.8" stroke="#ff0000" stroke-width="3"/>
<rect x="641" y="274.3" width="158.4" height="25.5" fill="#ffd966"/>
<text x="644.2" y="294.5" font-family="'Liberation Serif', serif" font-weight="bold" font-size="22" fill="#000">Output Current</text>
<line x1="704.2" y1="300.4" x2="693.4" y2="315.6" stroke="#ff0000" stroke-width="3.2"/>
<path d="M685.3 327L688.6 307.2L702.9 317.4Z" fill="#ff0000"/>
<rect x="746.2" y="428.6" width="102.8" height="27.1" fill="#ffd966"/>
<text x="757.8" y="449.9" font-family="'Liberation Serif', serif" font-weight="bold" font-size="22" fill="#000">Z = 60Ω</text>
<text x="441.2" y="567" font-family="'Liberation Serif', serif" font-size="25.2" font-weight="normal" fill="#000">(</text>
<text x="449.7" y="566.4" font-family="'Liberation Serif', serif" font-size="24" font-weight="bold" fill="#000">a</text>
<text x="462" y="567" font-family="'Liberation Serif', serif" font-size="25.2" font-weight="normal" fill="#000">)</text>
<rect x="33.1" y="607.7" width="833.8" height="444.1" fill="none" stroke="#575b5d" stroke-width="2.2"/>
<path d="M116.9 619.2h1.6v1.6h-1.6zM116.9 630.3h1.6v1.6h-1.6zM116.9 641.3h1.6v1.6h-1.6zM116.9 652.4h1.6v1.6h-1.6zM116.9 663.5h1.6v1.6h-1.6zM116.9 674.6h1.6v1.6h-1.6zM116.9 685.7h1.6v1.6h-1.6zM116.9 696.7h1.6v1.6h-1.6zM116.9 707.8h1.6v1.6h-1.6zM116.9 718.9h1.6v1.6h-1.6zM116.9 730h1.6v1.6h-1.6zM116.9 741.1h1.6v1.6h-1.6zM116.9 752.1h1.6v1.6h-1.6zM116.9 763.2h1.6v1.6h-1.6zM116.9 774.3h1.6v1.6h-1.6zM116.9 785.4h1.6v1.6h-1.6zM116.9 796.5h1.6v1.6h-1.6zM116.9 807.5h1.6v1.6h-1.6zM116.9 818.6h1.6v1.6h-1.6zM116.9 829.7h1.6v1.6h-1.6zM116.9 840.8h1.6v1.6h-1.6zM116.9 851.9h1.6v1.6h-1.6zM116.9 862.9h1.6v1.6h-1.6zM116.9 874h1.6v1.6h-1.6zM116.9 885.1h1.6v1.6h-1.6zM116.9 896.2h1.6v1.6h-1.6zM116.9 907.3h1.6v1.6h-1.6zM116.9 918.3h1.6v1.6h-1.6zM116.9 929.4h1.6v1.6h-1.6zM116.9 940.5h1.6v1.6h-1.6zM116.9 951.6h1.6v1.6h-1.6zM116.9 962.7h1.6v1.6h-1.6zM116.9 973.7h1.6v1.6h-1.6zM116.9 984.8h1.6v1.6h-1.6zM116.9 995.9h1.6v1.6h-1.6zM116.9 1007h1.6v1.6h-1.6zM116.9 1018.1h1.6v1.6h-1.6zM116.9 1029.1h1.6v1.6h-1.6zM116.9 1040.2h1.6v1.6h-1.6zM200.1 619.2h1.6v1.6h-1.6zM200.1 630.3h1.6v1.6h-1.6zM200.1 641.3h1.6v1.6h-1.6zM200.1 652.4h1.6v1.6h-1.6zM200.1 663.5h1.6v1.6h-1.6zM200.1 674.6h1.6v1.6h-1.6zM200.1 685.7h1.6v1.6h-1.6zM200.1 696.7h1.6v1.6h-1.6zM200.1 707.8h1.6v1.6h-1.6zM200.1 718.9h1.6v1.6h-1.6zM200.1 730h1.6v1.6h-1.6zM200.1 741.1h1.6v1.6h-1.6zM200.1 752.1h1.6v1.6h-1.6zM200.1 763.2h1.6v1.6h-1.6zM200.1 774.3h1.6v1.6h-1.6zM200.1 785.4h1.6v1.6h-1.6zM200.1 796.5h1.6v1.6h-1.6zM200.1 807.5h1.6v1.6h-1.6zM200.1 818.6h1.6v1.6h-1.6zM200.1 829.7h1.6v1.6h-1.6zM200.1 840.8h1.6v1.6h-1.6zM200.1 851.9h1.6v1.6h-1.6zM200.1 862.9h1.6v1.6h-1.6zM200.1 874h1.6v1.6h-1.6zM200.1 885.1h1.6v1.6h-1.6zM200.1 896.2h1.6v1.6h-1.6zM200.1 907.3h1.6v1.6h-1.6zM200.1 918.3h1.6v1.6h-1.6zM200.1 929.4h1.6v1.6h-1.6zM200.1 940.5h1.6v1.6h-1.6zM200.1 951.6h1.6v1.6h-1.6zM200.1 962.7h1.6v1.6h-1.6zM200.1 973.7h1.6v1.6h-1.6zM200.1 984.8h1.6v1.6h-1.6zM200.1 995.9h1.6v1.6h-1.6zM200.1 1007h1.6v1.6h-1.6zM200.1 1018.1h1.6v1.6h-1.6zM200.1 1029.1h1.6v1.6h-1.6zM200.1 1040.2h1.6v1.6h-1.6zM283.3 619.2h1.6v1.6h-1.6zM283.3 630.3h1.6v1.6h-1.6zM283.3 641.3h1.6v1.6h-1.6zM283.3 652.4h1.6v1.6h-1.6zM283.3 663.5h1.6v1.6h-1.6zM283.3 674.6h1.6v1.6h-1.6zM283.3 685.7h1.6v1.6h-1.6zM283.3 696.7h1.6v1.6h-1.6zM283.3 707.8h1.6v1.6h-1.6zM283.3 718.9h1.6v1.6h-1.6zM283.3 730h1.6v1.6h-1.6zM283.3 741.1h1.6v1.6h-1.6zM283.3 752.1h1.6v1.6h-1.6zM283.3 763.2h1.6v1.6h-1.6zM283.3 774.3h1.6v1.6h-1.6zM283.3 785.4h1.6v1.6h-1.6zM283.3 796.5h1.6v1.6h-1.6zM283.3 807.5h1.6v1.6h-1.6zM283.3 818.6h1.6v1.6h-1.6zM283.3 829.7h1.6v1.6h-1.6zM283.3 840.8h1.6v1.6h-1.6zM283.3 851.9h1.6v1.6h-1.6zM283.3 862.9h1.6v1.6h-1.6zM283.3 874h1.6v1.6h-1.6zM283.3 885.1h1.6v1.6h-1.6zM283.3 896.2h1.6v1.6h-1.6zM283.3 907.3h1.6v1.6h-1.6zM283.3 918.3h1.6v1.6h-1.6zM283.3 929.4h1.6v1.6h-1.6zM283.3 940.5h1.6v1.6h-1.6zM283.3 951.6h1.6v1.6h-1.6zM283.3 962.7h1.6v1.6h-1.6zM283.3 973.7h1.6v1.6h-1.6zM283.3 984.8h1.6v1.6h-1.6zM283.3 995.9h1.6v1.6h-1.6zM283.3 1007h1.6v1.6h-1.6zM283.3 1018.1h1.6v1.6h-1.6zM283.3 1029.1h1.6v1.6h-1.6zM283.3 1040.2h1.6v1.6h-1.6zM366.6 619.2h1.6v1.6h-1.6zM366.6 630.3h1.6v1.6h-1.6zM366.6 641.3h1.6v1.6h-1.6zM366.6 652.4h1.6v1.6h-1.6zM366.6 663.5h1.6v1.6h-1.6zM366.6 674.6h1.6v1.6h-1.6zM366.6 685.7h1.6v1.6h-1.6zM366.6 696.7h1.6v1.6h-1.6zM366.6 707.8h1.6v1.6h-1.6zM366.6 718.9h1.6v1.6h-1.6zM366.6 730h1.6v1.6h-1.6zM366.6 741.1h1.6v1.6h-1.6zM366.6 752.1h1.6v1.6h-1.6zM366.6 763.2h1.6v1.6h-1.6zM366.6 774.3h1.6v1.6h-1.6zM366.6 785.4h1.6v1.6h-1.6zM366.6 796.5h1.6v1.6h-1.6zM366.6 807.5h1.6v1.6h-1.6zM366.6 818.6h1.6v1.6h-1.6zM366.6 829.7h1.6v1.6h-1.6zM366.6 840.8h1.6v1.6h-1.6zM366.6 851.9h1.6v1.6h-1.6zM366.6 862.9h1.6v1.6h-1.6zM366.6 874h1.6v1.6h-1.6zM366.6 885.1h1.6v1.6h-1.6zM366.6 896.2h1.6v1.6h-1.6zM366.6 907.3h1.6v1.6h-1.6zM366.6 918.3h1.6v1.6h-1.6zM366.6 929.4h1.6v1.6h-1.6zM366.6 940.5h1.6v1.6h-1.6zM366.6 951.6h1.6v1.6h-1.6zM366.6 962.7h1.6v1.6h-1.6zM366.6 973.7h1.6v1.6h-1.6zM366.6 984.8h1.6v1.6h-1.6zM366.6 995.9h1.6v1.6h-1.6zM366.6 1007h1.6v1.6h-1.6zM366.6 1018.1h1.6v1.6h-1.6zM366.6 1029.1h1.6v1.6h-1.6zM366.6 1040.2h1.6v1.6h-1.6zM533.1 619.2h1.6v1.6h-1.6zM533.1 630.3h1.6v1.6h-1.6zM533.1 641.3h1.6v1.6h-1.6zM533.1 652.4h1.6v1.6h-1.6zM533.1 663.5h1.6v1.6h-1.6zM533.1 674.6h1.6v1.6h-1.6zM533.1 685.7h1.6v1.6h-1.6zM533.1 696.7h1.6v1.6h-1.6zM533.1 707.8h1.6v1.6h-1.6zM533.1 718.9h1.6v1.6h-1.6zM533.1 730h1.6v1.6h-1.6zM533.1 741.1h1.6v1.6h-1.6zM533.1 752.1h1.6v1.6h-1.6zM533.1 763.2h1.6v1.6h-1.6zM533.1 774.3h1.6v1.6h-1.6zM533.1 785.4h1.6v1.6h-1.6zM533.1 796.5h1.6v1.6h-1.6zM533.1 807.5h1.6v1.6h-1.6zM533.1 818.6h1.6v1.6h-1.6zM533.1 829.7h1.6v1.6h-1.6zM533.1 840.8h1.6v1.6h-1.6zM533.1 851.9h1.6v1.6h-1.6zM533.1 862.9h1.6v1.6h-1.6zM533.1 874h1.6v1.6h-1.6zM533.1 885.1h1.6v1.6h-1.6zM533.1 896.2h1.6v1.6h-1.6zM533.1 907.3h1.6v1.6h-1.6zM533.1 918.3h1.6v1.6h-1.6zM533.1 929.4h1.6v1.6h-1.6zM533.1 940.5h1.6v1.6h-1.6zM533.1 951.6h1.6v1.6h-1.6zM533.1 962.7h1.6v1.6h-1.6zM533.1 973.7h1.6v1.6h-1.6zM533.1 984.8h1.6v1.6h-1.6zM533.1 995.9h1.6v1.6h-1.6zM533.1 1007h1.6v1.6h-1.6zM533.1 1018.1h1.6v1.6h-1.6zM533.1 1029.1h1.6v1.6h-1.6zM533.1 1040.2h1.6v1.6h-1.6zM616.4 619.2h1.6v1.6h-1.6zM616.4 630.3h1.6v1.6h-1.6zM616.4 641.3h1.6v1.6h-1.6zM616.4 652.4h1.6v1.6h-1.6zM616.4 663.5h1.6v1.6h-1.6zM616.4 674.6h1.6v1.6h-1.6zM616.4 685.7h1.6v1.6h-1.6zM616.4 696.7h1.6v1.6h-1.6zM616.4 707.8h1.6v1.6h-1.6zM616.4 718.9h1.6v1.6h-1.6zM616.4 730h1.6v1.6h-1.6zM616.4 741.1h1.6v1.6h-1.6zM616.4 752.1h1.6v1.6h-1.6zM616.4 763.2h1.6v1.6h-1.6zM616.4 774.3h1.6v1.6h-1.6zM616.4 785.4h1.6v1.6h-1.6zM616.4 796.5h1.6v1.6h-1.6zM616.4 807.5h1.6v1.6h-1.6zM616.4 818.6h1.6v1.6h-1.6zM616.4 829.7h1.6v1.6h-1.6zM616.4 840.8h1.6v1.6h-1.6zM616.4 851.9h1.6v1.6h-1.6zM616.4 862.9h1.6v1.6h-1.6zM616.4 874h1.6v1.6h-1.6zM616.4 885.1h1.6v1.6h-1.6zM616.4 896.2h1.6v1.6h-1.6zM616.4 907.3h1.6v1.6h-1.6zM616.4 918.3h1.6v1.6h-1.6zM616.4 929.4h1.6v1.6h-1.6zM616.4 940.5h1.6v1.6h-1.6zM616.4 951.6h1.6v1.6h-1.6zM616.4 962.7h1.6v1.6h-1.6zM616.4 973.7h1.6v1.6h-1.6zM616.4 984.8h1.6v1.6h-1.6zM616.4 995.9h1.6v1.6h-1.6zM616.4 1007h1.6v1.6h-1.6zM616.4 1018.1h1.6v1.6h-1.6zM616.4 1029.1h1.6v1.6h-1.6zM616.4 1040.2h1.6v1.6h-1.6zM699.6 619.2h1.6v1.6h-1.6zM699.6 630.3h1.6v1.6h-1.6zM699.6 641.3h1.6v1.6h-1.6zM699.6 652.4h1.6v1.6h-1.6zM699.6 663.5h1.6v1.6h-1.6zM699.6 674.6h1.6v1.6h-1.6zM699.6 685.7h1.6v1.6h-1.6zM699.6 696.7h1.6v1.6h-1.6zM699.6 707.8h1.6v1.6h-1.6zM699.6 718.9h1.6v1.6h-1.6zM699.6 730h1.6v1.6h-1.6zM699.6 741.1h1.6v1.6h-1.6zM699.6 752.1h1.6v1.6h-1.6zM699.6 763.2h1.6v1.6h-1.6zM699.6 774.3h1.6v1.6h-1.6zM699.6 785.4h1.6v1.6h-1.6zM699.6 796.5h1.6v1.6h-1.6zM699.6 807.5h1.6v1.6h-1.6zM699.6 818.6h1.6v1.6h-1.6zM699.6 829.7h1.6v1.6h-1.6zM699.6 840.8h1.6v1.6h-1.6zM699.6 851.9h1.6v1.6h-1.6zM699.6 862.9h1.6v1.6h-1.6zM699.6 874h1.6v1.6h-1.6zM699.6 885.1h1.6v1.6h-1.6zM699.6 896.2h1.6v1.6h-1.6zM699.6 907.3h1.6v1.6h-1.6zM699.6 918.3h1.6v1.6h-1.6zM699.6 929.4h1.6v1.6h-1.6zM699.6 940.5h1.6v1.6h-1.6zM699.6 951.6h1.6v1.6h-1.6zM699.6 962.7h1.6v1.6h-1.6zM699.6 973.7h1.6v1.6h-1.6zM699.6 984.8h1.6v1.6h-1.6zM699.6 995.9h1.6v1.6h-1.6zM699.6 1007h1.6v1.6h-1.6zM699.6 1018.1h1.6v1.6h-1.6zM699.6 1029.1h1.6v1.6h-1.6zM699.6 1040.2h1.6v1.6h-1.6zM782.9 619.2h1.6v1.6h-1.6zM782.9 630.3h1.6v1.6h-1.6zM782.9 641.3h1.6v1.6h-1.6zM782.9 652.4h1.6v1.6h-1.6zM782.9 663.5h1.6v1.6h-1.6zM782.9 674.6h1.6v1.6h-1.6zM782.9 685.7h1.6v1.6h-1.6zM782.9 696.7h1.6v1.6h-1.6zM782.9 707.8h1.6v1.6h-1.6zM782.9 718.9h1.6v1.6h-1.6zM782.9 730h1.6v1.6h-1.6zM782.9 741.1h1.6v1.6h-1.6zM782.9 752.1h1.6v1.6h-1.6zM782.9 763.2h1.6v1.6h-1.6zM782.9 774.3h1.6v1.6h-1.6zM782.9 785.4h1.6v1.6h-1.6zM782.9 796.5h1.6v1.6h-1.6zM782.9 807.5h1.6v1.6h-1.6zM782.9 818.6h1.6v1.6h-1.6zM782.9 829.7h1.6v1.6h-1.6zM782.9 840.8h1.6v1.6h-1.6zM782.9 851.9h1.6v1.6h-1.6zM782.9 862.9h1.6v1.6h-1.6zM782.9 874h1.6v1.6h-1.6zM782.9 885.1h1.6v1.6h-1.6zM782.9 896.2h1.6v1.6h-1.6zM782.9 907.3h1.6v1.6h-1.6zM782.9 918.3h1.6v1.6h-1.6zM782.9 929.4h1.6v1.6h-1.6zM782.9 940.5h1.6v1.6h-1.6zM782.9 951.6h1.6v1.6h-1.6zM782.9 962.7h1.6v1.6h-1.6zM782.9 973.7h1.6v1.6h-1.6zM782.9 984.8h1.6v1.6h-1.6zM782.9 995.9h1.6v1.6h-1.6zM782.9 1007h1.6v1.6h-1.6zM782.9 1018.1h1.6v1.6h-1.6zM782.9 1029.1h1.6v1.6h-1.6zM782.9 1040.2h1.6v1.6h-1.6zM50.2 663.5h1.6v1.6h-1.6zM66.9 663.5h1.6v1.6h-1.6zM83.5 663.5h1.6v1.6h-1.6zM100.2 663.5h1.6v1.6h-1.6zM116.9 663.5h1.6v1.6h-1.6zM133.5 663.5h1.6v1.6h-1.6zM150.1 663.5h1.6v1.6h-1.6zM166.8 663.5h1.6v1.6h-1.6zM183.4 663.5h1.6v1.6h-1.6zM200.1 663.5h1.6v1.6h-1.6zM216.8 663.5h1.6v1.6h-1.6zM233.4 663.5h1.6v1.6h-1.6zM250 663.5h1.6v1.6h-1.6zM266.7 663.5h1.6v1.6h-1.6zM283.3 663.5h1.6v1.6h-1.6zM300 663.5h1.6v1.6h-1.6zM316.6 663.5h1.6v1.6h-1.6zM333.3 663.5h1.6v1.6h-1.6zM349.9 663.5h1.6v1.6h-1.6zM366.6 663.5h1.6v1.6h-1.6zM383.2 663.5h1.6v1.6h-1.6zM399.9 663.5h1.6v1.6h-1.6zM416.5 663.5h1.6v1.6h-1.6zM433.2 663.5h1.6v1.6h-1.6zM449.8 663.5h1.6v1.6h-1.6zM466.5 663.5h1.6v1.6h-1.6zM483.1 663.5h1.6v1.6h-1.6zM499.8 663.5h1.6v1.6h-1.6zM516.5 663.5h1.6v1.6h-1.6zM533.1 663.5h1.6v1.6h-1.6zM549.8 663.5h1.6v1.6h-1.6zM566.4 663.5h1.6v1.6h-1.6zM583.1 663.5h1.6v1.6h-1.6zM599.7 663.5h1.6v1.6h-1.6zM616.4 663.5h1.6v1.6h-1.6zM633 663.5h1.6v1.6h-1.6zM649.6 663.5h1.6v1.6h-1.6zM666.3 663.5h1.6v1.6h-1.6zM683 663.5h1.6v1.6h-1.6zM699.6 663.5h1.6v1.6h-1.6zM716.2 663.5h1.6v1.6h-1.6zM732.9 663.5h1.6v1.6h-1.6zM749.6 663.5h1.6v1.6h-1.6zM766.2 663.5h1.6v1.6h-1.6zM782.9 663.5h1.6v1.6h-1.6zM799.5 663.5h1.6v1.6h-1.6zM816.1 663.5h1.6v1.6h-1.6zM832.8 663.5h1.6v1.6h-1.6zM849.5 663.5h1.6v1.6h-1.6zM50.2 718.9h1.6v1.6h-1.6zM66.9 718.9h1.6v1.6h-1.6zM83.5 718.9h1.6v1.6h-1.6zM100.2 718.9h1.6v1.6h-1.6zM116.9 718.9h1.6v1.6h-1.6zM133.5 718.9h1.6v1.6h-1.6zM150.1 718.9h1.6v1.6h-1.6zM166.8 718.9h1.6v1.6h-1.6zM183.4 718.9h1.6v1.6h-1.6zM200.1 718.9h1.6v1.6h-1.6zM216.8 718.9h1.6v1.6h-1.6zM233.4 718.9h1.6v1.6h-1.6zM250 718.9h1.6v1.6h-1.6zM266.7 718.9h1.6v1.6h-1.6zM283.3 718.9h1.6v1.6h-1.6zM300 718.9h1.6v1.6h-1.6zM316.6 718.9h1.6v1.6h-1.6zM333.3 718.9h1.6v1.6h-1.6zM349.9 718.9h1.6v1.6h-1.6zM366.6 718.9h1.6v1.6h-1.6zM383.2 718.9h1.6v1.6h-1.6zM399.9 718.9h1.6v1.6h-1.6zM416.5 718.9h1.6v1.6h-1.6zM433.2 718.9h1.6v1.6h-1.6zM449.8 718.9h1.6v1.6h-1.6zM466.5 718.9h1.6v1.6h-1.6zM483.1 718.9h1.6v1.6h-1.6zM499.8 718.9h1.6v1.6h-1.6zM516.5 718.9h1.6v1.6h-1.6zM533.1 718.9h1.6v1.6h-1.6zM549.8 718.9h1.6v1.6h-1.6zM566.4 718.9h1.6v1.6h-1.6zM583.1 718.9h1.6v1.6h-1.6zM599.7 718.9h1.6v1.6h-1.6zM616.4 718.9h1.6v1.6h-1.6zM633 718.9h1.6v1.6h-1.6zM649.6 718.9h1.6v1.6h-1.6zM666.3 718.9h1.6v1.6h-1.6zM683 718.9h1.6v1.6h-1.6zM699.6 718.9h1.6v1.6h-1.6zM716.2 718.9h1.6v1.6h-1.6zM732.9 718.9h1.6v1.6h-1.6zM749.6 718.9h1.6v1.6h-1.6zM766.2 718.9h1.6v1.6h-1.6zM782.9 718.9h1.6v1.6h-1.6zM799.5 718.9h1.6v1.6h-1.6zM816.1 718.9h1.6v1.6h-1.6zM832.8 718.9h1.6v1.6h-1.6zM849.5 718.9h1.6v1.6h-1.6zM50.2 774.3h1.6v1.6h-1.6zM66.9 774.3h1.6v1.6h-1.6zM83.5 774.3h1.6v1.6h-1.6zM100.2 774.3h1.6v1.6h-1.6zM116.9 774.3h1.6v1.6h-1.6zM133.5 774.3h1.6v1.6h-1.6zM150.1 774.3h1.6v1.6h-1.6zM166.8 774.3h1.6v1.6h-1.6zM183.4 774.3h1.6v1.6h-1.6zM200.1 774.3h1.6v1.6h-1.6zM216.8 774.3h1.6v1.6h-1.6zM233.4 774.3h1.6v1.6h-1.6zM250 774.3h1.6v1.6h-1.6zM266.7 774.3h1.6v1.6h-1.6zM283.3 774.3h1.6v1.6h-1.6zM300 774.3h1.6v1.6h-1.6zM316.6 774.3h1.6v1.6h-1.6zM333.3 774.3h1.6v1.6h-1.6zM349.9 774.3h1.6v1.6h-1.6zM366.6 774.3h1.6v1.6h-1.6zM383.2 774.3h1.6v1.6h-1.6zM399.9 774.3h1.6v1.6h-1.6zM416.5 774.3h1.6v1.6h-1.6zM433.2 774.3h1.6v1.6h-1.6zM449.8 774.3h1.6v1.6h-1.6zM466.5 774.3h1.6v1.6h-1.6zM483.1 774.3h1.6v1.6h-1.6zM499.8 774.3h1.6v1.6h-1.6zM516.5 774.3h1.6v1.6h-1.6zM533.1 774.3h1.6v1.6h-1.6zM549.8 774.3h1.6v1.6h-1.6zM566.4 774.3h1.6v1.6h-1.6zM583.1 774.3h1.6v1.6h-1.6zM599.7 774.3h1.6v1.6h-1.6zM616.4 774.3h1.6v1.6h-1.6zM633 774.3h1.6v1.6h-1.6zM649.6 774.3h1.6v1.6h-1.6zM666.3 774.3h1.6v1.6h-1.6zM683 774.3h1.6v1.6h-1.6zM699.6 774.3h1.6v1.6h-1.6zM716.2 774.3h1.6v1.6h-1.6zM732.9 774.3h1.6v1.6h-1.6zM749.6 774.3h1.6v1.6h-1.6zM766.2 774.3h1.6v1.6h-1.6zM782.9 774.3h1.6v1.6h-1.6zM799.5 774.3h1.6v1.6h-1.6zM816.1 774.3h1.6v1.6h-1.6zM832.8 774.3h1.6v1.6h-1.6zM849.5 774.3h1.6v1.6h-1.6zM50.2 885.1h1.6v1.6h-1.6zM66.9 885.1h1.6v1.6h-1.6zM83.5 885.1h1.6v1.6h-1.6zM100.2 885.1h1.6v1.6h-1.6zM116.9 885.1h1.6v1.6h-1.6zM133.5 885.1h1.6v1.6h-1.6zM150.1 885.1h1.6v1.6h-1.6zM166.8 885.1h1.6v1.6h-1.6zM183.4 885.1h1.6v1.6h-1.6zM200.1 885.1h1.6v1.6h-1.6zM216.8 885.1h1.6v1.6h-1.6zM233.4 885.1h1.6v1.6h-1.6zM250 885.1h1.6v1.6h-1.6zM266.7 885.1h1.6v1.6h-1.6zM283.3 885.1h1.6v1.6h-1.6zM300 885.1h1.6v1.6h-1.6zM316.6 885.1h1.6v1.6h-1.6zM333.3 885.1h1.6v1.6h-1.6zM349.9 885.1h1.6v1.6h-1.6zM366.6 885.1h1.6v1.6h-1.6zM383.2 885.1h1.6v1.6h-1.6zM399.9 885.1h1.6v1.6h-1.6zM416.5 885.1h1.6v1.6h-1.6zM433.2 885.1h1.6v1.6h-1.6zM449.8 885.1h1.6v1.6h-1.6zM466.5 885.1h1.6v1.6h-1.6zM483.1 885.1h1.6v1.6h-1.6zM499.8 885.1h1.6v1.6h-1.6zM516.5 885.1h1.6v1.6h-1.6zM533.1 885.1h1.6v1.6h-1.6zM549.8 885.1h1.6v1.6h-1.6zM566.4 885.1h1.6v1.6h-1.6zM583.1 885.1h1.6v1.6h-1.6zM599.7 885.1h1.6v1.6h-1.6zM616.4 885.1h1.6v1.6h-1.6zM633 885.1h1.6v1.6h-1.6zM649.6 885.1h1.6v1.6h-1.6zM666.3 885.1h1.6v1.6h-1.6zM683 885.1h1.6v1.6h-1.6zM699.6 885.1h1.6v1.6h-1.6zM716.2 885.1h1.6v1.6h-1.6zM732.9 885.1h1.6v1.6h-1.6zM749.6 885.1h1.6v1.6h-1.6zM766.2 885.1h1.6v1.6h-1.6zM782.9 885.1h1.6v1.6h-1.6zM799.5 885.1h1.6v1.6h-1.6zM816.1 885.1h1.6v1.6h-1.6zM832.8 885.1h1.6v1.6h-1.6zM849.5 885.1h1.6v1.6h-1.6zM50.2 940.5h1.6v1.6h-1.6zM66.9 940.5h1.6v1.6h-1.6zM83.5 940.5h1.6v1.6h-1.6zM100.2 940.5h1.6v1.6h-1.6zM116.9 940.5h1.6v1.6h-1.6zM133.5 940.5h1.6v1.6h-1.6zM150.1 940.5h1.6v1.6h-1.6zM166.8 940.5h1.6v1.6h-1.6zM183.4 940.5h1.6v1.6h-1.6zM200.1 940.5h1.6v1.6h-1.6zM216.8 940.5h1.6v1.6h-1.6zM233.4 940.5h1.6v1.6h-1.6zM250 940.5h1.6v1.6h-1.6zM266.7 940.5h1.6v1.6h-1.6zM283.3 940.5h1.6v1.6h-1.6zM300 940.5h1.6v1.6h-1.6zM316.6 940.5h1.6v1.6h-1.6zM333.3 940.5h1.6v1.6h-1.6zM349.9 940.5h1.6v1.6h-1.6zM366.6 940.5h1.6v1.6h-1.6zM383.2 940.5h1.6v1.6h-1.6zM399.9 940.5h1.6v1.6h-1.6zM416.5 940.5h1.6v1.6h-1.6zM433.2 940.5h1.6v1.6h-1.6zM449.8 940.5h1.6v1.6h-1.6zM466.5 940.5h1.6v1.6h-1.6zM483.1 940.5h1.6v1.6h-1.6zM499.8 940.5h1.6v1.6h-1.6zM516.5 940.5h1.6v1.6h-1.6zM533.1 940.5h1.6v1.6h-1.6zM549.8 940.5h1.6v1.6h-1.6zM566.4 940.5h1.6v1.6h-1.6zM583.1 940.5h1.6v1.6h-1.6zM599.7 940.5h1.6v1.6h-1.6zM616.4 940.5h1.6v1.6h-1.6zM633 940.5h1.6v1.6h-1.6zM649.6 940.5h1.6v1.6h-1.6zM666.3 940.5h1.6v1.6h-1.6zM683 940.5h1.6v1.6h-1.6zM699.6 940.5h1.6v1.6h-1.6zM716.2 940.5h1.6v1.6h-1.6zM732.9 940.5h1.6v1.6h-1.6zM749.6 940.5h1.6v1.6h-1.6zM766.2 940.5h1.6v1.6h-1.6zM782.9 940.5h1.6v1.6h-1.6zM799.5 940.5h1.6v1.6h-1.6zM816.1 940.5h1.6v1.6h-1.6zM832.8 940.5h1.6v1.6h-1.6zM849.5 940.5h1.6v1.6h-1.6zM50.2 995.9h1.6v1.6h-1.6zM66.9 995.9h1.6v1.6h-1.6zM83.5 995.9h1.6v1.6h-1.6zM100.2 995.9h1.6v1.6h-1.6zM116.9 995.9h1.6v1.6h-1.6zM133.5 995.9h1.6v1.6h-1.6zM150.1 995.9h1.6v1.6h-1.6zM166.8 995.9h1.6v1.6h-1.6zM183.4 995.9h1.6v1.6h-1.6zM200.1 995.9h1.6v1.6h-1.6zM216.8 995.9h1.6v1.6h-1.6zM233.4 995.9h1.6v1.6h-1.6zM250 995.9h1.6v1.6h-1.6zM266.7 995.9h1.6v1.6h-1.6zM283.3 995.9h1.6v1.6h-1.6zM300 995.9h1.6v1.6h-1.6zM316.6 995.9h1.6v1.6h-1.6zM333.3 995.9h1.6v1.6h-1.6zM349.9 995.9h1.6v1.6h-1.6zM366.6 995.9h1.6v1.6h-1.6zM383.2 995.9h1.6v1.6h-1.6zM399.9 995.9h1.6v1.6h-1.6zM416.5 995.9h1.6v1.6h-1.6zM433.2 995.9h1.6v1.6h-1.6zM449.8 995.9h1.6v1.6h-1.6zM466.5 995.9h1.6v1.6h-1.6zM483.1 995.9h1.6v1.6h-1.6zM499.8 995.9h1.6v1.6h-1.6zM516.5 995.9h1.6v1.6h-1.6zM533.1 995.9h1.6v1.6h-1.6zM549.8 995.9h1.6v1.6h-1.6zM566.4 995.9h1.6v1.6h-1.6zM583.1 995.9h1.6v1.6h-1.6zM599.7 995.9h1.6v1.6h-1.6zM616.4 995.9h1.6v1.6h-1.6zM633 995.9h1.6v1.6h-1.6zM649.6 995.9h1.6v1.6h-1.6zM666.3 995.9h1.6v1.6h-1.6zM683 995.9h1.6v1.6h-1.6zM699.6 995.9h1.6v1.6h-1.6zM716.2 995.9h1.6v1.6h-1.6zM732.9 995.9h1.6v1.6h-1.6zM749.6 995.9h1.6v1.6h-1.6zM766.2 995.9h1.6v1.6h-1.6zM782.9 995.9h1.6v1.6h-1.6zM799.5 995.9h1.6v1.6h-1.6zM816.1 995.9h1.6v1.6h-1.6zM832.8 995.9h1.6v1.6h-1.6zM849.5 995.9h1.6v1.6h-1.6z" fill="#8a8a8a"/>
<line x1="450.6" y1="607.7" x2="450.6" y2="1051.8" stroke="#3a3a3a" stroke-width="2"/>
<line x1="33.1" y1="830.5" x2="866.9" y2="830.5" stroke="#3a3a3a" stroke-width="2"/>
<path d="M51 826.5v8M51 607.7v3.5M51 1051.8v-3.5M67.7 826.5v8M67.7 607.7v3.5M67.7 1051.8v-3.5M84.3 826.5v8M84.3 607.7v3.5M84.3 1051.8v-3.5M101 826.5v8M101 607.7v3.5M101 1051.8v-3.5M117.7 826.5v8M117.7 607.7v3.5M117.7 1051.8v-3.5M134.3 826.5v8M134.3 607.7v3.5M134.3 1051.8v-3.5M150.9 826.5v8M150.9 607.7v3.5M150.9 1051.8v-3.5M167.6 826.5v8M167.6 607.7v3.5M167.6 1051.8v-3.5M184.2 826.5v8M184.2 607.7v3.5M184.2 1051.8v-3.5M200.9 826.5v8M200.9 607.7v3.5M200.9 1051.8v-3.5M217.6 826.5v8M217.6 607.7v3.5M217.6 1051.8v-3.5M234.2 826.5v8M234.2 607.7v3.5M234.2 1051.8v-3.5M250.8 826.5v8M250.8 607.7v3.5M250.8 1051.8v-3.5M267.5 826.5v8M267.5 607.7v3.5M267.5 1051.8v-3.5M284.1 826.5v8M284.1 607.7v3.5M284.1 1051.8v-3.5M300.8 826.5v8M300.8 607.7v3.5M300.8 1051.8v-3.5M317.4 826.5v8M317.4 607.7v3.5M317.4 1051.8v-3.5M334.1 826.5v8M334.1 607.7v3.5M334.1 1051.8v-3.5M350.8 826.5v8M350.8 607.7v3.5M350.8 1051.8v-3.5M367.4 826.5v8M367.4 607.7v3.5M367.4 1051.8v-3.5M384 826.5v8M384 607.7v3.5M384 1051.8v-3.5M400.7 826.5v8M400.7 607.7v3.5M400.7 1051.8v-3.5M417.3 826.5v8M417.3 607.7v3.5M417.3 1051.8v-3.5M434 826.5v8M434 607.7v3.5M434 1051.8v-3.5M450.6 826.5v8M450.6 607.7v3.5M450.6 1051.8v-3.5M467.3 826.5v8M467.3 607.7v3.5M467.3 1051.8v-3.5M483.9 826.5v8M483.9 607.7v3.5M483.9 1051.8v-3.5M500.6 826.5v8M500.6 607.7v3.5M500.6 1051.8v-3.5M517.2 826.5v8M517.2 607.7v3.5M517.2 1051.8v-3.5M533.9 826.5v8M533.9 607.7v3.5M533.9 1051.8v-3.5M550.5 826.5v8M550.5 607.7v3.5M550.5 1051.8v-3.5M567.2 826.5v8M567.2 607.7v3.5M567.2 1051.8v-3.5M583.9 826.5v8M583.9 607.7v3.5M583.9 1051.8v-3.5M600.5 826.5v8M600.5 607.7v3.5M600.5 1051.8v-3.5M617.1 826.5v8M617.1 607.7v3.5M617.1 1051.8v-3.5M633.8 826.5v8M633.8 607.7v3.5M633.8 1051.8v-3.5M650.4 826.5v8M650.4 607.7v3.5M650.4 1051.8v-3.5M667.1 826.5v8M667.1 607.7v3.5M667.1 1051.8v-3.5M683.8 826.5v8M683.8 607.7v3.5M683.8 1051.8v-3.5M700.4 826.5v8M700.4 607.7v3.5M700.4 1051.8v-3.5M717 826.5v8M717 607.7v3.5M717 1051.8v-3.5M733.7 826.5v8M733.7 607.7v3.5M733.7 1051.8v-3.5M750.4 826.5v8M750.4 607.7v3.5M750.4 1051.8v-3.5M767 826.5v8M767 607.7v3.5M767 1051.8v-3.5M783.6 826.5v8M783.6 607.7v3.5M783.6 1051.8v-3.5M800.3 826.5v8M800.3 607.7v3.5M800.3 1051.8v-3.5M816.9 826.5v8M816.9 607.7v3.5M816.9 1051.8v-3.5M833.6 826.5v8M833.6 607.7v3.5M833.6 1051.8v-3.5M850.2 826.5v8M850.2 607.7v3.5M850.2 1051.8v-3.5M446.6 620h8M33.1 620h3.5M866.9 620h-3.5M446.6 631.1h8M33.1 631.1h3.5M866.9 631.1h-3.5M446.6 642.1h8M33.1 642.1h3.5M866.9 642.1h-3.5M446.6 653.2h8M33.1 653.2h3.5M866.9 653.2h-3.5M446.6 664.3h8M33.1 664.3h3.5M866.9 664.3h-3.5M446.6 675.4h8M33.1 675.4h3.5M866.9 675.4h-3.5M446.6 686.5h8M33.1 686.5h3.5M866.9 686.5h-3.5M446.6 697.5h8M33.1 697.5h3.5M866.9 697.5h-3.5M446.6 708.6h8M33.1 708.6h3.5M866.9 708.6h-3.5M446.6 719.7h8M33.1 719.7h3.5M866.9 719.7h-3.5M446.6 730.8h8M33.1 730.8h3.5M866.9 730.8h-3.5M446.6 741.9h8M33.1 741.9h3.5M866.9 741.9h-3.5M446.6 752.9h8M33.1 752.9h3.5M866.9 752.9h-3.5M446.6 764h8M33.1 764h3.5M866.9 764h-3.5M446.6 775.1h8M33.1 775.1h3.5M866.9 775.1h-3.5M446.6 786.2h8M33.1 786.2h3.5M866.9 786.2h-3.5M446.6 797.3h8M33.1 797.3h3.5M866.9 797.3h-3.5M446.6 808.3h8M33.1 808.3h3.5M866.9 808.3h-3.5M446.6 819.4h8M33.1 819.4h3.5M866.9 819.4h-3.5M446.6 830.5h8M33.1 830.5h3.5M866.9 830.5h-3.5M446.6 841.6h8M33.1 841.6h3.5M866.9 841.6h-3.5M446.6 852.7h8M33.1 852.7h3.5M866.9 852.7h-3.5M446.6 863.7h8M33.1 863.7h3.5M866.9 863.7h-3.5M446.6 874.8h8M33.1 874.8h3.5M866.9 874.8h-3.5M446.6 885.9h8M33.1 885.9h3.5M866.9 885.9h-3.5M446.6 897h8M33.1 897h3.5M866.9 897h-3.5M446.6 908.1h8M33.1 908.1h3.5M866.9 908.1h-3.5M446.6 919.1h8M33.1 919.1h3.5M866.9 919.1h-3.5M446.6 930.2h8M33.1 930.2h3.5M866.9 930.2h-3.5M446.6 941.3h8M33.1 941.3h3.5M866.9 941.3h-3.5M446.6 952.4h8M33.1 952.4h3.5M866.9 952.4h-3.5M446.6 963.5h8M33.1 963.5h3.5M866.9 963.5h-3.5M446.6 974.5h8M33.1 974.5h3.5M866.9 974.5h-3.5M446.6 985.6h8M33.1 985.6h3.5M866.9 985.6h-3.5M446.6 996.7h8M33.1 996.7h3.5M866.9 996.7h-3.5M446.6 1007.8h8M33.1 1007.8h3.5M866.9 1007.8h-3.5M446.6 1018.9h8M33.1 1018.9h3.5M866.9 1018.9h-3.5M446.6 1029.9h8M33.1 1029.9h3.5M866.9 1029.9h-3.5M446.6 1041h8M33.1 1041h3.5M866.9 1041h-3.5" stroke="#8a8a8a" stroke-width="1" fill="none"/>
<path d="M49.8 829h2.4v3h-2.4zM66.5 829h2.4v3h-2.4zM83.1 829h2.4v3h-2.4zM99.8 829h2.4v3h-2.4zM116.5 829h2.4v3h-2.4zM133.1 829h2.4v3h-2.4zM149.8 829h2.4v3h-2.4zM166.4 829h2.4v3h-2.4zM183.1 829h2.4v3h-2.4zM199.7 829h2.4v3h-2.4zM216.4 829h2.4v3h-2.4zM233 829h2.4v3h-2.4zM249.7 829h2.4v3h-2.4zM266.3 829h2.4v3h-2.4zM282.9 829h2.4v3h-2.4zM299.6 829h2.4v3h-2.4zM316.2 829h2.4v3h-2.4zM332.9 829h2.4v3h-2.4zM349.6 829h2.4v3h-2.4zM366.2 829h2.4v3h-2.4zM382.8 829h2.4v3h-2.4zM399.5 829h2.4v3h-2.4zM416.1 829h2.4v3h-2.4zM432.8 829h2.4v3h-2.4zM449.4 829h2.4v3h-2.4zM466.1 829h2.4v3h-2.4zM482.8 829h2.4v3h-2.4zM499.4 829h2.4v3h-2.4zM516 829h2.4v3h-2.4zM532.7 829h2.4v3h-2.4zM549.3 829h2.4v3h-2.4zM566 829h2.4v3h-2.4zM582.6 829h2.4v3h-2.4zM599.3 829h2.4v3h-2.4zM615.9 829h2.4v3h-2.4zM632.6 829h2.4v3h-2.4zM649.2 829h2.4v3h-2.4zM665.9 829h2.4v3h-2.4zM682.5 829h2.4v3h-2.4zM699.2 829h2.4v3h-2.4zM715.8 829h2.4v3h-2.4zM732.5 829h2.4v3h-2.4zM749.1 829h2.4v3h-2.4zM765.8 829h2.4v3h-2.4zM782.4 829h2.4v3h-2.4zM799.1 829h2.4v3h-2.4zM815.7 829h2.4v3h-2.4zM832.4 829h2.4v3h-2.4zM849 829h2.4v3h-2.4zM449.1 618.8h3v2.4h-3zM449.1 629.9h3v2.4h-3zM449.1 640.9h3v2.4h-3zM449.1 652h3v2.4h-3zM449.1 663.1h3v2.4h-3zM449.1 674.2h3v2.4h-3zM449.1 685.3h3v2.4h-3zM449.1 696.3h3v2.4h-3zM449.1 707.4h3v2.4h-3zM449.1 718.5h3v2.4h-3zM449.1 729.6h3v2.4h-3zM449.1 740.7h3v2.4h-3zM449.1 751.7h3v2.4h-3zM449.1 762.8h3v2.4h-3zM449.1 773.9h3v2.4h-3zM449.1 785h3v2.4h-3zM449.1 796.1h3v2.4h-3zM449.1 807.1h3v2.4h-3zM449.1 818.2h3v2.4h-3zM449.1 829.3h3v2.4h-3zM449.1 840.4h3v2.4h-3zM449.1 851.5h3v2.4h-3zM449.1 862.5h3v2.4h-3zM449.1 873.6h3v2.4h-3zM449.1 884.7h3v2.4h-3zM449.1 895.8h3v2.4h-3zM449.1 906.9h3v2.4h-3zM449.1 917.9h3v2.4h-3zM449.1 929h3v2.4h-3zM449.1 940.1h3v2.4h-3zM449.1 951.2h3v2.4h-3zM449.1 962.3h3v2.4h-3zM449.1 973.3h3v2.4h-3zM449.1 984.4h3v2.4h-3zM449.1 995.5h3v2.4h-3zM449.1 1006.6h3v2.4h-3zM449.1 1017.7h3v2.4h-3zM449.1 1028.7h3v2.4h-3zM449.1 1039.8h3v2.4h-3z" fill="#222"/>
<line x1="10" y1="589.5" x2="897" y2="589.5" stroke="#d4d4d4" stroke-width="1"/>
<text x="10.4" y="605.6" font-family="'Liberation Serif', serif" font-size="21.5" font-weight="bold" fill="#111" stroke="#111" stroke-width="0.5">Tek</text>
<text x="48.6" y="603.4" font-family="'Liberation Sans', sans-serif" font-size="17" font-weight="normal" fill="#222" textLength="40.5" lengthAdjust="spacing" stroke="#222" stroke-width="0.3">Stop</text>
<line x1="269.3" y1="597.9" x2="633.3" y2="597.8" stroke="#66e6e6" stroke-width="2"/>
<path d="M446 589.4h9l-4.5 5z" fill="#ff8c0a"/>
<rect x="446" y="594.9" width="9" height="12" rx="1.5" fill="#ff8c0a"/>
<path d="M448 596.9h5M450.5 596.9v8" stroke="#fff" stroke-width="1.4" fill="none"/>
<path d="M444.5 607.4h12l-6 7z" fill="#ff8c0a"/>
<path d="M443.5 616.9q0-1.5 1.5-1.5h11q1.5 0 1.5 1.5v11.5l-7 4l-7-4z" fill="#ff8c0a"/>
<path d="M446.5 618.9h8M450.5 618.9v10" stroke="#fff" stroke-width="2" fill="none"/>
<path d="M11.3 728.5V712.1" stroke="#2020e0" stroke-width="1.4" fill="none"/>
<path d="M11.3 712.1h13l7.2 8.2l-7.2 8.2" stroke="#d6d66a" stroke-width="1.4" fill="none"/>
<path d="M11.3 728.5h13l2-2.3" stroke="#3030e8" stroke-width="1.4" fill="none"/>
<text x="15.2" y="726.3" font-family="'Liberation Sans', sans-serif" font-size="16" font-weight="normal" fill="#1515f0" stroke="#1515f0" stroke-width="0.6">1</text>
<path d="M10.6 931.3h13.5l7.6 8.6l-7.6 8.6h-13.5z" fill="#10dede"/>
<text x="14.3" y="946.1" font-family="'Liberation Sans', sans-serif" font-size="16" font-weight="bold" fill="#fff">2</text>
<polyline points="34.3,706.8 34.5,706.2 34.8,707.4 35,711.1 35.3,705.6 35.5,696.5 35.8,705.7 36,700.9 36.3,701.3 36.5,696.6 36.8,701 37,700.6 37.3,694.6 37.5,701.4 37.8,701.3 38,695.1 38.3,697 38.5,695.8 38.8,696 39,695.2 39.3,700.5 39.5,694.4 39.8,694.5 40,699.3 40.3,689 40.5,689.3 40.8,684.1 41,689.7 41.3,690.4 41.5,683.8 41.8,689.6 42,689.3 42.3,687 42.5,688.7 42.8,688.4 43,688.8 43.3,683.5 43.5,684.1 43.8,689.7 44,689.8 44.3,685.9 44.5,688.7 44.8,684.9 45,688.9 45.3,689.6 45.5,678.3 45.8,676.6 46,679.3 46.3,678.5 46.5,672.9 46.8,678.5 47,677.1 47.3,672.6 47.5,673.5 47.8,673.1 48,673.9 48.3,679.1 48.5,673.3 48.8,679.3 49,673.5 49.3,677.6 49.5,673.5 49.8,672.8 50,679.4 50.3,677.9 50.5,678.6 50.8,678.2 51,679 51.3,678.6 51.5,673.1 51.8,668 52,667.3 52.3,661.8 52.5,661.5 52.8,666.1 53,667.8 53.3,661.7 53.5,661.8 53.8,662.1 54,668.1 54.3,668.1 54.5,664.2 54.8,663.8 55,662.3 55.3,663.2 55.5,666.7 55.8,668.3 56,668.1 56.3,666.3 56.5,663.8 56.8,667.6 57,663.6 57.3,667.8 57.5,668.2 57.8,666.5 58,668 58.3,667.8 58.5,662.5 58.8,668 59,661.6 59.3,651.5 59.5,661.8 59.8,651.6 60,654.9 60.3,653.2 60.5,655.5 60.8,652.5 61,651.9 61.3,652.1 61.5,654.7 61.8,652.1 62,656 62.3,654.7 62.5,651.9 62.8,655.9 63,652.9 63.3,653.1 63.5,655.7 63.8,656.1 64,651.8 64.3,654.7 64.5,653.4 64.8,656.2 65,652.4 65.3,655.8 65.5,652.8 65.8,656.1 66,651.6 66.3,652.1 66.5,654.3 66.8,655.3 67,656.3 67.3,654.3 67.5,651.7 67.8,655 68,654.7 68.3,653 68.5,653.5 68.8,655.7 69,655.9 69.3,651.8 69.5,651.5 69.8,652.2 70,651.6 70.3,655.9 70.5,655.3 70.8,655.5 71,655.4 71.3,653.2 71.5,655.7 71.8,655.6 72,652.3 72.3,655.5 72.5,652.7 72.8,652.7 73,655.8 73.3,651.7 73.5,656.1 73.8,654.3 74,654.7 74.3,653.1 74.5,652.2 74.8,655 75,656.2 75.3,656 75.5,655 75.8,655.7 76,656.1 76.3,656.1 76.5,655.3 76.8,656.3 77,651.7 77.3,652.5 77.5,651.6 77.8,654.2 78,652.5 78.3,652.7 78.5,650.1 78.8,655.6 79,652.2 79.3,652 79.5,654.6 79.8,651.9 80,655.5 80.3,656.1 80.5,655.7 80.8,666.4 81,655.5 81.3,652.7 81.5,662.6 81.8,661.9 82,668.3 82.3,661.6 82.5,667.3 82.8,663.4 83,667.4 83.3,661.9 83.5,667.3 83.8,663.8 84,663.3 84.3,668.4 84.5,668.3 84.8,667.4 85,666.8 85.3,667.9 85.5,663.6 85.8,663.5 86,668.4 86.3,663.1 86.5,662.6 86.8,667.2 87,665.6 87.3,661.5 87.5,667.4 87.8,665.4 88,661.6 88.3,667 88.5,662 88.8,668 89,667.3 89.3,677.2 89.5,661.7 89.8,662.9 90,674 90.3,662.6 90.5,679.2 90.8,673.9 91,677.9 91.3,677.9 91.5,673.6 91.8,677.6 92,672.9 92.3,672.5 92.5,677.7 92.8,674.4 93,672.6 93.3,678.7 93.5,673.9 93.8,675.1 94,679 94.3,674 94.5,673.7 94.8,675.6 95,677.6 95.3,677 95.5,678.5 95.8,689.3 96,690.1 96.3,685 96.5,688.7 96.8,684.7 97,685.5 97.3,689.4 97.5,688.9 97.8,689.4 98,689.8 98.3,690.1 98.5,688.7 98.8,689.9 99,689.3 99.3,683.4 99.5,686 99.8,687.8 100,684.8 100.3,684.6 100.5,687.3 100.8,700 101,688.2 101.3,696.6 101.5,701.8 101.8,695.6 102,699.6 102.3,696.7 102.5,698.5 102.8,695.5 103,700.6 103.3,699 103.5,697 103.8,701.7 104,694.7 104.3,694.6 104.5,697.1 104.8,695.2 105,701.1 105.3,701.4 105.5,695.3 105.8,711.7 106,706.6 106.3,706.4 106.5,705.5 106.8,712.1 107,711.4 107.3,707.2 107.5,710.7 107.8,711.9 108,706.3 108.3,705.7 108.5,711.6 108.8,711.2 109,711.4 109.3,711.8 109.5,711 109.8,707.7 110,706.2 110.3,722.3 110.5,722 110.8,717.1 111,722.6 111.3,723.4 111.5,723.3 111.8,722.2 112,722.8 112.3,717.9 112.5,721.4 112.8,722.5 113,722.8 113.3,718.8 113.5,722.1 113.8,721.6 114,717.5 114.3,729.1 114.5,718.2 114.8,734.2 115,729.2 115.3,734.1 115.5,732.7 115.8,733.9 116,734.4 116.3,733.6 116.5,726.3 116.8,732.7 117,732.5 117.3,728.5 117.5,733.8 117.8,729.9 118,730.6 118.3,733.8 118.5,732.7 118.8,744.8 119,744.4 119.3,730.2 119.5,745.3 119.8,744.3 120,740.5 120.3,739.3 120.5,739.7 120.8,744.5 121,744.7 121.3,744.7 121.5,744.4 121.8,739.6 122,740.2 122.3,739.4 122.5,740.8 122.8,745.2 123,745.1 123.3,740 123.5,740.7 123.8,749.9 124,750.1 124.3,750.4 124.5,750.6 124.8,755.2 125,754.8 125.3,755.9 125.5,755.9 125.8,749.9 126,750.2 126.3,750.1 126.5,756.2 126.8,756.1 127,755 127.3,751.6 127.5,750.1 127.8,755.3 128.1,755.6 128.3,760.6 128.6,749.4 128.8,751.7 129.1,755.5 129.3,762.5 129.6,765.9 129.8,766.5 130.1,765.5 130.3,760.6 130.6,765.6 130.8,767 131.1,764 131.3,760.5 131.6,760.8 131.8,767.3 132.1,761.5 132.3,765.7 132.6,761.5 132.8,762.8 133.1,767 133.3,761.2 133.6,766 133.8,760.8 134.1,769.2 134.3,761.5 134.6,776.7 134.8,777 135.1,771.5 135.3,775.3 135.6,771.4 135.8,771.9 136.1,777.5 136.3,771.4 136.6,772.1 136.8,778 137.1,773.7 137.3,771.7 137.6,771.8 137.8,772.4 138.1,777.9 138.3,771.7 138.6,773.3 138.8,777.2 139.1,772.1 139.3,775.9 139.6,777.2 139.8,776.8 140.1,773 140.3,777.6 140.6,778.1 140.8,772.2 141.1,777.4 141.3,777.5 141.6,771.7 141.8,771.7 142.1,773.3 142.3,786 142.6,784.2 142.8,783.7 143.1,787.2 143.3,778 143.6,787.3 143.8,785.3 144.1,782.2 144.3,783.6 144.6,785.6 144.8,786.8 145.1,787.8 145.3,786.5 145.6,783.5 145.8,785.7 146.1,788 146.3,783.9 146.6,788.3 146.8,788.2 147.1,788.3 147.3,787.4 147.6,784.4 147.8,784.2 148.1,788.3 148.3,788.2 148.6,788.3 148.8,784.4 149.1,788.1 149.3,787.9 149.6,787.7 149.8,788 150.1,787.9 150.3,784.4 150.6,783.5 150.8,783.9 151.1,783.5 151.3,787.3 151.6,784.7 151.8,788 152.1,784.9 152.3,786.6 152.6,788.2 152.8,784 153.1,787.9 153.3,788.3 153.6,784.6 153.8,787.2 154.1,788.2 154.3,785 154.6,784.8 154.8,784.4 155.1,783.7 155.3,788.1 155.6,784.1 155.8,784.9 156.1,783.6 156.3,784.7 156.6,783.6 156.8,788.2 157.1,784.3 157.3,783.6 157.6,787.9 157.8,784.6 158.1,785 158.3,784.7 158.6,786.7 158.8,786.3 159.1,788.2 159.3,786.3 159.6,787.6 159.8,783.7 160.1,783.5 160.3,786.7 160.6,787.8 160.8,786.4 161.1,787 161.3,787.7 161.6,786.6 161.8,784.4 162.1,787.9 162.3,787.6 162.6,784.9 162.8,784.7 163.1,787.8 163.3,788.3 163.6,786.6 163.8,788.2 164.1,776.7 164.3,784.2 164.6,786.9 164.8,787 165.1,787.9 165.3,783.8 165.6,777.6 165.8,775.7 166.1,772.1 166.3,777.7 166.6,777.4 166.8,771.6 167.1,771.7 167.3,775.2 167.6,772 167.8,774 168.1,773.2 168.3,772.7 168.6,777.7 168.8,776.3 169.1,778.2 169.3,772.9 169.6,772.5 169.8,777.4 170.1,771.6 170.3,773.4 170.6,772 170.8,778 171.1,775.6 171.3,778.4 171.6,778 171.8,771.7 172.1,777.6 172.3,777.9 172.6,761.5 172.8,772.9 173.1,775.1 173.3,776.4 173.6,772.9 173.8,761 174.1,760.8 174.3,762.1 174.6,761.4 174.8,765.8 175.1,760.6 175.3,760.9 175.6,762.1 175.8,763.6 176.1,760.6 176.3,762.4 176.6,761.6 176.8,765.6 177.1,764.1 177.3,766.6 177.6,760.9 177.8,760.5 178.1,762.1 178.3,763.3 178.6,762 178.8,761.4 179.1,767.2 179.3,749.6 179.6,752.5 179.8,755.8 180.1,749.7 180.3,751.5 180.6,755.4 180.8,753.4 181.1,756.1 181.3,750.8 181.6,750.3 181.8,754.8 182.1,755 182.3,750.8 182.6,755.9 182.8,754 183.1,755.3 183.3,754.8 183.6,754.3 183.8,749.7 184.1,753.1 184.3,740 184.6,743.6 184.8,745 185.1,738.7 185.3,740.6 185.6,744.9 185.8,739.4 186.1,744.8 186.3,738.6 186.6,745.2 186.8,745.3 187.1,738.7 187.3,743.9 187.6,744.7 187.8,739.3 188.1,739.5 188.3,744.7 188.6,743.9 188.8,740 189.1,743.1 189.3,728.8 189.6,734 189.8,725.7 190.1,733.5 190.3,728.3 190.6,733 190.8,731.9 191.1,727.9 191.3,728.8 191.6,728.9 191.8,732.4 192.1,733.2 192.3,734.3 192.6,733.4 192.8,728.6 193.1,727.4 193.3,723.1 193.6,734 193.8,722.9 194.1,719.6 194.3,722 194.6,717.9 194.8,716.6 195.1,716.7 195.3,721.6 195.6,719.2 195.8,717.2 196.1,718.9 196.3,717.5 196.6,721.7 196.8,718.5 197.1,716.4 197.3,720.5 197.6,722.8 197.8,712.1 198.1,712.4 198.3,711.5 198.6,708.4 198.8,705.6 199.1,710.6 199.3,710.1 199.6,711.6 199.8,711.3 200.1,706.5 200.3,712.4 200.6,712.3 200.8,707.9 201.1,712.3 201.3,705.6 201.6,707 201.8,705.4 202.1,711.5 202.3,700 202.6,698.5 202.8,695.1 203.1,696.4 203.3,694.9 203.6,700.6 203.8,695 204.1,700.3 204.3,695.3 204.6,695.4 204.8,694.7 205.1,701.3 205.3,696.2 205.6,697.3 205.8,700.4 206.1,700 206.3,700.1 206.6,695.8 206.8,701.3 207.1,685.6 207.3,694.9 207.6,683.8 207.8,688.9 208.1,689.4 208.3,685.1 208.6,690.2 208.8,689.8 209.1,689.3 209.3,689.5 209.6,689.9 209.8,685.5 210.1,685.6 210.3,683.9 210.6,690 210.8,684.6 211.1,690 211.3,688.8 211.6,683.9 211.8,689.7 212.1,677.1 212.3,676.9 212.6,679.2 212.8,672.6 213.1,673.5 213.3,674.6 213.6,673.2 213.8,678.7 214.1,674.2 214.3,673.3 214.6,678.6 214.8,678.8 215.1,674.2 215.3,675.5 215.6,677 215.8,673.8 216.1,672.5 216.3,673.7 216.6,673.4 216.8,672.8 217.1,676.6 217.3,673.8 217.6,673.2 217.8,668.2 218.1,661.7 218.3,661.8 218.6,662.5 218.8,666.7 219.1,667 219.3,667.5 219.6,662.6 219.8,666.8 220.1,662.7 220.3,667.5 220.6,665.2 220.8,666.3 221.1,663.2 221.3,661.7 221.6,662 221.8,662.2 222.1,667.4 222.3,663.7 222.6,666.2 222.8,667.1 223.1,661.4 223.3,662.5 223.6,662.3 223.8,665.6 224.1,661.6 224.3,663.9 224.6,666.5 224.8,667.2 225.1,662.6 225.3,666.2 225.6,662.5 225.8,668 226.1,655.2 226.3,662.6 226.6,665.2 226.8,662.9 227.1,652.7 227.3,652.5 227.6,663.4 227.8,655.9 228.1,655.7 228.3,652.5 228.6,655.5 228.8,655.6 229.1,653 229.3,656.1 229.6,651.7 229.8,655.6 230.1,655.2 230.3,652.8 230.6,652.6 230.8,653.2 231.1,655.8 231.3,651.7 231.6,654 231.8,651.8 232.1,652.4 232.3,653.3 232.6,655.9 232.8,651.6 233.1,656.2 233.3,655 233.6,656.3 233.8,652.1 234.1,652.3 234.3,653.4 234.6,651.7 234.8,652.7 235.1,651.6 235.3,651.7 235.6,654.3 235.8,650 236.1,655.2 236.3,655.3 236.6,651.5 236.8,651.9 237.1,651.8 237.3,655.9 237.6,652.4 237.8,656.2 238.1,656.3 238.3,656.1 238.6,651.5 238.8,651.6 239.1,656.3 239.3,651 239.6,651.6 239.8,655.6 240.1,655.7 240.3,654.9 240.6,654.9 240.8,655.2 241.1,655.4 241.3,652.5 241.6,652.4 241.8,655.5 242.1,655.6 242.3,651.7 242.6,654.8 242.8,652.5 243.1,655.5 243.3,651.6 243.6,654.8 243.8,652.7 244.1,653.6 244.3,652.5 244.6,652.4 244.8,656 245.1,655.3 245.3,652.2 245.6,654.3 245.8,655.2 246.1,655.1 246.3,656.1 246.6,652.6 246.8,652.7 247.1,656.1 247.3,655.5 247.6,655.5 247.8,655 248.1,651.7 248.3,666.1 248.6,655.8 248.8,662.5 249.1,666.7 249.3,661.9 249.6,661.7 249.8,668 250.1,666.9 250.3,667.3 250.6,667.1 250.8,661.9 251.1,666.9 251.3,666.4 251.6,668.1 251.8,663.3 252.1,666.9 252.3,663.8 252.6,668.2 252.8,667.9 253.1,668.3 253.3,666.6 253.6,666.8 253.8,665.3 254.1,668 254.3,662.8 254.6,666.2 254.8,663 255.1,667.8 255.3,662.3 255.6,661.5 255.8,661.8 256.1,674.9 256.3,663.7 256.6,672.7 256.8,662.9 257.1,674.3 257.3,678.9 257.6,674.6 257.8,677.3 258.1,677.1 258.3,678.8 258.6,674.1 258.8,679.2 259.1,679.3 259.3,672.6 259.6,673.1 259.8,678.9 260.1,672.5 260.3,673.3 260.6,677.1 260.8,673.2 261.1,672.5 261.3,674.3 261.6,678.8 261.8,673.3 262.1,672.6 262.3,687.4 262.6,684.5 262.8,690.3 263.1,683.7 263.3,684.9 263.6,683.8 263.8,683.7 264.1,690.3 264.3,683.5 264.6,683.9 264.8,683.6 265.1,688.6 265.3,689.6 265.6,689.8 265.8,683.9 266.1,685 266.3,686 266.6,683.5 266.8,685.6 267.1,689.9 267.3,694.6 267.6,683.8 267.8,698.6 268.1,698.4 268.3,699.8 268.6,700.6 268.8,701.1 269.1,701 269.3,701 269.6,696.5 269.8,699.8 270.1,695.3 270.3,695.3 270.6,701 270.8,695.4 271.1,694.5 271.3,694.7 271.6,697.5 271.8,695.7 272.1,700.7 272.3,705.5 272.6,712.3 272.8,710.5 273.1,705.7 273.3,710.8 273.6,705.6 273.8,705.8 274.1,705.7 274.3,708.5 274.6,706.5 274.8,705.9 275.1,711.3 275.3,706.4 275.6,706.1 275.8,707 276.1,711.8 276.3,705.9 276.6,712.1 276.8,712.2 277.1,723.2 277.3,718.5 277.6,722.5 277.8,716.4 278.1,718.1 278.3,719.1 278.6,717 278.8,722.5 279.1,716.5 279.3,720.3 279.6,723.3 279.8,717.4 280.1,723.1 280.3,717 280.6,722.5 280.8,728 281.1,716.9 281.3,729.4 281.6,733.8 281.8,727.6 282.1,734.3 282.3,732.8 282.6,730 282.8,734.1 283.1,728.9 283.3,727.4 283.6,728.9 283.8,729 284.1,732.1 284.3,727.9 284.6,729.6 284.8,730.2 285.1,732.9 285.3,731.3 285.6,733.7 285.8,740.7 286.1,734 286.3,738.9 286.6,740.1 286.8,739.4 287.1,744.4 287.3,744.7 287.6,745.2 287.8,740.6 288.1,743 288.3,744.7 288.6,743.6 288.8,744.8 289.1,745.1 289.3,740.2 289.6,738.8 289.8,745.3 290.1,749.7 290.3,745.2 290.6,754.9 290.8,754.4 291.1,750.6 291.3,753.6 291.6,753.6 291.8,749.8 292.1,755.2 292.3,750.4 292.6,751.5 292.8,754.4 293.1,751.2 293.3,756.3 293.6,751 293.8,750.1 294.1,749.5 294.3,759.1 294.6,749.6 294.8,756.1 295.1,750.8 295.3,756 295.6,765.9 295.8,762.4 296.1,760.5 296.3,760.6 296.6,761.4 296.8,760.5 297.1,766.7 297.3,761.4 297.6,761.8 297.8,766 298.1,761.5 298.3,762.6 298.6,761.7 298.8,762.6 299.1,767.1 299.3,762.1 299.6,765.3 299.8,766.9 300.1,762.8 300.3,761.2 300.6,762.4 300.8,766.3 301.1,759.9 301.3,778.2 301.6,773.3 301.8,778.2 302.1,778 302.3,773.1 302.6,776.3 302.8,771.6 303.1,776.7 303.3,778.3 303.6,777.2 303.8,777 304.1,778.3 304.3,772.7 304.6,777.2 304.8,773.7 305.1,773.2 305.3,773 305.6,776.7 305.8,773.2 306.1,776.3 306.3,777.9 306.6,772 306.8,777.7 307.1,771.5 307.3,771.7 307.6,771.5 307.8,771.9 308.1,771.7 308.3,776.7 308.6,773.3 308.8,771.5 309.1,777.9 309.3,783.8 309.6,773 309.8,788 310.1,784.4 310.3,776 310.6,776.6 310.8,784.3 311.1,786.8 311.3,783.6 311.6,783.5 311.8,784.2 312.1,783.7 312.3,784.2 312.6,788.2 312.8,787.3 313.1,787.1 313.3,788.1 313.6,784.1 313.8,784.1 314.1,787.6 314.3,785.3 314.6,784.2 314.8,784.1 315.1,787.6 315.3,788.3 315.6,783.8 315.8,783.6 316.1,787.4 316.3,783.7 316.6,788.2 316.8,787.5 317.1,784.6 317.3,787.6 317.6,787.7 317.8,784.7 318.1,787.7 318.3,784.3 318.6,783.5 318.8,788.3 319.1,783.9 319.3,786.7 319.6,784 319.8,784.7 320.1,785.2 320.3,784.2 320.6,786.3 320.8,788.3 321.1,784.4 321.3,784.5 321.6,784.1 321.8,786.8 322.1,784.8 322.3,787.3 322.6,784.5 322.8,787.8 323.1,783.8 323.3,784.8 323.6,786.3 323.8,786.8 324.1,788.2 324.3,784.1 324.6,788 324.8,784.8 325.1,783.6 325.3,787.4 325.6,787.3 325.8,788.2 326.1,783.6 326.3,787.2 326.6,787.2 326.8,787.4 327.1,785 327.3,783.8 327.6,783.6 327.8,787.5 328.1,783.5 328.3,786.5 328.6,787.8 328.8,786.4 329.1,783.5 329.3,787.2 329.6,784 329.8,785.1 330.1,783.8 330.3,783.9 330.6,785 330.8,783.7 331.1,782.8 331.3,784.3 331.6,787.7 331.8,777.2 332.1,771.6 332.3,777.2 332.6,776.3 332.8,776.8 333.1,776.2 333.3,772.4 333.6,779 333.8,772.5 334.1,777.2 334.3,777.6 334.6,778.2 334.8,771.4 335.1,776.6 335.3,777.7 335.6,772.3 335.8,777 336.1,778.4 336.3,778.9 336.6,776.6 336.8,773.6 337.1,776.3 337.3,772.9 337.6,776.1 337.8,771.9 338.1,777.8 338.3,773.5 338.6,774.5 338.8,777 339.1,777.3 339.3,773.8 339.6,778 339.8,777.9 340.1,761 340.3,760.8 340.6,761.7 340.8,765.7 341.1,761.3 341.3,761.1 341.6,762.3 341.8,765.2 342.1,767.2 342.3,761.8 342.6,763.6 342.8,762.2 343.1,766.8 343.3,762.2 343.6,760.6 343.8,761.1 344.1,764.5 344.3,766.8 344.6,762.4 344.8,762.6 345.1,760.4 345.3,760.6 345.6,754 345.8,751.5 346.1,754.6 346.3,749.5 346.6,756 346.8,752 347.1,749.8 347.3,750.1 347.6,752.5 347.8,750.6 348.1,755.1 348.3,756.1 348.6,750.1 348.8,749.7 349.1,750.9 349.3,755.1 349.6,750.7 349.8,750.9 350.1,749.4 350.3,754.3 350.6,750.3 350.8,740.6 351.1,749.5 351.3,745.2 351.6,740.2 351.8,744.6 352.1,745.4 352.3,742.7 352.6,745.3 352.8,739.3 353.1,739.3 353.3,743.5 353.6,741.4 353.8,745.3 354.1,739.4 354.3,738.9 354.6,744.7 354.8,743.6 355.1,739.1 355.3,733.4 355.6,739.3 355.8,732.8 356.1,727.7 356.3,728.8 356.6,727.6 356.8,734.2 357.1,731.5 357.3,733.4 357.6,733.6 357.8,733.2 358.1,733.9 358.3,727.8 358.6,728.8 358.8,729 359.1,728.5 359.3,734.1 359.6,733.6 359.8,734 360.1,718.1 360.3,717.3 360.6,721 360.8,717.7 361.1,716.5 361.3,719.1 361.6,718.4 361.8,717.7 362.1,718 362.3,723.3 362.6,717.1 362.8,716.7 363.1,717 363.3,724.5 363.6,722.5 363.8,722.4 364.1,718 364.3,716.8 364.6,718.2 364.8,722 365.1,723 365.3,717 365.6,720.1 365.8,718.8 366.1,717.8 366.3,716.5 366.6,721.9 366.8,717.6 367.1,723 367.3,722 367.6,706 367.8,716.4 368.1,711.4 368.3,712.2 368.6,710.5 368.8,706.6 369.1,707.1 369.3,707.3 369.6,705.7 369.8,712.3 370.1,712 370.3,710.7 370.6,709.7 370.8,711 371.1,711 371.3,711.6 371.6,711.8 371.8,711.6 372.1,712.1 372.3,710 372.6,707.3 372.8,705.5 373.1,711.7 373.3,712 373.6,710 373.8,706.7 374.1,711.1 374.3,706.6 374.6,706.4 374.8,707 375.1,709.8 375.3,711.7 375.6,711.8 375.8,706 376.1,711.3 376.3,706.6 376.6,711.8 376.8,712 377.1,711.3 377.3,710.6 377.6,709.4 377.8,711.2 378.1,712.2 378.3,707.7 378.6,713.1 378.8,706.9 379.1,698.2 379.3,696 379.6,699.3 379.8,711.1 380.1,697.6 380.3,707.3 380.6,706.3 380.8,699.3 381.1,702.6 381.3,700.3 381.6,696.7 381.8,700.1 382.1,697.3 382.3,699.2 382.6,698.7 382.8,700.1 383.1,696.2 383.3,695.9 383.6,696.4 383.8,696.6 384.1,696.5 384.3,696.5 384.6,698.8 384.8,699.8 385.1,697.2 385.3,696.1 385.6,700.2 385.8,697.8 386.1,699 386.3,699.7 386.6,699.3 386.8,695.6 387.1,695.5 387.3,696.9 387.6,699.9 387.8,696.7 388.1,699.8 388.3,696.3 388.6,699.1 388.8,700.1 389.1,699.3 389.3,695.5 389.6,695.9 389.8,696.4 390.1,696.2 390.3,697.1 390.6,696.9 390.8,695.6 391.1,699.3 391.3,696 391.6,695.5 391.8,696.2 392.1,699.8 392.3,695.8 392.6,696.6 392.8,700.3 393.1,695.6 393.3,696 393.6,695.5 393.8,695.7 394.1,699.5 394.3,696.5 394.6,695.7 394.8,699.8 395.1,696.3 395.3,696.2 395.6,696.2 395.8,697.6 396.1,696.5 396.3,696.4 396.6,696 396.8,699.5 397.1,696.4 397.3,694 397.6,699.6 397.8,700.3 398.1,697 398.3,696.2 398.6,700.1 398.8,700 399.1,695.7 399.3,702.3 399.6,696.4 399.8,696.3 400.1,699.2 400.3,695.8 400.6,696 400.8,696.5 401.1,699.2 401.3,698.9 401.6,695.8 401.8,696.8 402.1,700.1 402.3,699.4 402.6,699.5 402.8,696.5 403.1,699.9 403.3,695.5 403.6,700.3 403.8,699.8 404.1,696.1 404.3,699.2 404.6,695.5 404.8,697.2 405.1,698.5 405.3,696.4 405.6,695.9 405.8,700.1 406.1,699.7 406.3,698.5 406.6,696.5 406.8,695.6 407.1,699.9 407.3,697.1 407.6,695.6 407.8,696.9 408.1,699.5 408.3,698.7 408.6,695.7 408.8,699.2 409.1,696.1 409.3,699.2 409.6,700.2 409.8,698.1 410.1,699 410.3,696.4 410.6,698.4 410.8,698.8 411.1,698.8 411.3,699.1 411.6,695.7 411.8,699.2 412.1,698.9 412.3,700.3 412.6,699 412.8,699.8 413.1,699.9 413.3,695.5 413.6,696.7 413.8,695.8 414.1,699.3 414.3,697.1 414.6,700.2 414.8,699.4 415.1,698.3 415.3,695.9 415.6,696.5 415.8,700.3 416.1,700.3 416.3,699.2 416.6,696 416.8,695.5 417.1,696.2 417.3,695.5 417.6,698.9 417.8,695.9 418.1,696.8 418.3,696.3 418.6,699.6 418.8,699 419.1,695.8 419.3,696.7 419.6,699.8 419.8,696.7 420.1,695.5 420.3,695.8 420.6,696.2 420.8,701.3 421.1,696.1 421.3,699.3 421.6,698.9 421.8,700.3 422.1,699.8 422.3,697.6 422.6,699.4 422.8,699.8 423.1,699.6 423.3,697.3 423.6,698.8 423.8,698.5 424.1,696.5 424.3,699.5 424.6,695.8 424.8,695.6 425.1,699.8 425.3,696.4 425.6,699 425.8,695.9 426.1,700 426.3,700.2 426.6,699.3 426.8,698.4 427.1,709.8 427.3,700 427.6,700 427.8,699.3 428.1,712.3 428.3,700 428.6,710.3 428.8,695.6 429.1,710.9 429.3,707.8 429.6,707.2 429.8,706.2 430.1,711.4 430.3,706.3 430.6,710.4 430.8,711.7 431.1,710 431.3,711.3 431.6,707.3 431.8,711.8 432.1,705.5 432.3,711.9 432.6,706.3 432.8,705.5 433.1,710.9 433.3,705.6 433.6,707.3 433.8,710.1 434.1,705.6 434.3,705.8 434.6,710.9 434.8,707.8 435.1,707.2 435.3,705.8 435.6,712 435.8,707 436.1,706.2 436.3,711.9 436.6,706 436.8,711.8 437.1,711.5 437.3,706.1 437.6,706 437.8,707.5 438.1,706.4 438.3,711.4 438.6,711.7 438.8,710.6 439.1,710.2 439.3,705.8 439.6,721.8 439.8,711.6 440.1,712 440.3,723.1 440.6,719.2 440.8,716.5 441.1,717.5 441.3,719.2 441.6,722.2 441.8,723.3 442.1,717.7 442.3,717.2 442.6,717.3 442.8,722.3 443.1,721.3 443.3,722.3 443.6,723.4 443.8,717.7 444.1,717.2 444.3,722.2 444.6,718.8 444.8,717.9 445.1,718.4 445.3,717 445.6,722.5 445.8,717.8 446.1,724.6 446.3,718.3 446.6,716.7 446.8,717.3 447.1,718.3 447.3,720.6 447.6,717.7 447.8,722.8 448.1,717.2 448.3,718.3 448.6,722.9 448.8,717.1 449.1,722 449.3,717.6 449.6,722.6 449.8,729.2 450.1,721 450.3,733.5 450.6,718.7 450.8,717.3 451.1,730 451.3,719 451.6,716.5 451.8,729.8 452.1,732.2 452.3,728.6 452.6,733.5 452.8,727.6 453.1,733.6 453.3,731.9 453.6,732.3 453.8,733.3 454.1,730.2 454.3,734.1 454.6,727.7 454.8,732.6 455.1,727.7 455.3,734.3 455.6,729.8 455.8,727.9 456.1,729.4 456.3,734.3 456.6,728.3 456.8,732.3 457.1,729.5 457.3,728.6 457.6,732.9 457.8,729.1 458.1,734.3 458.3,732.6 458.6,727.4 458.8,733 459.1,734.2 459.3,727.8 459.6,734 459.8,733.2 460.1,733.2 460.3,733.7 460.6,731.1 460.8,733.2 461.1,727.9 461.3,731.2 461.6,727.7 461.8,729.4 462.1,732 462.3,728.8 462.6,734.2 462.8,732.8 463.1,732.2 463.3,728.7 463.6,733.9 463.8,743 464.1,744.1 464.3,740.4 464.6,740.1 464.8,740.2 465.1,742.3 465.3,743.6 465.6,745.9 465.8,740 466.1,740.2 466.3,740.5 466.6,740.4 466.8,742 467.1,739.6 467.3,743.4 467.6,743.5 467.8,740.4 468.1,744 468.3,742.4 468.6,740.1 468.8,743.4 469.1,744.1 469.3,739.8 469.6,739.5 469.8,743.9 470.1,741.2 470.3,743.8 470.6,742.6 470.8,740.6 471.1,740.2 471.3,740.3 471.6,740.7 471.8,743.2 472.1,742.5 472.3,739.7 472.6,744.1 472.8,740.8 473.1,740 473.3,743.7 473.6,741.4 473.8,743.5 474.1,740.6 474.3,740.4 474.6,740.4 474.8,739.5 475.1,739.7 475.3,743.2 475.6,739.5 475.8,741.1 476.1,742.6 476.3,741.3 476.6,744.1 476.8,744.3 477.1,743.9 477.3,740.3 477.6,740 477.8,740.9 478.1,740.1 478.3,740.6 478.6,740 478.8,740.7 479.1,740.4 479.3,743.1 479.6,739.6 479.8,737.8 480.1,746.8 480.3,743.3 480.6,743.8 480.8,739.7 481.1,742.1 481.3,742.6 481.6,739.7 481.8,739.7 482.1,739.7 482.3,739.9 482.6,739.6 482.8,739.8 483.1,743.9 483.3,743.7 483.6,740.2 483.8,739.5 484.1,743.7 484.3,743.5 484.6,739.9 484.8,740 485.1,740.2 485.3,744.1 485.6,744.2 485.8,743.4 486.1,742.8 486.3,743.6 486.6,740.2 486.8,743.7 487.1,739.5 487.3,740.3 487.6,743.9 487.8,744.1 488.1,742.9 488.3,744.1 488.6,744.1 488.8,742.6 489.1,740 489.3,743.9 489.6,743.5 489.8,740 490.1,740.9 490.3,743.6 490.6,740.6 490.8,739.5 491.1,740.2 491.3,743 491.6,743.6 491.8,741 492.1,742.9 492.3,743.3 492.6,741.3 492.8,743.9 493.1,740.9 493.3,743.9 493.6,743.2 493.8,741.2 494.1,740.3 494.3,739.7 494.6,743 494.8,743.2 495.1,743.4 495.3,740 495.6,743.3 495.8,743.3 496.1,743.2 496.3,743.3 496.6,740.2 496.8,742.7 497.1,739.7 497.3,737.9 497.6,743.5 497.8,739.6 498.1,740 498.3,740.4 498.6,739.9 498.8,743.4 499.1,740 499.3,744.3 499.6,739.5 499.8,742.9 500.1,742.9 500.3,742.7 500.6,740.9 500.8,740.6 501.1,743.5 501.3,739.8 501.6,743.6 501.8,745.7 502.1,739.7 502.3,743.3 502.6,740.6 502.8,740.2 503.1,743.9 503.3,743.9 503.6,740.1 503.8,744 504.1,744.1 504.3,743.3 504.6,744.1 504.8,741.3 505.1,744.2 505.3,743.2 505.6,740.4 505.8,740.5 506.1,743.3 506.3,744.1 506.6,740.7 506.8,739.8 507.1,742.7 507.3,740.2 507.6,740.5 507.8,743.6 508.1,740.4 508.3,740.1 508.6,743.3 508.8,743.7 509.1,742.8 509.3,744.1 509.6,743 509.8,742.5 510.1,743.6 510.3,743.7 510.6,734.1 510.8,740.1 511.1,728 511.3,732.9 511.6,740 511.8,741.2 512,732.6 512.3,734.3 512.5,728.8 512.8,729 513,733.2 513.3,733.2 513.5,734.2 513.8,734.1 514,732.9 514.3,728.8 514.5,728.3 514.8,730.9 515,727.4 515.3,733.4 515.5,733.7 515.8,733.6 516,728.6 516.3,727.5 516.5,733.2 516.8,734.4 517,728.3 517.3,733.4 517.5,733.8 517.8,733.9 518,734 518.3,729.4 518.5,727.7 518.8,733.2 519,727.9 519.3,732.6 519.5,727.9 519.8,728.3 520,732.3 520.3,733.8 520.5,734.1 520.8,727.8 521,732 521.3,728.7 521.5,732.2 521.8,728.1 522,732.1 522.3,727.9 522.5,733.7 522.8,727.6 523,720.7 523.3,722.8 523.5,716.4 523.8,716.7 524,728.6 524.3,716.9 524.5,716.7 524.8,722.4 525,716.4 525.3,722.1 525.5,723.2 525.8,718.8 526,723.2 526.3,722 526.5,720.2 526.8,718.1 527,716.6 527.3,716.9 527.5,721.7 527.8,721.8 528,723.1 528.3,722.6 528.5,722.8 528.8,716.8 529,723.1 529.3,720.9 529.5,722.3 529.8,717.6 530,717.6 530.3,718.8 530.5,718.4 530.8,718.3 531,718.1 531.3,722.9 531.5,721.9 531.8,718.7 532,716.4 532.3,716.7 532.5,722.6 532.8,717 533,722.2 533.3,723 533.5,722.4 533.8,723.4 534,709.9 534.3,707.2 534.5,711.5 534.8,710.7 535,710.3 535.3,711.4 535.5,711 535.8,712.1 536,707 536.3,706.3 536.5,707.8 536.8,705.8 537,709.5 537.3,706.4 537.5,710.9 537.8,705.6 538,707.9 538.3,711.6 538.5,706.6 538.8,710.8 539,710.2 539.3,710.2 539.5,706.8 539.8,705.8 540,709.4 540.3,705.6 540.5,707.3 540.8,712.1 541,705.4 541.3,712.2 541.5,706.8 541.8,707.7 542,709.7 542.3,706.3 542.5,705.6 542.8,711.2 543,707.3 543.3,706.3 543.5,706.2 543.8,710.7 544,706.2 544.3,710.3 544.5,710.9 544.8,708.2 545,706.4 545.3,707.4 545.5,706.4 545.8,711.5 546,700.3 546.3,697.3 546.5,705.6 546.8,699.7 547,699.5 547.3,700.3 547.5,696.3 547.8,699.2 548,696.7 548.3,695.9 548.5,698.9 548.8,695.6 549,696.7 549.3,699.9 549.5,699 549.8,700 550,698.5 550.3,699.6 550.5,695.5 550.8,700.3 551,695.7 551.3,700.3 551.5,696.7 551.8,696.2 552,695.8 552.3,695.7 552.5,698.3 552.8,696 553,698.8 553.3,696.6 553.5,695.7 553.8,699.3 554,699.2 554.3,696.8 554.5,699.4 554.8,702 555,697.3 555.3,696.4 555.5,696.9 555.8,695.5 556,695.8 556.3,699.3 556.5,698.7 556.8,695.5 557,698.6 557.3,695.5 557.5,700.1 557.8,697.7 558,695.7 558.3,696 558.5,699.3 558.8,699.9 559,696.4 559.3,695.5 559.5,699.4 559.8,699.5 560,700.3 560.3,696.7 560.5,695.5 560.8,695.5 561,699.5 561.3,697.3 561.5,697.3 561.8,698.9 562,697.2 562.3,697.2 562.5,699.5 562.8,699.1 563,700.3 563.3,699.2 563.5,698.5 563.8,698.8 564,700.1 564.3,699.9 564.5,696.4 564.8,700 565,695.6 565.3,693.9 565.5,696.3 565.8,700.1 566,699.7 566.3,695.7 566.5,700.2 566.8,698.1 567,696 567.3,698.4 567.5,700.2 567.8,695.5 568,699.9 568.3,699.1 568.5,699.9 568.8,695.5 569,700.3 569.3,697 569.5,696.1 569.8,698.9 570,699.3 570.3,700 570.5,699.6 570.8,695.8 571,697.1 571.3,695.6 571.5,695.5 571.8,699.4 572,695.7 572.3,695.8 572.5,695.9 572.8,699.7 573,697.1 573.3,699.9 573.5,698.8 573.8,696.4 574,699.3 574.3,696.3 574.5,696.5 574.8,695.6 575,699.7 575.3,699.4 575.5,695.5 575.8,695.9 576,698.7 576.3,696.9 576.5,700.2 576.8,698.3 577,698.8 577.3,699.4 577.5,700.3 577.8,700.2 578,699 578.3,698.9 578.5,697.9 578.8,700 579,696.3 579.3,696.3 579.5,696.9 579.8,695.5 580,695.9 580.3,699.9 580.5,697 580.8,697.3 581,696.3 581.3,696.2 581.5,697 581.8,699.7 582,699.2 582.3,696.7 582.5,699.8 582.8,699.8 583,699.4 583.3,696.4 583.5,698.5 583.8,697.3 584,695.5 584.3,694.5 584.5,699.7 584.8,700 585,696.3 585.3,698.7 585.5,699.4 585.8,698.7 586,695.7 586.3,699.2 586.5,700.3 586.8,699.6 587,700.2 587.3,700 587.5,695.6 587.8,699.2 588,696.8 588.3,695.9 588.5,699 588.8,697.3 589,698.8 589.3,695.6 589.5,698.8 589.8,700 590,696.6 590.3,695.9 590.5,698.9 590.8,698.7 591,697 591.3,695.9 591.5,698.2 591.8,699.9 592,699.6 592.3,695.9 592.5,700.2 592.8,696.8 593,697.5 593.3,695.7 593.5,695.8 593.8,711.5 594,695.6 594.3,700.2 594.5,698.2 594.8,696.3 595,699.1 595.3,711.9 595.5,707.8 595.8,709.4 596,711.9 596.3,706.8 596.5,707.2 596.8,708.4 597,706 597.3,707.5 597.5,707.6 597.8,706.5 598,706 598.3,712 598.5,709.4 598.8,706.7 599,710 599.3,712.4 599.5,710 599.8,710.3 600,711.6 600.3,705.6 600.5,709.3 600.8,706.1 601,708.4 601.3,705.8 601.5,706.6 601.8,710.4 602,707.5 602.3,712.4 602.5,714.1 602.8,707.5 603,705.8 603.3,707.5 603.5,706.2 603.8,712 604,705.8 604.3,710.4 604.5,712.3 604.8,711.5 605,707.6 605.3,706.8 605.5,710 605.8,723.3 606,709.4 606.3,718.2 606.5,711 606.8,723.1 607,716.6 607.3,723.1 607.5,721.5 607.8,721.3 608,723.2 608.3,717.8 608.5,721.9 608.8,723.1 609,722.6 609.3,722 609.5,722.7 609.8,718.5 610,719.2 610.3,722.6 610.5,718.2 610.8,723.3 611,717.4 611.3,718.2 611.5,718.8 611.8,722.2 612,722.3 612.3,723.3 612.5,716.8 612.8,717.9 613,723.1 613.3,719.9 613.5,717.1 613.8,716.6 614,716.5 614.3,722.6 614.5,717.4 614.8,723.2 615,718.2 615.3,718.1 615.5,721.8 615.8,718.6 616,721.9 616.3,717 616.5,722.9 616.8,723.1 617,717.6 617.3,721 617.5,734.2 617.8,734 618,717.8 618.3,732.3 618.5,736.2 618.8,732.7 619,730.7 619.3,729.2 619.5,727.4 619.8,727.5 620,728.8 620.3,728 620.5,733.6 620.8,727.9 621,732.3 621.3,730.7 621.5,733.8 621.8,726.2 622,729.7 622.3,728.8 622.5,734.3 622.8,733 623,732 623.3,729.2 623.5,732.7 623.8,733.8 624,728.5 624.3,728.1 624.5,727.4 624.8,727.7 625,728.9 625.3,728 625.5,734.2 625.8,727.9 626,733.7 626.3,730 626.5,733.3 626.8,734 627,728.7 627.3,733.3 627.5,729.6 627.8,734 628,732.3 628.3,733.4 628.5,729.2 628.8,740.1 629,727.8 629.3,731.1 629.5,730.3 629.8,742.3 630,739.7 630.3,728.7 630.5,739.9 630.8,743.7 631,744 631.3,740.4 631.5,740.1 631.8,741.1 632,739.6 632.3,743.6 632.5,739.7 632.8,744.3 633,741.5 633.3,743.9 633.5,743.8 633.8,739.7 634,740.4 634.3,739.8 634.5,744.6 634.8,743.1 635,743.9 635.3,741.4 635.5,740.3 635.8,739.9 636,745.5 636.3,739.9 636.5,743.1 636.8,743.4 637,739.8 637.3,744.2 637.5,742 637.8,740 638,743.5 638.3,744.2 638.5,740.9 638.8,739.7 639,742.3 639.3,743.7 639.5,743.4 639.8,743.8 640,740.6 640.3,743.8 640.5,743.2 640.8,740.4 641,741.5 641.3,744.2 641.5,740.4 641.8,740.6 642,741.3 642.3,739.9 642.5,741.4 642.8,740.1 643,743.2 643.3,743.5 643.5,740.7 643.8,744.3 644,739.7 644.3,739.7 644.5,744.2 644.8,740.8 645,744.2 645.3,744 645.5,741.3 645.8,739.7 646,742.2 646.3,740.6 646.5,742.8 646.8,743.5 647,739.9 647.3,743.5 647.5,740.5 647.8,743.4 648,743.8 648.3,744.9 648.5,742.9 648.8,740.4 649,740.7 649.3,739.6 649.5,741.4 649.8,742 650,743.4 650.3,744 650.5,744.1 650.8,742.8 651,740.7 651.3,740.5 651.5,741.2 651.8,742.4 652,739.9 652.3,743.7 652.5,740.4 652.8,743.2 653,740.5 653.3,739.9 653.5,738.7 653.8,740.3 654,740.1 654.3,740.2 654.5,744 654.8,740.2 655,743.8 655.3,743 655.5,742.6 655.8,739.6 656,740.3 656.3,739.5 656.5,740.8 656.8,740.5 657,741.5 657.3,743.9 657.5,741.5 657.8,744.1 658,740.7 658.3,743.4 658.5,743.8 658.8,743.3 659,740.1 659.3,739.8 659.5,742.2 659.8,743.1 660,741.2 660.3,744 660.5,740.8 660.8,743.6 661,743.8 661.3,741.2 661.5,740.3 661.8,740.9 662,746.1 662.3,739.7 662.5,740.2 662.8,739.7 663,740.3 663.3,741 663.5,743.7 663.8,743 664,743.2 664.3,739.5 664.5,740.4 664.8,739.8 665,743.5 665.3,740.5 665.5,743.4 665.8,741 666,744.1 666.3,743.1 666.5,739.9 666.8,743.3 667,744.2 667.3,743.1 667.5,740.9 667.8,740.7 668,740.6 668.3,743.9 668.5,743.7 668.8,742.5 669,740.1 669.3,744.1 669.5,739.5 669.8,740.6 670,743.2 670.3,739.8 670.5,739.7 670.8,744.2 671,744 671.3,744 671.5,740.9 671.8,744.3 672,744.1 672.3,740.9 672.5,739.8 672.8,740.2 673,739.9 673.3,736.9 673.5,740.1 673.8,744 674,743.9 674.3,743.7 674.5,739.7 674.8,744.1 675,744.2 675.3,743.6 675.5,742.6 675.8,740.7 676,744.2 676.3,732.6 676.5,743.3 676.8,727.9 677,740.3 677.3,728.2 677.5,740.8 677.8,742.5 678,742.1 678.3,731.8 678.5,728 678.8,733.7 679,728.7 679.3,734 679.5,733.5 679.8,731.6 680,733 680.3,735 680.5,732.9 680.8,727.6 681,730.3 681.3,733 681.5,728.2 681.8,734 682,727.4 682.3,731.6 682.5,727.8 682.8,734.3 683,729.3 683.3,728.6 683.5,727.5 683.8,727.6 684,728.3 684.3,727.6 684.5,728.8 684.8,728.1 685,729.6 685.3,733.2 685.5,732.9 685.8,728.2 686,733.8 686.3,733.8 686.5,733.3 686.8,729.1 687,727.9 687.3,734.3 687.5,734.4 687.8,733.5 688,728 688.3,728.8 688.5,734 688.8,733.4 689,722.6 689.3,732.5 689.5,734 689.8,721.3 690,731.4 690.3,728.3 690.5,717.3 690.8,717.1 691,722.6 691.3,722.7 691.5,718.1 691.8,716.5 692,719 692.3,717.5 692.5,722.2 692.8,719.1 693,723.2 693.3,722.6 693.5,723.1 693.8,722.3 694,722.2 694.3,722.3 694.5,722.9 694.8,718.4 695,721.9 695.3,716.4 695.5,718.8 695.8,722.9 696,717.1 696.3,716.4 696.5,721.6 696.8,716.9 697,722.9 697.3,716.8 697.5,722.7 697.8,722.8 698,721 698.3,716.8 698.5,717.2 698.8,722.6 699,725.1 699.3,722.4 699.5,716.8 699.8,721.6 700,717.9 700.3,723.3 700.5,721.5 700.8,723.4 701,709.3 701.3,706.6 701.5,707.6 701.8,711.7 702,723.1 702.3,712.4 702.5,710.2 702.8,712.2 703,711.4 703.3,712.2 703.5,706.7 703.8,712.1 704,705.5 704.3,711.6 704.5,711.8 704.8,706.6 705,711.7 705.3,710.6 705.5,709.3 705.8,712.2 706,711.7 706.3,710.7 706.5,712.4 706.8,712.1 707,710.7 707.3,711.8 707.5,705.7 707.8,707.3 708,711.7 708.3,706 708.5,706.2 708.8,706.4 709,710.4 709.3,710.6 709.5,711 709.8,706.1 710,706.7 710.3,712.1 710.5,706.1 710.8,712.4 711,705.8 711.3,711.4 711.5,709.9 711.8,706.9 712,711.7 712.3,705.8 712.5,712 712.8,696.5 713,696.6 713.3,695.7 713.5,706.2 713.8,712.4 714,695.7 714.3,695.7 714.5,696.1 714.8,695.7 715,700 715.3,695.5 715.5,699.7 715.8,696.5 716,698.6 716.3,699.5 716.5,699.3 716.8,699.7 717,699.2 717.3,695.6 717.5,699.5 717.8,696.4 718,699.3 718.3,695.6 718.5,696.1 718.8,700.2 719,699.7 719.3,695.6 719.5,696.3 719.8,696.5 720,697.4 720.3,699.9 720.5,699.7 720.8,696.3 721,700.3 721.3,696.5 721.5,696 721.8,696.5 722,695.9 722.3,697.2 722.5,699.7 722.8,698.2 723,698.4 723.3,696.7 723.5,700.1 723.8,698.4 724,699.3 724.3,699.9 724.5,699.7 724.8,700.3 725,699 725.3,697.5 725.5,695.9 725.8,699.7 726,696 726.3,699.3 726.5,699.7 726.8,699.3 727,698.4 727.3,700.3 727.5,699.8 727.8,695.8 728,699.2 728.3,696.6 728.5,699.7 728.8,696.9 729,696.9 729.3,698.9 729.5,700.3 729.8,699.6 730,700.1 730.3,696.2 730.5,697.1 730.8,700.3 731,699 731.3,697.5 731.5,696.8 731.8,699.8 732,698.4 732.3,700 732.5,696.6 732.8,698.9 733,698.4 733.3,695.9 733.5,697 733.8,695.8 734,696.1 734.3,696.8 734.5,699.9 734.8,695.9 735,700.1 735.3,695.6 735.5,696.7 735.8,700 736,699.9 736.3,700.2 736.5,700 736.8,696.1 737,700.3 737.3,695.9 737.5,695.5 737.8,698.8 738,696.6 738.3,695.6 738.5,695.7 738.8,696.7 739,696 739.3,697.1 739.5,699.2 739.8,696.2 740,700.3 740.3,699.2 740.5,699.7 740.8,696.2 741,699.6 741.3,695.9 741.5,699 741.8,696.3 742,696.5 742.3,696.5 742.5,697.9 742.8,695.7 743,696 743.3,697.3 743.5,695.8 743.8,697.4 744,696.9 744.3,698.5 744.5,698.2 744.8,695.8 745,698.4 745.3,696 745.5,699.7 745.8,697.3 746,700.1 746.3,696 746.5,699.7 746.8,696.6 747,696.1 747.3,696.3 747.5,696.2 747.8,699.2 748,699.4 748.3,695.5 748.5,697.2 748.8,696.1 749,695.5 749.3,700 749.5,696.4 749.8,699.2 750,700 750.3,695.8 750.5,695.6 750.8,696.5 751,699.1 751.3,698.6 751.5,699.5 751.8,699.2 752,697.3 752.3,699.8 752.5,696 752.8,700.3 753,696.1 753.3,699 753.5,696.1 753.8,700 754,698.8 754.3,696.6 754.5,696.6 754.8,696.5 755,696.1 755.3,700.2 755.5,699.2 755.8,696.6 756,695.7 756.3,698.9 756.5,700.3 756.8,697.1 757,700.3 757.3,700.2 757.5,695.7 757.8,699.3 758,697.3 758.3,700.3 758.5,700 758.8,699.9 759,696.2 759.3,696 759.5,699.6 759.8,707.4 760,696.1 760.3,708.1 760.5,712.3 760.8,706.8 761,698.3 761.3,709.9 761.5,699.5 761.8,711.4 762,706.5 762.3,706.5 762.5,705.4 762.8,705.4 763,705.5 763.3,708.3 763.5,706.5 763.8,711.1 764,704 764.3,709.4 764.5,707.2 764.8,711.7 765,707.2 765.3,707.6 765.5,710.2 765.8,707 766,705.6 766.3,707.9 766.5,705.4 766.8,711.2 767,712.2 767.3,706.1 767.5,711.7 767.8,712.4 768,711.7 768.3,705.7 768.5,706 768.8,705.5 769,710.9 769.3,705.8 769.5,709.6 769.8,710.9 770,706.7 770.3,711.7 770.5,706.1 770.8,705.7 771,711.6 771.3,711 771.5,710.1 771.8,711.9 772,711.8 772.3,711.5 772.5,707.9 772.8,722.1 773,710.8 773.3,718.5 773.5,711.3 773.8,716.6 774,718.4 774.3,722.9 774.5,716.9 774.8,721.5 775,723.1 775.3,721.7 775.5,723.3 775.8,722.1 776,718.5 776.3,717.3 776.5,716.6 776.8,717.5 777,717.3 777.3,723.2 777.5,723.3 777.8,716.4 778,722.2 778.3,719 778.5,722.3 778.8,722.6 779,723.4 779.3,718.6 779.5,721.4 779.8,717.3 780,718.4 780.3,718.3 780.5,722.8 780.8,717.7 781,717.3 781.3,722.4 781.5,721.4 781.8,718.3 782,719.4 782.3,722.9 782.5,722 782.8,719.2 783,716.6 783.3,717.4 783.5,718.2 783.8,717.9 784,732.6 784.3,732.9 784.5,719.5 784.8,734.1 785,730 785.3,732.1 785.5,734.1 785.8,733.2 786,733.8 786.3,733.8 786.5,727.5 786.8,728.9 787,734.1 787.3,730.1 787.5,732.2 787.8,728.2 788,727.7 788.3,728.3 788.5,732.7 788.8,734.2 789,734.1 789.3,735.2 789.5,732.3 789.8,727.4 790,732.2 790.3,733.6 790.5,733.4 790.8,734.2 791,733.6 791.3,729.9 791.5,727.6 791.8,729.9 792,731.7 792.3,727.5 792.5,731.3 792.8,728.2 793,728.4 793.3,728.6 793.5,733.7 793.8,733 794,727.5 794.3,734.2 794.5,732.7 794.8,734 795,733.4 795.3,734.3 795.5,733.7 795.8,733.2 796,727.9 796.3,727.8 796.5,732.6 796.8,744.2 797,744.1 797.3,739.7 797.5,743.7 797.8,744.3 798,743.6 798.3,741.4 798.5,740 798.8,743.9 799,740.4 799.3,743.4 799.5,743.9 799.8,744.3 800,744.2 800.3,739.9 800.5,739.6 800.8,741.3 801,739.8 801.3,743.3 801.5,740.9 801.8,739.6 802,739.7 802.3,743.4 802.5,739.7 802.8,743.7 803,740.9 803.3,743.7 803.5,744.2 803.8,740.6 804,743.3 804.3,744.3 804.5,743.3 804.8,739.7 805,743.4 805.3,743.3 805.5,741.4 805.8,739.6 806,739.6 806.3,743.9 806.5,741.3 806.8,743.5 807,741 807.3,744 807.5,743 807.8,739.6 808,739.8 808.3,744.3 808.5,740.6 808.8,740.1 809,740.3 809.3,743.6 809.5,743.1 809.8,743.1 810,743.5 810.3,743.8 810.5,743.4 810.8,742.8 811,744.2 811.3,739.8 811.5,744.1 811.8,739.7 812,743 812.3,742.8 812.5,743.2 812.8,739.7 813,743.6 813.3,741.8 813.5,743.1 813.8,740.2 814,743.7 814.3,743.9 814.5,739.6 814.8,740.2 815,740.9 815.3,742.8 815.5,741.5 815.8,742.5 816,744 816.3,743.9 816.5,740.4 816.8,744 817,743.8 817.3,739.7 817.5,743.5 817.8,743.2 818,741.5 818.3,740.7 818.5,743.7 818.8,744.1 819,741 819.3,740.5 819.5,739.5 819.8,739.5 820,744.2 820.3,744.3 820.5,739.8 820.8,742.4 821,742.1 821.3,740.6 821.5,742.9 821.8,743.7 822,743.9 822.3,743.5 822.5,740.4 822.8,744.1 823,739.8 823.3,744 823.5,743.9 823.8,740.9 824,744.2 824.3,739.8 824.5,741.1 824.8,743.8 825,743.6 825.3,744 825.5,740.6 825.8,742.7 826,743.5 826.3,742.9 826.5,740.9 826.8,743.1 827,739.8 827.3,740 827.5,741 827.8,740.3 828,744.1 828.3,743.3 828.5,739.9 828.8,743.7 829,742.2 829.3,740.8 829.5,743.6 829.8,741.6 830,739.5 830.3,743.5 830.5,739.7 830.8,739.7 831,741 831.3,740.4 831.5,743.4 831.8,740.3 832,739.8 832.3,740.2 832.5,740 832.8,743 833,742.3 833.3,740.5 833.5,744.3 833.8,740.2 834,742.2 834.3,739.7 834.5,740.8 834.8,743.5 835,743.3 835.3,743.7 835.5,744 835.8,743.6 836,744.3 836.3,739.6 836.5,744.1 836.8,739.9 837,743.4 837.3,741.2 837.5,743.6 837.8,739.5 838,741.6 838.3,743.9 838.5,744 838.8,743.9 839,742.8 839.3,740.7 839.5,740 839.8,743.8 840,742.5 840.3,742.2 840.5,741.4 840.8,740.4 841,740.1 841.3,743 841.5,739.8 841.8,744 842,739.6 842.3,743.1 842.5,743.9 842.8,742.4 843,744 843.3,734 843.5,739.5 843.8,733.9 844,732.5 844.3,733.8 844.5,731.6 844.8,727.6 845,733 845.3,732.4 845.5,733.8 845.8,732.2 846,728 846.3,734.4 846.5,732.1 846.8,734.4 847,728.6 847.3,728.3 847.5,728.3 847.8,729.3 848,728.7 848.3,727.6 848.5,729.4 848.8,733.1 849,732.9 849.3,728.6 849.5,733.8 849.8,729.4 850,728.6 850.3,734.2 850.5,727.4 850.8,734.2 851,728.4 851.3,728 851.5,727.5 851.8,727.9 852,733.2 852.3,733.8 852.5,726.8 852.8,734 853,732.5 853.3,728.3 853.5,727.7 853.8,733.7 854,729.2 854.3,733.9 854.5,734.1 854.8,733.7 855,735.2 855.3,734 855.5,732.5 855.8,718.2 856,729.1 856.3,722.7 856.5,732.4 856.8,729.9 857,716.8 857.3,722.1 857.5,722.7 857.8,724.7 858,718.7 858.3,717 858.5,717.4 858.8,722.4 859,721.4 859.3,723.4 859.5,716.5 859.8,723.1 860,722.1 860.3,717.5 860.5,721.9 860.8,716.5 861,717.6 861.3,718.8 861.5,722.6 861.8,722.7 862,722.2 862.3,723.1 862.5,717.4 862.8,722.1 863,721.8 863.3,719.4 863.5,717.9 863.8,716.6 864,718.3 864.3,716.7 864.5,723.2 864.8,722.3 865,716.9 865.3,722.6 865.5,716.8 865.8,716.6" fill="none" stroke="#0505dc" stroke-width="1.6" stroke-linejoin="round"/>
<polyline points="34.5,938.8 34.9,943.7 35.3,938.9 35.7,942.5 36.1,942.2 36.5,935.2 36.9,938.7 37.3,931.5 37.7,936.8 38.1,930 38.5,937.3 38.9,930.9 39.3,935.6 39.7,932.9 40.1,934.6 40.5,928.4 40.9,931.6 41.3,928.7 41.7,930.8 42.1,930.7 42.5,923 42.9,928.1 43.3,922.4 43.7,927.8 44.1,922 44.5,926.2 44.9,925.4 45.3,925.5 45.7,916.7 46.1,919 46.5,915.7 46.9,920.7 47.3,920.5 47.7,920.3 48.1,912 48.5,911.5 48.9,912.6 49.3,912.8 49.7,911.5 50.1,912.5 50.5,908.8 50.9,916.3 51.3,912.7 51.7,913.7 52.1,906.4 52.5,913.6 52.9,906.3 53.3,903.8 53.7,908.9 54.1,910.1 54.5,903.6 54.9,902.9 55.3,906.9 55.7,909 56.1,901.2 56.5,900.9 56.9,901.9 57.3,902 57.7,899.3 58.1,898.9 58.5,905.4 58.9,906.2 59.3,897.5 59.7,905.2 60.1,904.1 60.5,896.7 60.9,896.2 61.3,899.3 61.7,900.8 62.1,901.3 62.5,898.7 62.9,894 63.3,892.6 63.7,892.5 64.1,896.6 64.5,890.5 64.9,897.6 65.3,898.3 65.7,890.5 66.1,890.5 66.5,890.5 66.9,896.8 67.3,896.6 67.7,888.8 68.1,894.8 68.5,896.3 68.9,887.8 69.3,896 69.7,890.6 70.1,887.5 70.5,894.8 70.9,887 71.3,894.3 71.7,895.1 72.1,886.9 72.5,886.5 72.9,887.2 73.3,892 73.7,894.6 74.1,886.3 74.5,888.6 74.9,894.2 75.3,894.4 75.7,890.9 76.1,886.4 76.5,887 76.9,893.4 77.3,889.1 77.7,886.1 78.1,887.5 78.5,893.9 78.9,885.5 79.3,892.5 79.7,892.5 80.1,893.8 80.5,891.1 80.9,885.5 81.3,892.8 81.7,892.8 82.1,891.6 82.5,887.5 82.9,894.3 83.3,889.2 83.7,890.5 84.1,890.2 84.5,895.3 84.9,889.7 85.3,890.1 85.7,890.7 86.1,898.1 86.5,897.7 86.9,891.9 87.3,897.6 87.7,890.8 88.1,891.7 88.5,898.8 88.9,899.6 89.3,900.1 89.7,899.4 90.1,899.4 90.5,901.2 90.9,902.3 91.3,900.1 91.7,895.7 92.1,897.2 92.5,902 92.9,904.1 93.3,899.7 93.7,898.7 94.1,904.1 94.5,906.1 94.9,899.1 95.3,898.6 95.7,901.1 96.1,907.2 96.5,900.6 96.9,903.3 97.3,909.4 97.7,903 98.1,911.1 98.5,911.7 98.9,903.9 99.3,906.1 99.7,905.2 100.1,913.6 100.5,912.9 100.9,912.5 101.3,914.4 101.7,913.8 102.1,916.4 102.5,916.2 102.9,917.6 103.3,911.6 103.7,919.7 104.1,919.4 104.5,920.7 104.9,920 105.3,921.6 105.7,916.4 106.1,917.9 106.5,915.7 106.9,918 107.3,922.2 107.7,920.5 108.1,921 108.5,924.9 108.9,925.3 109.3,928.2 109.7,921.5 110.1,930.3 110.5,923.7 110.9,924.2 111.3,925.7 111.7,927.6 112.1,933.4 112.5,928.4 112.9,927.6 113.3,935.5 113.7,937 114.1,935.3 114.5,931.1 114.9,932.7 115.3,933.6 115.7,935.6 116.1,933.7 116.5,936.4 116.9,936.2 117.3,935.8 117.7,945 118.1,943.8 118.5,937.7 118.9,940.8 119.3,945.8 119.7,947.7 120.1,941.3 120.5,943.9 120.9,950.8 121.3,951.2 121.7,952.3 122.1,944.9 122.5,953.8 122.9,946.8 123.3,955.1 123.7,955.8 124.1,948.8 124.5,956.7 124.9,953.5 125.3,952.7 125.7,952.3 126.1,953.6 126.5,956.2 126.9,954.5 127.3,954.4 127.7,958.7 128.1,957.6 128.5,956 128.9,964.8 129.3,965.9 129.7,963.5 130.1,966.7 130.5,960.5 130.9,968.4 131.3,969.7 131.7,968.9 132.1,966.4 132.5,971.8 132.9,970.6 133.3,972.9 133.7,971.5 134.1,967.2 134.5,969.1 134.9,974 135.3,968 135.7,973.6 136.1,969.6 136.5,969.5 136.9,978.1 137.3,978.9 137.7,976.1 138.1,974.4 138.5,973.6 138.9,975.8 139.3,980.1 139.7,973.9 140.1,974.9 140.5,974.7 140.9,975.4 141.3,975.9 141.7,980.7 142.1,983.6 142.5,984.7 142.9,978.8 143.3,980.4 143.7,977.9 144.1,979.2 144.5,987.2 144.9,985.5 145.3,980.7 145.7,988.2 146.1,988.9 146.5,989 146.9,990.6 147.3,985.1 147.7,989.4 148.1,985.1 148.5,983.8 148.9,991.1 149.3,984.3 149.7,984.5 150.1,984.8 150.5,988.7 150.9,987.7 151.3,994 151.7,994.2 152.1,994.1 152.5,992.1 152.9,993.9 153.3,993.2 153.7,994.4 154.1,991.6 154.5,993 154.9,993.5 155.3,987 155.7,993 156.1,989.5 156.5,988 156.9,987.8 157.3,988.9 157.7,987.7 158.1,988.3 158.5,989.9 158.9,994 159.3,995.1 159.7,993.8 160.1,996.2 160.5,994.3 160.9,996.4 161.3,988.9 161.7,995.5 162.1,989.1 162.5,991 162.9,987.8 163.3,989 163.7,988.9 164.1,989.1 164.5,996.4 164.9,988.3 165.3,987.6 165.7,987.8 166.1,994 166.5,993.1 166.9,991.7 167.3,993.2 167.7,984.8 168.1,992.8 168.5,988.1 168.9,989.2 169.3,991.4 169.7,991.4 170.1,984.9 170.5,983.1 170.9,983.1 171.3,982.3 171.7,982.3 172.1,989.5 172.5,987.3 172.9,989.6 173.3,982.5 173.7,981.3 174.1,982.6 174.5,979.5 174.9,986.3 175.3,984.2 175.7,978.8 176.1,978.3 176.5,979.5 176.9,984.1 177.3,984.4 177.7,984.5 178.1,976.7 178.5,981.7 178.9,981.1 179.3,982.8 179.7,974.3 180.1,974.7 180.5,980.5 180.9,973.2 181.3,979.4 181.7,978.2 182.1,977.4 182.5,976.2 182.9,970.6 183.3,968.7 183.7,975.8 184.1,970 184.5,966.6 184.9,970.9 185.3,968.4 185.7,964.5 186.1,965.8 186.5,964.6 186.9,969.4 187.3,970.4 187.7,967.9 188.1,962.5 188.5,963.2 188.9,961.4 189.3,967.6 189.7,965.9 190.1,958.2 190.5,963.2 190.9,964.1 191.3,959.1 191.7,960 192.1,961.3 192.5,960 192.9,960.2 193.3,953.7 193.7,952.5 194.1,950.6 194.5,951.2 194.9,951.1 195.3,955.7 195.7,953.7 196.1,954.7 196.5,954.1 196.9,945.4 197.3,952.9 197.7,944.5 198.1,951.5 198.5,950.3 198.9,941 199.3,946 199.7,940.4 200.1,939.4 200.5,944.3 200.9,945.7 201.3,943.8 201.7,937.2 202.1,935.8 202.5,942.6 202.9,941.9 203.3,938.8 203.7,938.6 204.1,938.4 204.5,938.3 204.9,929.3 205.3,936.8 205.7,935.9 206.1,928 206.5,933.5 206.9,926.7 207.3,925.7 207.7,933.1 208.1,929.5 208.5,923.1 208.9,928 209.3,929.5 209.7,922.5 210.1,920.6 210.5,920.7 210.9,920.9 211.3,919.3 211.7,920.2 212.1,917.5 212.5,918.5 212.9,916.5 213.3,921.4 213.7,921.3 214.1,920.8 214.5,913 214.9,917.2 215.3,919.4 215.7,910.5 216.1,915.3 216.5,912.6 216.9,915.8 217.3,908.7 217.7,916 218.1,914.8 218.5,914.9 218.9,908.1 219.3,907.3 219.7,911.6 220.1,911.7 220.5,911.3 220.9,908.6 221.3,908.1 221.7,903 222.1,909 222.5,908.3 222.9,902.2 223.3,899.3 223.7,899.5 224.1,906.4 224.5,899 224.9,898.9 225.3,898.7 225.7,897.7 226.1,900.2 226.5,904.5 226.9,897.8 227.3,895.6 227.7,897.3 228.1,901.5 228.5,900.7 228.9,897.4 229.3,899.2 229.7,892.3 230.1,899.9 230.5,891.1 230.9,899.1 231.3,890.1 231.7,891.6 232.1,889.5 232.5,889.7 232.9,897.5 233.3,894.5 233.7,888.8 234.1,896.5 234.5,895 234.9,888.2 235.3,894.2 235.7,890.3 236.1,895.4 236.5,895.1 236.9,892.6 237.3,895 237.7,887.7 238.1,889.2 238.5,887.2 238.9,892.6 239.3,892.7 239.7,887.8 240.1,888.6 240.5,892.8 240.9,892.9 241.3,886.6 241.7,886.5 242.1,886.3 242.5,886.3 242.9,886.9 243.3,892.3 243.7,888.4 244.1,886.3 244.5,892.8 244.9,892.1 245.3,892.5 245.7,887.1 246.1,888.2 246.5,894.1 246.9,886 247.3,892.9 247.7,893.6 248.1,885.8 248.5,888.5 248.9,889.6 249.3,887 249.7,895.2 250.1,887.8 250.5,889.6 250.9,896 251.3,891.8 251.7,897.9 252.1,897.1 252.5,890.6 252.9,897.6 253.3,896.4 253.7,890.7 254.1,897.3 254.5,897.8 254.9,892.5 255.3,898.9 255.7,892.4 256.1,892.8 256.5,899.2 256.9,892.7 257.3,901.5 257.7,901.6 258.1,895.2 258.5,902.5 258.9,903.9 259.3,903.9 259.7,897.8 260.1,898.7 260.5,903.7 260.9,905.6 261.3,903.2 261.7,905.1 262.1,904.3 262.5,899.8 262.9,899.7 263.3,908.8 263.7,909 264.1,902.8 264.5,908.8 264.9,911.5 265.3,911.6 265.7,911.2 266.1,906.8 266.5,905.7 266.9,908.5 267.3,908.3 267.7,913.1 268.1,910.3 268.5,909.3 268.9,909.3 269.3,915.1 269.7,911.2 270.1,918.7 270.5,917.6 270.9,919 271.3,912.7 271.7,920.2 272.1,913.4 272.5,914.9 272.9,921.4 273.3,922 273.7,918.7 274.1,918.5 274.5,924.4 274.9,919.1 275.3,928.1 275.7,923.6 276.1,926.8 276.5,921.7 276.9,923 277.3,924.3 277.7,929.7 278.1,925 278.5,928.2 278.9,934.9 279.3,930.5 279.7,934.5 280.1,935.7 280.5,929.4 280.9,930.6 281.3,937.9 281.7,936.6 282.1,933.2 282.5,940.9 282.9,934.1 283.3,940 283.7,943.2 284.1,936.5 284.5,944.8 284.9,938.4 285.3,945.2 285.7,945.3 286.1,940.7 286.5,942 286.9,950.1 287.3,949.6 287.7,945 288.1,950.1 288.5,952.8 288.9,945.2 289.3,952.2 289.7,947.1 290.1,952.5 290.5,948.4 290.9,949.3 291.3,951.2 291.7,952.7 292.1,952.3 292.5,952.5 292.9,955.3 293.3,959.3 293.7,960.3 294.1,955 294.5,956.5 294.9,964 295.3,964.7 295.7,960.2 296.1,965.3 296.5,966.9 296.9,966.4 297.3,969.1 297.7,967.4 298.1,968.2 298.5,962.6 298.9,970.2 299.3,970.9 299.7,970.5 300.1,969.5 300.5,965.9 300.9,966.5 301.3,966.6 301.7,974 302.1,975 302.5,968.9 302.9,975.5 303.3,969.7 303.7,972.9 304.1,973.6 304.5,974.5 304.9,978.1 305.3,972.7 305.7,974.9 306.1,980.2 306.5,975.8 306.9,974.6 307.3,981.5 307.7,983.3 308.1,977.3 308.5,977.8 308.9,983 309.3,982.4 309.7,984.8 310.1,985.1 310.5,978.5 310.9,986.7 311.3,987 311.7,980.7 312.1,988.7 312.5,989.7 312.9,989 313.3,983.5 313.7,982.9 314.1,986.6 314.5,990.8 314.9,991.9 315.3,990.3 315.7,991.5 316.1,984.8 316.5,990.2 316.9,991.2 317.3,985.7 317.7,988.1 318.1,993.7 318.5,988.7 318.9,988.8 319.3,986.3 319.7,991.8 320.1,988.7 320.5,993.7 320.9,988.2 321.3,987.4 321.7,991.9 322.1,994.6 322.5,993.4 322.9,987.3 323.3,995 323.7,994.7 324.1,987.4 324.5,994 324.9,995.1 325.3,990.8 325.7,987.8 326.1,994.1 326.5,987.7 326.9,989 327.3,996.2 327.7,993.5 328.1,989 328.5,993.8 328.9,990.1 329.3,994.3 329.7,996.6 330.1,996.1 330.5,989.6 330.9,991.2 331.3,996.2 331.7,995.9 332.1,993.1 332.5,986.6 332.9,994.7 333.3,993.8 333.7,993.8 334.1,992.3 334.5,992.3 334.9,992.4 335.3,986.8 335.7,989.6 336.1,988.6 336.5,991.6 336.9,990.4 337.3,983.1 337.7,990 338.1,982.2 338.5,982.3 338.9,984.6 339.3,982.7 339.7,988.3 340.1,988.8 340.5,987.6 340.9,986.9 341.3,987.7 341.7,979.2 342.1,980.2 342.5,980.3 342.9,979.1 343.3,985.4 343.7,977.2 344.1,977 344.5,976.9 344.9,977.5 345.3,976.1 345.7,975.2 346.1,979.6 346.5,974.6 346.9,980.9 347.3,980.1 347.7,979 348.1,977.1 348.5,972.2 348.9,970.6 349.3,974.5 349.7,972.2 350.1,971.5 350.5,968.3 350.9,975.7 351.3,967 351.7,966.6 352.1,972.9 352.5,964 352.9,969.8 353.3,963.3 353.7,970.5 354.1,962.6 354.5,969.4 354.9,962.9 355.3,960.1 355.7,960.6 356.1,960.3 356.5,964.2 356.9,964.6 357.3,963 357.7,955.3 358.1,955.1 358.5,954.2 358.9,960.8 359.3,961.3 359.7,960.3 360.1,953 360.5,952.9 360.9,951.3 361.3,949.1 361.7,948.4 362.1,950.2 362.5,955.2 362.9,953.4 363.3,953.1 363.7,953.2 364.1,951.8 364.5,944.7 364.9,943.9 365.3,943.7 365.7,948.9 366.1,942.9 366.5,943.1 366.9,943.3 367.3,941.9 367.7,941 368.1,945.2 368.5,939.5 368.9,939 369.3,939.3 369.7,939.1 370.1,944 370.5,944.2 370.9,938 371.3,940.4 371.7,939.7 372.1,942 372.5,940.2 372.9,935.7 373.3,940.2 373.7,939.9 374.1,933.7 374.5,939.1 374.9,933.2 375.3,939.1 375.7,940 376.1,932.1 376.5,933.3 376.9,932.7 377.3,930.9 377.7,930.6 378.1,931.4 378.5,938.3 378.9,935.9 379.3,936.6 379.7,929.7 380.1,931 380.5,929.9 380.9,935.1 381.3,928.7 381.7,928 382.1,927.6 382.5,934.3 382.9,933.3 383.3,926.4 383.7,931.8 384.1,932 384.5,925.3 384.9,927.1 385.3,924.4 385.7,932 386.1,927.8 386.5,931.4 386.9,924.5 387.3,928.1 387.7,923 388.1,922.5 388.5,925.6 388.9,923.7 389.3,922.3 389.7,923.4 390.1,921.6 390.5,924.5 390.9,923.6 391.3,929.1 391.7,921.9 392.1,927.9 392.5,925.9 392.9,929 393.3,920.8 393.7,927.2 394.1,920.4 394.5,927.1 394.9,923.6 395.3,925 395.7,927.5 396.1,920.9 396.5,926.5 396.9,926.9 397.3,922.9 397.7,921.6 398.1,925.6 398.5,927.7 398.9,927.3 399.3,927.5 399.7,927.2 400.1,926.8 400.5,921.2 400.9,925.1 401.3,926.6 401.7,927 402.1,927.2 402.5,920 402.9,921.7 403.3,925.1 403.7,922.5 404.1,927.2 404.5,922 404.9,928 405.3,921.9 405.7,921.5 406.1,922 406.5,920.8 406.9,921.2 407.3,927.4 407.7,921.8 408.1,926.8 408.5,927.8 408.9,925.1 409.3,925.5 409.7,925.2 410.1,926.4 410.5,922.1 410.9,927.4 411.3,927 411.7,926.5 412.1,919.9 412.5,927.5 412.9,927.3 413.3,927.5 413.7,920.1 414.1,926.2 414.5,927.2 414.9,922.2 415.3,919.6 415.7,927.1 416.1,919.5 416.5,925.7 416.9,922.4 417.3,927.3 417.7,920.4 418.1,926.7 418.5,923.1 418.9,922.7 419.3,920.5 419.7,926.3 420.1,921 420.5,922 420.9,926.5 421.3,920.1 421.7,919.5 422.1,920.5 422.5,922.6 422.9,926.9 423.3,926.2 423.7,921.7 424.1,926.8 424.5,927.3 424.9,924.5 425.3,920.1 425.7,921.8 426.1,920 426.5,919.6 426.9,921.4 427.3,925.6 427.7,920.2 428.1,921.3 428.5,929.6 428.9,922.5 429.3,922.7 429.7,928.9 430.1,925.2 430.5,931 430.9,926.1 431.3,925.4 431.7,924.7 432.1,924.6 432.5,932.3 432.9,925.9 433.3,932.9 433.7,925.6 434.1,925.8 434.5,933.2 434.9,932.8 435.3,931.7 435.7,934.4 436.1,932.5 436.5,927.7 436.9,926.6 437.3,929.2 437.7,927.2 438.1,929.8 438.5,930.1 438.9,928.3 439.3,935.4 439.7,928 440.1,934.4 440.5,935 440.9,935.6 441.3,933.3 441.7,937.7 442.1,935.9 442.5,931.8 442.9,939.3 443.3,939.1 443.7,940.1 444.1,938.1 444.5,940.5 444.9,934.1 445.3,933.5 445.7,933.9 446.1,937 446.5,934.5 446.9,942.4 447.3,934.3 447.7,934.8 448.1,934.4 448.5,935.3 448.9,935.4 449.3,941.1 449.7,939.5 450.1,938.1 450.5,939.9 450.9,941.8 451.3,938.7 451.7,939.4 452.1,939.7 452.5,943.4 452.9,944.2 453.3,946.5 453.7,939.4 454.1,939.6 454.5,941.9 454.9,943.5 455.3,949.2 455.7,940.9 456.1,949.3 456.5,946.5 456.9,942.2 457.3,942.5 457.7,949.1 458.1,946.9 458.5,945.2 458.9,943.4 459.3,951.5 459.7,950.4 460.1,951.8 460.5,951.2 460.9,943.9 461.3,952.1 461.7,945 462.1,951.2 462.5,951.4 462.9,944.9 463.3,946.8 463.7,951.6 464.1,947.2 464.5,949.3 464.9,947.6 465.3,955 465.7,956.1 466.1,956.4 466.5,949.5 466.9,949.3 467.3,950.4 467.7,951.6 468.1,957.4 468.5,950.1 468.9,958.4 469.3,951.5 469.7,950.9 470.1,953.8 470.5,959 470.9,952 471.3,959.4 471.7,952.9 472.1,960.1 472.5,952.1 472.9,957.4 473.3,959.4 473.7,953.3 474.1,959.6 474.5,953.1 474.9,955.3 475.3,960.9 475.7,958 476.1,958.2 476.5,954.5 476.9,961.6 477.3,952.9 477.7,953.4 478.1,960.6 478.5,953.9 478.9,958.2 479.3,954.4 479.7,953.4 480.1,956.2 480.5,955.8 480.9,953.6 481.3,953.9 481.7,962 482.1,960.8 482.5,960.2 482.9,960.8 483.3,954.2 483.7,961.6 484.1,954.9 484.5,962.2 484.9,961.5 485.3,957.4 485.7,956.3 486.1,953.6 486.5,961.1 486.9,961.4 487.3,954.5 487.7,955.5 488.1,960.9 488.5,955.5 488.9,954.9 489.3,956.4 489.7,962.2 490.1,955.5 490.5,962.3 490.9,956.1 491.3,961.1 491.7,955.8 492.1,956 492.5,954.3 492.9,960.9 493.3,962.2 493.7,955.4 494.1,961.5 494.5,961.6 494.9,962.1 495.3,959.7 495.7,958.5 496.1,961.7 496.5,957 496.9,960.4 497.3,962.5 497.7,962.2 498.1,960.3 498.5,962.3 498.9,953.9 499.3,961.8 499.7,954.8 500.1,954.4 500.5,954.9 500.9,962.1 501.3,955.1 501.7,954.2 502.1,954.4 502.5,962.3 502.9,954.4 503.3,956.8 503.7,961.5 504.1,959 504.5,955.8 504.9,954.5 505.3,960.4 505.7,960.1 506.1,961.7 506.5,955.4 506.9,962.3 507.3,961.3 507.7,958.3 508.1,954.7 508.5,961.1 508.9,960.4 509.3,962 509.7,956.7 510.1,955.6 510.5,955.2 510.9,953.7 511.3,960.2 511.7,952.5 512.1,954.6 512.5,954.3 512.9,953.6 513.3,958.1 513.7,958.9 514.1,950.7 514.5,957.3 514.9,954.5 515.3,954.8 515.7,955.9 516.1,955.1 516.5,949.3 516.9,954.4 517.3,950.3 517.7,955.8 518.1,955 518.5,955.5 518.9,955.9 519.3,948.2 519.7,954.3 520.1,950.1 520.5,955.4 520.9,947 521.3,954.6 521.7,946.5 522.1,949.1 522.5,953.5 522.9,946.4 523.3,954.3 523.7,945.4 524.1,947.7 524.5,946.3 524.9,945 525.3,944.3 525.7,950.7 526.1,946.5 526.5,942.2 526.9,948.8 527.3,949.9 527.7,947.9 528.1,948.7 528.5,942.3 528.9,946.5 529.3,948 529.7,948.3 530.1,940.7 530.5,940.8 530.9,946.6 531.3,945.6 531.7,940.1 532.1,945 532.5,940.7 532.9,941.9 533.3,944.8 533.7,940.5 534.1,946.1 534.5,945.9 534.9,937.4 535.3,936.8 535.7,936.7 536.1,941.9 536.5,935.9 536.9,935.8 537.3,941.9 537.7,934.3 538.1,940.4 538.5,940 538.9,941.1 539.3,933.5 539.7,932.3 540.1,935 540.5,932.6 540.9,932.8 541.3,934.1 541.7,938.9 542.1,937.6 542.5,933.9 542.9,933.4 543.3,932 543.7,930 544.1,937.6 544.5,936.4 544.9,937.2 545.3,931.9 545.7,937.1 546.1,930.4 546.5,931.8 546.9,936.3 547.3,928.8 547.7,935.1 548.1,935 548.5,933.2 548.9,928.4 549.3,926.4 549.7,930.8 550.1,926.5 550.5,925.6 550.9,925.4 551.3,924.1 551.7,929 552.1,924.5 552.5,925.2 552.9,931.1 553.3,925.6 553.7,929.3 554.1,922.5 554.5,930.1 554.9,924.4 555.3,929.7 555.7,927.8 556.1,923.5 556.5,929.9 556.9,929 557.3,928 557.7,922.8 558.1,925.5 558.5,923 558.9,921 559.3,920.6 559.7,926.8 560.1,927.7 560.5,926.1 560.9,922 561.3,920.4 561.7,922.3 562.1,926.2 562.5,927.2 562.9,921.6 563.3,922.5 563.7,920 564.1,926.8 564.5,928.2 564.9,920 565.3,919.9 565.7,927.9 566.1,920.1 566.5,925 566.9,920.1 567.3,926.7 567.7,926.4 568.1,921.5 568.5,921.8 568.9,922.5 569.3,926.1 569.7,920.6 570.1,926.3 570.5,919.7 570.9,920.7 571.3,921 571.7,927.1 572.1,920.1 572.5,928.1 572.9,927 573.3,920.1 573.7,920.5 574.1,925.7 574.5,922.6 574.9,925.3 575.3,921.8 575.7,921.9 576.1,925.5 576.5,922.6 576.9,928.2 577.3,927.2 577.7,920.3 578.1,927.7 578.5,922.8 578.9,921.3 579.3,927.7 579.7,920 580.1,920.5 580.5,928.1 580.9,927.9 581.3,920.6 581.7,921.8 582.1,921.4 582.5,925.7 582.9,927.7 583.3,919.9 583.7,923.4 584.1,922.1 584.5,919.6 584.9,927.6 585.3,920.1 585.7,919.5 586.1,920.1 586.5,925.1 586.9,921.1 587.3,926.5 587.7,926.3 588.1,920.8 588.5,927.4 588.9,926.6 589.3,920.9 589.7,919.6 590.1,927.9 590.5,927.7 590.9,922.6 591.3,927.4 591.7,928 592.1,919.8 592.5,926 592.9,926.9 593.3,921.7 593.7,927.8 594.1,919.9 594.5,921.7 594.9,923.3 595.3,927.2 595.7,922.8 596.1,922 596.5,923 596.9,923.5 597.3,931.5 597.7,924.1 598.1,925 598.5,924.1 598.9,929.2 599.3,932.9 599.7,931 600.1,933.7 600.5,926.1 600.9,928.2 601.3,932.1 601.7,926.9 602.1,932.9 602.5,932.2 602.9,928.5 603.3,928.5 603.7,933.6 604.1,932 604.5,927.2 604.9,934.5 605.3,935.4 605.7,927.1 606.1,929.3 606.5,927.3 606.9,934.5 607.3,928.5 607.7,929.5 608.1,929.3 608.5,935.9 608.9,936.1 609.3,932.7 609.7,939.3 610.1,939.4 610.5,938.2 610.9,940.3 611.3,933.3 611.7,939.5 612.1,933.3 612.5,933.7 612.9,935.5 613.3,942.1 613.7,941.9 614.1,941.6 614.5,942.4 614.9,939.6 615.3,942.7 615.7,938.7 616.1,937.1 616.5,938.1 616.9,938.8 617.3,942.7 617.7,938 618.1,944.2 618.5,937.2 618.9,938.6 619.3,945.3 619.7,940.6 620.1,939.2 620.5,946.7 620.9,943 621.3,941.4 621.7,948.7 622.1,947 622.5,947.3 622.9,947.2 623.3,947.4 623.7,942.1 624.1,942.5 624.5,950.3 624.9,951 625.3,944.8 625.7,949.6 626.1,949.2 626.5,947.2 626.9,949 627.3,951 627.7,952 628.1,946 628.5,949.2 628.9,945.2 629.3,944.2 629.7,951.3 630.1,951.7 630.5,945.5 630.9,951.1 631.3,947.5 631.7,948.2 632.1,953.9 632.5,956 632.9,953.1 633.3,957.1 633.7,948.8 634.1,955.1 634.5,957.6 634.9,952.5 635.3,950.7 635.7,957.1 636.1,958.6 636.5,951.4 636.9,952.7 637.3,956.2 637.7,959 638.1,959.9 638.5,959.1 638.9,952.9 639.3,960.2 639.7,954.1 640.1,953.1 640.5,960.2 640.9,959.6 641.3,953.4 641.7,953.2 642.1,959.4 642.5,955.9 642.9,952.9 643.3,954.5 643.7,959 644.1,956.3 644.5,953.5 644.9,953.7 645.3,961.9 645.7,954.5 646.1,959.6 646.5,961.1 646.9,959.6 647.3,956.2 647.7,954.9 648.1,959.5 648.5,961 648.9,954.3 649.3,954.6 649.7,954.9 650.1,961.6 650.5,954.6 650.9,962.3 651.3,960.4 651.7,961.8 652.1,957.2 652.5,961.3 652.9,957.3 653.3,960.8 653.7,956.7 654.1,954.3 654.5,954 654.9,958.3 655.3,961.8 655.7,953.8 656.1,962.2 656.5,957.1 656.9,956.9 657.3,959 657.7,955.2 658.1,962.1 658.5,953.7 658.9,957.7 659.3,962 659.7,962.5 660.1,961.6 660.5,957.5 660.9,960.5 661.3,959.6 661.7,954.2 662.1,954.7 662.5,961.2 662.9,960.5 663.3,954.7 663.7,962.4 664.1,962.5 664.5,961.8 664.9,957.1 665.3,962.1 665.7,960.1 666.1,954.4 666.5,959.9 666.9,954.2 667.3,961.7 667.7,954.2 668.1,954.2 668.5,953.8 668.9,962 669.3,953.9 669.7,960.1 670.1,960.4 670.5,955.8 670.9,961.6 671.3,961.1 671.7,960.5 672.1,956.6 672.5,960.2 672.9,959.6 673.3,956.5 673.7,961.8 674.1,954.5 674.5,962.2 674.9,958.7 675.3,961.7 675.7,954.6 676.1,960.4 676.5,954.6 676.9,955.3 677.3,959 677.7,953.7 678.1,958.8 678.5,954.1 678.9,957.1 679.3,956.6 679.7,958.8 680.1,959.3 680.5,951.8 680.9,956.8 681.3,956.4 681.7,949.8 682.1,949.8 682.5,954 682.9,957.1 683.3,953.4 683.7,953.1 684.1,956.2 684.5,951.3 684.9,955.8 685.3,956.1 685.7,955.7 686.1,955 686.5,950 686.9,953.2 687.3,954.7 687.7,954.6 688.1,948.9 688.5,952.9 688.9,954.5 689.3,946.7 689.7,952.5 690.1,947 690.5,952.6 690.9,951.9 691.3,952.1 691.7,944.1 692.1,949 692.5,950.2 692.9,949.8 693.3,949.4 693.7,950 694.1,943 694.5,949 694.9,948.4 695.3,940.6 695.7,942.8 696.1,947.4 696.5,947.9 696.9,940.2 697.3,940.5 697.7,940.2 698.1,947.4 698.5,945.5 698.9,940.8 699.3,938.8 699.7,944.7 700.1,946.6 700.5,941.6 700.9,939.7 701.3,939.6 701.7,945.4 702.1,939.5 702.5,937.8 702.9,936.6 703.3,934.9 703.7,937.2 704.1,941.8 704.5,934.5 704.9,934 705.3,941 705.7,933.3 706.1,938.2 706.5,932.8 706.9,938.1 707.3,933.6 707.7,931.9 708.1,938 708.5,939.2 708.9,938.5 709.3,938.2 709.7,937 710.1,931.8 710.5,930.1 710.9,937.6 711.3,936.9 711.7,932.3 712.1,937.1 712.5,937.3 712.9,936.6 713.3,931.7 713.7,928.9 714.1,930.3 714.5,935.2 714.9,933.6 715.3,926.9 715.7,926 716.1,931.9 716.5,932.3 716.9,932.7 717.3,925.2 717.7,926.5 718.1,929.6 718.5,924.6 718.9,923.7 719.3,923.3 719.7,929.7 720.1,923.6 720.5,924.1 720.9,930.6 721.3,923.5 721.7,922.2 722.1,922 722.5,927.9 722.9,929.7 723.3,927.3 723.7,929.7 724.1,927.8 724.5,922.6 724.9,929.4 725.3,921.4 725.7,922.6 726.1,928.6 726.5,921.2 726.9,922.1 727.3,922.4 727.7,928.3 728.1,922.1 728.5,928.3 728.9,921.6 729.3,922 729.7,928.6 730.1,926.8 730.5,920.6 730.9,921.9 731.3,921 731.7,921.5 732.1,920.4 732.5,926 732.9,922 733.3,920.9 733.7,924.9 734.1,921.7 734.5,924.9 734.9,927.3 735.3,927.7 735.7,925.4 736.1,926.4 736.5,927.3 736.9,927.3 737.3,922 737.7,926.7 738.1,927.3 738.5,925.7 738.9,927.8 739.3,921.6 739.7,925.3 740.1,926.8 740.5,921 740.9,925.8 741.3,920.1 741.7,928.1 742.1,925.3 742.5,928.1 742.9,928 743.3,928.1 743.7,920.7 744.1,923.3 744.5,919.7 744.9,921.2 745.3,919.5 745.7,921.7 746.1,926.3 746.5,919.6 746.9,920.7 747.3,925.2 747.7,922.1 748.1,925.6 748.5,919.9 748.9,925.1 749.3,927.7 749.7,922.1 750.1,927.3 750.5,922.1 750.9,925.6 751.3,928 751.7,926 752.1,920.6 752.5,922.7 752.9,920.9 753.3,926.8 753.7,920.6 754.1,928 754.5,927.1 754.9,926.5 755.3,920.8 755.7,926.4 756.1,927.7 756.5,921.1 756.9,919.8 757.3,927.3 757.7,927.9 758.1,925.6 758.5,926.7 758.9,923.4 759.3,928.2 759.7,927.6 760.1,921.5 760.5,920.2 760.9,927.6 761.3,927.4 761.7,929.3 762.1,921.7 762.5,930.1 762.9,922.2 763.3,923.8 763.7,929.9 764.1,924.7 764.5,929.2 764.9,924.9 765.3,925.2 765.7,924.4 766.1,933.3 766.5,932.2 766.9,931.3 767.3,933.7 767.7,933 768.1,933.9 768.5,926.9 768.9,927.8 769.3,927.8 769.7,926.5 770.1,928.4 770.5,927.8 770.9,934.3 771.3,926.8 771.7,935.2 772.1,928.5 772.5,935.1 772.9,928.2 773.3,928.1 773.7,930.2 774.1,936.8 774.5,936.6 774.9,932.4 775.3,938.5 775.7,931.1 776.1,939 776.5,937.6 776.9,933.3 777.3,939.8 777.7,939.4 778.1,941.3 778.5,940.3 778.9,938.7 779.3,940.8 779.7,941.4 780.1,940.7 780.5,942.1 780.9,934.4 781.3,934.7 781.7,943.1 782.1,941.8 782.5,934.7 782.9,942.3 783.3,941.3 783.7,943 784.1,936.8 784.5,943.9 784.9,937.3 785.3,938.2 785.7,940.5 786.1,945.3 786.5,941.6 786.9,947.5 787.3,948.2 787.7,945.6 788.1,947 788.5,944.4 788.9,947.2 789.3,949.6 789.7,948.5 790.1,950.3 790.5,950 790.9,943.1 791.3,949.4 791.7,949.5 792.1,951.4 792.5,943.8 792.9,950.9 793.3,951.6 793.7,943.9 794.1,950.9 794.5,944.8 794.9,951.7 795.3,951.8 795.7,945.4 796.1,951.5 796.5,945.4 796.9,951.1 797.3,947.6 797.7,953.6 798.1,952.5 798.5,948.8 798.9,953.7 799.3,949.2 799.7,949.4 800.1,956.4 800.5,949.5 800.9,956.9 801.3,952.9 801.7,957.7 802.1,953.5 802.5,955.7 802.9,950.8 803.3,956.7 803.7,959 804.1,953.5 804.5,951.5 804.9,959.9 805.3,953.8 805.7,954.2 806.1,960.7 806.5,954.2 806.9,953.6 807.3,959.7 807.7,953.9 808.1,961.2 808.5,960.5 808.9,952.9 809.3,953.1 809.7,955.5 810.1,952.9 810.5,954.9 810.9,961.3 811.3,953.7 811.7,960.5 812.1,953.7 812.5,954.9 812.9,954.6 813.3,961.2 813.7,953.5 814.1,954.9 814.5,955.2 814.9,954.9 815.3,962.1 815.7,959 816.1,953.6 816.5,961 816.9,955.4 817.3,961.8 817.7,960.3 818.1,958.8 818.5,959.6 818.9,960.2 819.3,962.2 819.7,954.9 820.1,953.9 820.5,954.6 820.9,953.7 821.3,960.4 821.7,959.9 822.1,954.4 822.5,962.3 822.9,955.5 823.3,962.4 823.7,956.9 824.1,961.3 824.5,954.7 824.9,954.7 825.3,955.1 825.7,957.1 826.1,954.5 826.5,957 826.9,955.1 827.3,956.1 827.7,960.7 828.1,961 828.5,962.4 828.9,959.9 829.3,953.8 829.7,954.7 830.1,954.7 830.5,962.3 830.9,955.4 831.3,956.8 831.7,961.9 832.1,957.2 832.5,955.9 832.9,959.9 833.3,956.4 833.7,962 834.1,961.6 834.5,956.2 834.9,962.6 835.3,960.7 835.7,961 836.1,957 836.5,962 836.9,954.5 837.3,954.9 837.7,962 838.1,962.1 838.5,962 838.9,962.1 839.3,961.2 839.7,956.7 840.1,960.9 840.5,954 840.9,955.3 841.3,961.9 841.7,956.7 842.1,955.2 842.5,960 842.9,954.2 843.3,962.3 843.7,956.7 844.1,956.8 844.5,960.6 844.9,959.6 845.3,954.7 845.7,954.7 846.1,956.2 846.5,951.6 846.9,957.5 847.3,957.6 847.7,951.4 848.1,956.7 848.5,957.6 848.9,949.4 849.3,955.3 849.7,951 850.1,954.8 850.5,955.5 850.9,954.1 851.3,953.4 851.7,951.1 852.1,955.9 852.5,950.2 852.9,955.6 853.3,948.9 853.7,952.8 854.1,955.3 854.5,954.5 854.9,947.6 855.3,953.5 855.7,952.6 856.1,954.3 856.5,947.5 856.9,953.9 857.3,945.5 857.7,952.7 858.1,945.7 858.5,948.3 858.9,948.1 859.3,950.6 859.7,950.4 860.1,941.7 860.5,942.1 860.9,941 861.3,947.6 861.7,946.8 862.1,948.5 862.5,940.7 862.9,942.2 863.3,940.9 863.7,942.1 864.1,940.6 864.5,947.4 864.9,939.2 865.3,941.6 865.7,946.5" fill="none" stroke="#14bcbc" stroke-width="1.5" stroke-linejoin="round"/>
<rect x="33.4" y="1054.1" width="355.6" height="24.9" rx="6.5" fill="#fff" stroke="#6a6a6a" stroke-width="1.8"/>
<rect x="39.3" y="1058.4" width="27.5" height="17.9" rx="8.9" fill="#1010f5"/>
<text x="48.6" y="1072.3" font-family="'Liberation Sans', sans-serif" font-size="16" font-weight="normal" fill="#000" stroke="#000" stroke-width="0.5">1</text>
<text x="86.4" y="1072.7" font-family="'Liberation Sans', sans-serif" font-size="16" font-weight="normal" fill="#2a2af0" textLength="49" lengthAdjust="spacing" stroke="#2a2af0" stroke-width="0.45">200 V</text>
<rect x="216.6" y="1058.2" width="27.7" height="18.3" rx="9.1" fill="#18dcdc"/>
<text x="226" y="1072.5" font-family="'Liberation Sans', sans-serif" font-size="16" font-weight="normal" fill="#000" stroke="#000" stroke-width="0.5">2</text>
<text x="264.2" y="1072.7" font-family="'Liberation Sans', sans-serif" font-size="16" font-weight="normal" fill="#22d4d4" textLength="57" lengthAdjust="spacing" stroke="#22d4d4" stroke-width="0.45">2.00 A</text>
<rect x="393.8" y="1054.1" width="374.6" height="42.8" rx="7" fill="#fff" stroke="#6a6a6a" stroke-width="1.8"/>
<text x="400" y="1072.7" font-family="'Liberation Sans', sans-serif" font-size="16" font-weight="normal" fill="#1a1a1a" textLength="63" lengthAdjust="spacing" stroke="#1a1a1a" stroke-width="0.45">10.0ms</text>
<text x="553.4" y="1072.7" font-family="'Liberation Sans', sans-serif" font-size="16" font-weight="normal" fill="#1a1a1a" textLength="71" lengthAdjust="spacing" stroke="#1a1a1a" stroke-width="0.45">100kS/s</text>
<rect x="694.8" y="1059.1" width="27.3" height="16.9" rx="8.5" fill="#1010f5"/>
<text x="704.1" y="1072" font-family="'Liberation Sans', sans-serif" font-size="16" font-weight="normal" fill="#000" stroke="#000" stroke-width="0.5">1</text>
<path d="M737.5 1071.4c3 0 4-1 5-4.5s2-4.5 6-4.5" fill="none" stroke="#111" stroke-width="2"/>
<rect x="398" y="1079.2" width="13" height="14" rx="2" fill="#ff8c0a"/>
<path d="M400.5 1081.9h8M404.5 1081.9v9" stroke="#fff" stroke-width="2" fill="none"/>
<path d="M412 1086.2h8" stroke="#ff8c0a" stroke-width="1.6"/>
<path d="M418.5 1083.4l3.5 2.8l-3.5 2.8z" fill="#ff8c0a"/>
<path d="M424 1081.4h11l-5.5 8z" fill="#ff8c0a"/>
<text x="437.3" y="1092.4" font-family="'Liberation Sans', sans-serif" font-size="16" font-weight="normal" fill="#ff8c0a" textLength="86.5" lengthAdjust="spacing" stroke="#ff8c0a" stroke-width="0.45">0.00000 s</text>
<text x="553.4" y="1092.4" font-family="'Liberation Sans', sans-serif" font-size="16" font-weight="normal" fill="#1a1a1a" textLength="94" lengthAdjust="spacing" stroke="#1a1a1a" stroke-width="0.45">10k points</text>
<text x="702.6" y="1092.4" font-family="'Liberation Sans', sans-serif" font-size="16" font-weight="normal" fill="#1a1a1a" textLength="56" lengthAdjust="spacing" stroke="#1a1a1a" stroke-width="0.45">0.00 V</text>
<rect x="773.4" y="1054.1" width="122.2" height="42.8" rx="7" fill="#fff" stroke="#6a6a6a" stroke-width="1.8"/>
<text x="778.4" y="1072.7" font-family="'Liberation Sans', sans-serif" font-size="16" font-weight="normal" fill="#1a1a1a" textLength="56.5" lengthAdjust="spacing" stroke="#1a1a1a" stroke-width="0.45">25 Apr</text>
<text x="848.3" y="1072.7" font-family="'Liberation Sans', sans-serif" font-size="16" font-weight="normal" fill="#1a1a1a" textLength="43" lengthAdjust="spacing" stroke="#1a1a1a" stroke-width="0.45">2019</text>
<text x="778.4" y="1092.4" font-family="'Liberation Sans', sans-serif" font-size="16" font-weight="normal" fill="#1a1a1a" textLength="77.5" lengthAdjust="spacing" stroke="#1a1a1a" stroke-width="0.45">16:12:27</text>
<rect x="198.3" y="605.9" width="105" height="26.5" fill="#ffd966"/>
<text x="209.5" y="626.6" font-family="'Liberation Serif', serif" font-weight="bold" font-size="22" fill="#000">MI = 1.0</text>
<rect x="572.1" y="610.8" width="105.8" height="26.1" fill="#ffd966"/>
<text x="583.8" y="631.6" font-family="'Liberation Serif', serif" font-weight="bold" font-size="22" fill="#000">MI = 0.4</text>
<rect x="108.3" y="632.2" width="94" height="26" fill="#ffd966"/>
<text x="112" y="652.6" font-family="'Liberation Serif', serif" font-weight="bold" font-size="22.3" fill="#000">200V/div</text>
<line x1="100.4" y1="623.9" x2="100.4" y2="665.8" stroke="#ff0000" stroke-width="2.8"/>
<path d="M100.4 608L109.3 625.9L91.5 625.9Z" fill="#ff0000"/>
<line x1="88.5" y1="660.7" x2="109.7" y2="670.9" stroke="#ff0000" stroke-width="3"/>
<rect x="173.7" y="806.4" width="165.3" height="26.2" fill="#ffd966"/>
<text x="185.3" y="826.8" font-family="'Liberation Serif', serif" font-weight="bold" font-size="22" fill="#000">Output Voltage</text>
<line x1="240.2" y1="807.1" x2="190" y2="762.9" stroke="#ff0000" stroke-width="3.2"/>
<path d="M179.5 753.7L198.8 759L187.2 772.2Z" fill="#ff0000"/>
<rect x="469.5" y="795.6" width="132.9" height="25.6" fill="#ffd966"/>
<text x="471" y="816.2" font-family="'Liberation Serif', serif" font-weight="bold" font-size="22" fill="#000">Change of MI</text>
<path d="M503.2 823.1C488.4 840.8 472.4 847.8 451.4 845.3S416.4 839.8 405.4 838.1" fill="none" stroke="#ff0000" stroke-width="3.5" stroke-linecap="round"/>
<path d="M390.7 834.4L409.5 829L406.1 846.1Z" fill="#ff0000"/>
<ellipse cx="370" cy="836.7" rx="21.2" ry="154" fill="none" stroke="#ff0000" stroke-width="2.6"/>
<rect x="103.9" y="852.2" width="86" height="26.3" fill="#ffd966"/>
<text x="114" y="873.2" font-family="'Liberation Serif', serif" font-weight="bold" font-size="22.5" fill="#000">2A/div</text>
<line x1="100.7" y1="846.3" x2="100.7" y2="887.7" stroke="#ff0000" stroke-width="2.8"/>
<path d="M100.7 831L109.6 848.3L91.8 848.3Z" fill="#ff0000"/>
<line x1="89.2" y1="883.4" x2="110.5" y2="894" stroke="#ff0000" stroke-width="3"/>
<rect x="167.7" y="1012.6" width="156.8" height="26" fill="#ffd966"/>
<text x="170.8" y="1033" font-family="'Liberation Serif', serif" font-weight="bold" font-size="22" fill="#000">Output Current</text>
<line x1="251.9" y1="1012" x2="204.1" y2="963.7" stroke="#ff0000" stroke-width="3.2"/>
<path d="M194.3 953.7L213.2 960.3L200.7 972.7Z" fill="#ff0000"/>
<rect x="655.4" y="1012" width="194.6" height="26" fill="#ffd966"/>
<text x="671.2" y="1032.4" font-family="'Liberation Serif', serif" font-weight="bold" font-size="22.4" fill="#000">Z = (60+<tspan font-style="italic">i</tspan>94.24)Ω</text>
<text x="440" y="1164" font-family="'Liberation Serif', serif" font-size="25.2" font-weight="normal" fill="#000">(</text>
<text x="447.9" y="1163.4" font-family="'Liberation Serif', serif" font-size="26" font-weight="bold" fill="#000">b</text>
<text x="463.5" y="1164" font-family="'Liberation Serif', serif" font-size="25.2" font-weight="normal" fill="#000">)</text>
</svg>
</body></html>
